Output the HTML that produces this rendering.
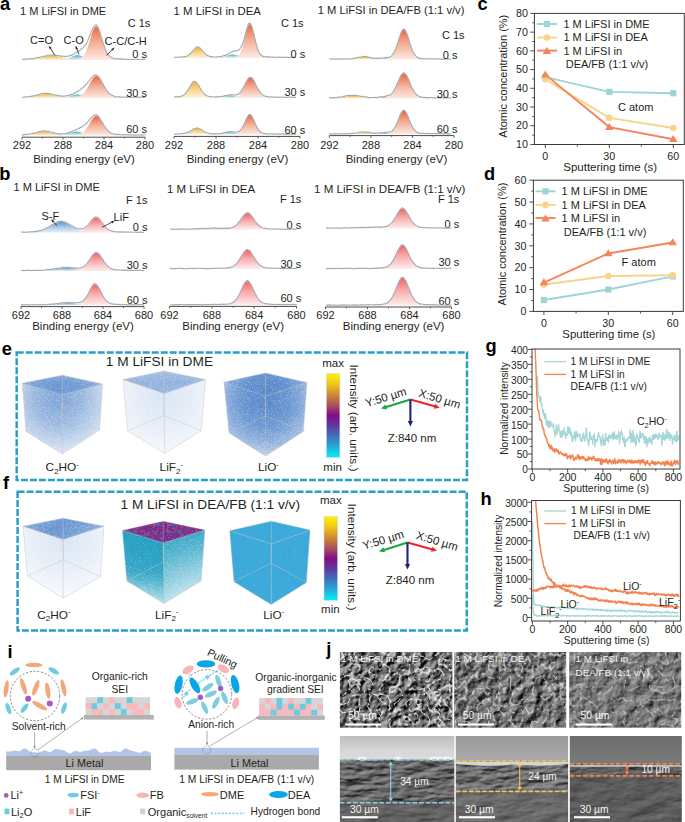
<!DOCTYPE html>
<html><head><meta charset="utf-8"><style>
html,body{margin:0;padding:0;background:#fff;}
svg{display:block;font-family:"Liberation Sans", sans-serif;}
</style></head><body>
<svg width="685" height="822" viewBox="0 0 685 822">
<defs><linearGradient id="gCC" x1="0" y1="0" x2="0" y2="1"><stop offset="0" stop-color="#eb6440"/><stop offset="0.45" stop-color="#f4ab92"/><stop offset="1" stop-color="#fcebe4"/></linearGradient><linearGradient id="gCO2" x1="0" y1="0" x2="0" y2="1"><stop offset="0" stop-color="#f0b22e"/><stop offset="0.45" stop-color="#f8d48a"/><stop offset="1" stop-color="#fdf3dc"/></linearGradient><linearGradient id="gCO" x1="0" y1="0" x2="0" y2="1"><stop offset="0" stop-color="#3cb4be"/><stop offset="0.45" stop-color="#98d6da"/><stop offset="1" stop-color="#e2f4f5"/></linearGradient><linearGradient id="gLiF" x1="0" y1="0" x2="0" y2="1"><stop offset="0" stop-color="#f46262"/><stop offset="0.45" stop-color="#f9abab"/><stop offset="1" stop-color="#fdeeee"/></linearGradient><linearGradient id="gSF" x1="0" y1="0" x2="0" y2="1"><stop offset="0" stop-color="#5596ce"/><stop offset="0.45" stop-color="#a4c6e6"/><stop offset="1" stop-color="#eaf2fa"/></linearGradient><clipPath id="clipg"><rect x="532.0" y="349.0" width="148.0" height="120.0"/></clipPath><clipPath id="cliph"><rect x="531.6" y="500.5" width="148.8" height="120.5"/></clipPath><linearGradient id="cbar" x1="0" y1="0" x2="0" y2="1"><stop offset="0" stop-color="#fff200"/><stop offset="0.12" stop-color="#f0c818"/><stop offset="0.25" stop-color="#d08a32"/><stop offset="0.38" stop-color="#a85060"/><stop offset="0.5" stop-color="#840a84"/><stop offset="0.63" stop-color="#5c3ea2"/><stop offset="0.76" stop-color="#3c78c0"/><stop offset="0.88" stop-color="#22b0d8"/><stop offset="1" stop-color="#00f0f8"/></linearGradient><filter id="sn1" x="-0.02" y="-0.02" width="1.04" height="1.04" color-interpolation-filters="sRGB"><feTurbulence type="fractalNoise" baseFrequency="1.3" numOctaves="2" seed="3" result="t"/><feColorMatrix in="t" type="matrix" values="0 0 0 0 1 0 0 0 0 1 0 0 0 0 1 1.1 0 0 0 0.44999999999999996" result="n"/><feComposite in="SourceGraphic" in2="n" operator="arithmetic" k1="1" k2="0" k3="0" k4="0"/><feComponentTransfer><feFuncA type="table" tableValues="0 0.22 0.46 0.7 0.9 1 1"/></feComponentTransfer></filter><radialGradient id="cg1" cx="0.45" cy="0.3" r="0.7"><stop offset="0" stop-color="#4a80c8" stop-opacity="0.52"/><stop offset="0.45" stop-color="#4a80c8" stop-opacity="0.4"/><stop offset="0.8" stop-color="#4a80c8" stop-opacity="0.24"/><stop offset="1" stop-color="#4a80c8" stop-opacity="0.14"/></radialGradient><linearGradient id="cg2" x1="0" y1="0" x2="0" y2="1"><stop offset="0" stop-color="#4a80c8" stop-opacity="0.16"/><stop offset="0.5" stop-color="#4a80c8" stop-opacity="0.28"/><stop offset="1" stop-color="#4a80c8" stop-opacity="0.22"/></linearGradient><filter id="sn2" x="-0.02" y="-0.02" width="1.04" height="1.04" color-interpolation-filters="sRGB"><feTurbulence type="fractalNoise" baseFrequency="1.3" numOctaves="2" seed="4" result="t"/><feColorMatrix in="t" type="matrix" values="0 0 0 0 1 0 0 0 0 1 0 0 0 0 1 1.1 0 0 0 0.44999999999999996" result="n"/><feComposite in="SourceGraphic" in2="n" operator="arithmetic" k1="1" k2="0" k3="0" k4="0"/><feComponentTransfer><feFuncA type="table" tableValues="0 0.22 0.46 0.7 0.9 1 1"/></feComponentTransfer></filter><radialGradient id="cg3" cx="0.5" cy="0.3" r="0.7"><stop offset="0" stop-color="#4a80c8" stop-opacity="0.16"/><stop offset="0.6" stop-color="#4a80c8" stop-opacity="0.1"/><stop offset="1" stop-color="#4a80c8" stop-opacity="0.04"/></radialGradient><linearGradient id="cg4" x1="0" y1="0" x2="0" y2="1"><stop offset="0" stop-color="#4a80c8" stop-opacity="0.28"/><stop offset="0.5" stop-color="#4a80c8" stop-opacity="0.36"/><stop offset="1" stop-color="#4a80c8" stop-opacity="0.3"/></linearGradient><filter id="sn3" x="-0.02" y="-0.02" width="1.04" height="1.04" color-interpolation-filters="sRGB"><feTurbulence type="fractalNoise" baseFrequency="1.3" numOctaves="2" seed="5" result="t"/><feColorMatrix in="t" type="matrix" values="0 0 0 0 1 0 0 0 0 1 0 0 0 0 1 1.1 0 0 0 0.44999999999999996" result="n"/><feComposite in="SourceGraphic" in2="n" operator="arithmetic" k1="1" k2="0" k3="0" k4="0"/><feComponentTransfer><feFuncA type="table" tableValues="0 0.22 0.46 0.7 0.9 1 1"/></feComponentTransfer></filter><radialGradient id="cg5" cx="0.5" cy="0.33" r="0.68"><stop offset="0" stop-color="#4a80c8" stop-opacity="0.7"/><stop offset="0.45" stop-color="#4a80c8" stop-opacity="0.6"/><stop offset="0.8" stop-color="#4a80c8" stop-opacity="0.4"/><stop offset="1" stop-color="#4a80c8" stop-opacity="0.25"/></radialGradient><linearGradient id="cg6" x1="0" y1="0" x2="0" y2="1"><stop offset="0" stop-color="#4a80c8" stop-opacity="0.08"/><stop offset="1" stop-color="#4a80c8" stop-opacity="0.12"/></linearGradient><filter id="sn4" x="-0.02" y="-0.02" width="1.04" height="1.04" color-interpolation-filters="sRGB"><feTurbulence type="fractalNoise" baseFrequency="1.3" numOctaves="2" seed="6" result="t"/><feColorMatrix in="t" type="matrix" values="0 0 0 0 1 0 0 0 0 1 0 0 0 0 1 1.1 0 0 0 0.44999999999999996" result="n"/><feComposite in="SourceGraphic" in2="n" operator="arithmetic" k1="1" k2="0" k3="0" k4="0"/><feComponentTransfer><feFuncA type="table" tableValues="0 0.22 0.46 0.7 0.9 1 1"/></feComponentTransfer></filter><radialGradient id="cg7" cx="0.5" cy="0.25" r="0.7"><stop offset="0" stop-color="#4a80c8" stop-opacity="0.16"/><stop offset="0.6" stop-color="#4a80c8" stop-opacity="0.1"/><stop offset="1" stop-color="#4a80c8" stop-opacity="0.04"/></radialGradient><linearGradient id="cg8" x1="0" y1="0" x2="1" y2="0.4"><stop offset="0" stop-color="#4a80c8" stop-opacity="0.4"/><stop offset="0.5" stop-color="#4a80c8" stop-opacity="0.55"/><stop offset="1" stop-color="#4a80c8" stop-opacity="0.42"/></linearGradient><filter id="sn5" x="-0.02" y="-0.02" width="1.04" height="1.04" color-interpolation-filters="sRGB"><feTurbulence type="fractalNoise" baseFrequency="1.3" numOctaves="2" seed="7" result="t"/><feColorMatrix in="t" type="matrix" values="0 0 0 0 1 0 0 0 0 1 0 0 0 0 1 1.0 0 0 0 0.5" result="n"/><feComposite in="SourceGraphic" in2="n" operator="arithmetic" k1="1" k2="0" k3="0" k4="0"/><feComponentTransfer><feFuncA type="table" tableValues="0 0.22 0.46 0.7 0.9 1 1"/></feComponentTransfer></filter><linearGradient id="cg9" x1="0" y1="0" x2="0" y2="1"><stop offset="0" stop-color="#762e8c" stop-opacity="0.92"/><stop offset="1" stop-color="#762e8c" stop-opacity="0.92"/></linearGradient><linearGradient id="cg10" x1="0" y1="0" x2="0" y2="1"><stop offset="0" stop-color="#1f9dc0" stop-opacity="0.8"/><stop offset="0.55" stop-color="#1f9dc0" stop-opacity="0.66"/><stop offset="1" stop-color="#1f9dc0" stop-opacity="0.1"/></linearGradient><linearGradient id="cg11" x1="0" y1="0" x2="1" y2="0"><stop offset="0" stop-color="#1f9dc0" stop-opacity="0.0"/><stop offset="0.7" stop-color="#1f9dc0" stop-opacity="0.12"/><stop offset="1" stop-color="#1f9dc0" stop-opacity="0.18"/></linearGradient><linearGradient id="cg12" x1="0" y1="0" x2="0" y2="1"><stop offset="0" stop-color="#1f9dc0" stop-opacity="0.66"/><stop offset="0.5" stop-color="#1f9dc0" stop-opacity="0.36"/><stop offset="1" stop-color="#1f9dc0" stop-opacity="0.04"/></linearGradient><linearGradient id="cg13" x1="0" y1="0" x2="1" y2="0"><stop offset="0" stop-color="#1f9dc0" stop-opacity="0.2"/><stop offset="1" stop-color="#1f9dc0" stop-opacity="0.0"/></linearGradient><filter id="sp6" x="0" y="0" width="1" height="1" color-interpolation-filters="sRGB"><feTurbulence type="fractalNoise" baseFrequency="0.3" numOctaves="2" seed="31" result="t"/><feColorMatrix in="t" type="matrix" values="0 0 0 0 0 0 0 0 0 0 0 0 0 0 0 1 0 0 0 0" result="na"/><feComposite in="SourceAlpha" in2="na" operator="arithmetic" k1="0" k2="5.0" k3="-5.0" k4="0.5" result="m"/><feFlood flood-color="#c04a66"/><feComposite in2="m" operator="in"/></filter><filter id="sp7" x="0" y="0" width="1" height="1" color-interpolation-filters="sRGB"><feTurbulence type="fractalNoise" baseFrequency="0.26" numOctaves="2" seed="32" result="t"/><feColorMatrix in="t" type="matrix" values="0 0 0 0 0 0 0 0 0 0 0 0 0 0 0 1 0 0 0 0" result="na"/><feComposite in="SourceAlpha" in2="na" operator="arithmetic" k1="0" k2="5.0" k3="-5.0" k4="0.5" result="m"/><feFlood flood-color="#5060bc"/><feComposite in2="m" operator="in"/></filter><filter id="sp8" x="0" y="0" width="1" height="1" color-interpolation-filters="sRGB"><feTurbulence type="fractalNoise" baseFrequency="0.7" numOctaves="2" seed="33" result="t"/><feColorMatrix in="t" type="matrix" values="0 0 0 0 0 0 0 0 0 0 0 0 0 0 0 1 0 0 0 0" result="na"/><feComposite in="SourceAlpha" in2="na" operator="arithmetic" k1="0" k2="5.0" k3="-5.0" k4="0.5" result="m"/><feFlood flood-color="#e06848"/><feComposite in2="m" operator="in"/></filter><filter id="sn9" x="-0.02" y="-0.02" width="1.04" height="1.04" color-interpolation-filters="sRGB"><feTurbulence type="fractalNoise" baseFrequency="1.3" numOctaves="2" seed="8" result="t"/><feColorMatrix in="t" type="matrix" values="0 0 0 0 1 0 0 0 0 1 0 0 0 0 1 1.1 0 0 0 0.44999999999999996" result="n"/><feComposite in="SourceGraphic" in2="n" operator="arithmetic" k1="1" k2="0" k3="0" k4="0"/><feComponentTransfer><feFuncA type="table" tableValues="0 0.22 0.46 0.7 0.9 1 1"/></feComponentTransfer></filter><linearGradient id="cg14" x1="0" y1="0" x2="0" y2="1"><stop offset="0" stop-color="#3ba9da" stop-opacity="0.97"/><stop offset="1" stop-color="#3ba9da" stop-opacity="0.97"/></linearGradient><linearGradient id="cg15" x1="0" y1="0" x2="0" y2="1"><stop offset="0" stop-color="#3ba9da" stop-opacity="0.97"/><stop offset="0.7" stop-color="#3ba9da" stop-opacity="0.97"/><stop offset="1" stop-color="#3ba9da" stop-opacity="0.91"/></linearGradient><linearGradient id="cg16" x1="0" y1="0" x2="0" y2="1"><stop offset="0" stop-color="#3ba9da" stop-opacity="0.97"/><stop offset="0.7" stop-color="#3ba9da" stop-opacity="0.97"/><stop offset="1" stop-color="#3ba9da" stop-opacity="0.83"/></linearGradient><filter id="semT1" x="0" y="0" width="1" height="1" color-interpolation-filters="sRGB"><feTurbulence type="fractalNoise" baseFrequency="0.13" numOctaves="4" seed="4" result="n"/><feDiffuseLighting in="n" surfaceScale="2.6" diffuseConstant="1" lighting-color="#fff"><feDistantLight azimuth="225" elevation="40"/></feDiffuseLighting><feColorMatrix type="matrix" values="0.95 0 0 0 -0.22 0.95 0 0 0 -0.22 0.95 0 0 0 -0.22 0 0 0 0 1"/><feComposite in2="SourceGraphic" operator="in"/></filter><filter id="semT2" x="0" y="0" width="1" height="1" color-interpolation-filters="sRGB"><feTurbulence type="fractalNoise" baseFrequency="0.1" numOctaves="4" seed="3" result="n"/><feDiffuseLighting in="n" surfaceScale="2.4" diffuseConstant="1" lighting-color="#fff"><feDistantLight azimuth="225" elevation="45"/></feDiffuseLighting><feColorMatrix type="matrix" values="0.95 0 0 0 -0.25 0.95 0 0 0 -0.25 0.95 0 0 0 -0.25 0 0 0 0 1"/><feComposite in2="SourceGraphic" operator="in"/></filter><filter id="semT3" x="0" y="0" width="1" height="1" color-interpolation-filters="sRGB"><feTurbulence type="fractalNoise" baseFrequency="0.09" numOctaves="4" seed="6" result="n"/><feDiffuseLighting in="n" surfaceScale="2.0" diffuseConstant="1" lighting-color="#fff"><feDistantLight azimuth="225" elevation="50"/></feDiffuseLighting><feColorMatrix type="matrix" values="0.9 0 0 0 -0.23 0.9 0 0 0 -0.23 0.9 0 0 0 -0.23 0 0 0 0 1"/><feComposite in2="SourceGraphic" operator="in"/></filter><filter id="semM1" x="0" y="0" width="1" height="1" color-interpolation-filters="sRGB"><feTurbulence type="fractalNoise" baseFrequency="0.05 0.16" numOctaves="3" seed="14" result="n"/><feDiffuseLighting in="n" surfaceScale="2" diffuseConstant="1" lighting-color="#fff"><feDistantLight azimuth="225" elevation="45"/></feDiffuseLighting><feColorMatrix type="matrix" values="0.8 0 0 0 -0.16 0.8 0 0 0 -0.16 0.8 0 0 0 -0.16 0 0 0 0 1"/><feComposite in2="SourceGraphic" operator="in"/></filter><filter id="semM2" x="0" y="0" width="1" height="1" color-interpolation-filters="sRGB"><feTurbulence type="fractalNoise" baseFrequency="0.05 0.16" numOctaves="3" seed="15" result="n"/><feDiffuseLighting in="n" surfaceScale="2" diffuseConstant="1" lighting-color="#fff"><feDistantLight azimuth="225" elevation="45"/></feDiffuseLighting><feColorMatrix type="matrix" values="0.8 0 0 0 -0.14 0.8 0 0 0 -0.14 0.8 0 0 0 -0.14 0 0 0 0 1"/><feComposite in2="SourceGraphic" operator="in"/></filter><filter id="semM3" x="0" y="0" width="1" height="1" color-interpolation-filters="sRGB"><feTurbulence type="fractalNoise" baseFrequency="0.05 0.16" numOctaves="3" seed="16" result="n"/><feDiffuseLighting in="n" surfaceScale="1.5" diffuseConstant="1" lighting-color="#fff"><feDistantLight azimuth="225" elevation="45"/></feDiffuseLighting><feColorMatrix type="matrix" values="0.7 0 0 0 -0.12 0.7 0 0 0 -0.12 0.7 0 0 0 -0.12 0 0 0 0 1"/><feComposite in2="SourceGraphic" operator="in"/></filter><filter id="semL1" x="0" y="0" width="1" height="1" color-interpolation-filters="sRGB"><feTurbulence type="fractalNoise" baseFrequency="0.04 0.1" numOctaves="3" seed="17" result="n"/><feDiffuseLighting in="n" surfaceScale="1.2" diffuseConstant="1" lighting-color="#fff"><feDistantLight azimuth="225" elevation="50"/></feDiffuseLighting><feColorMatrix type="matrix" values="0.7 0 0 0 -0.15 0.7 0 0 0 -0.15 0.7 0 0 0 -0.15 0 0 0 0 1"/><feComposite in2="SourceGraphic" operator="in"/></filter><filter id="semL2" x="0" y="0" width="1" height="1" color-interpolation-filters="sRGB"><feTurbulence type="fractalNoise" baseFrequency="0.04 0.1" numOctaves="3" seed="18" result="n"/><feDiffuseLighting in="n" surfaceScale="1.2" diffuseConstant="1" lighting-color="#fff"><feDistantLight azimuth="225" elevation="50"/></feDiffuseLighting><feColorMatrix type="matrix" values="0.7 0 0 0 -0.13 0.7 0 0 0 -0.13 0.7 0 0 0 -0.13 0 0 0 0 1"/><feComposite in2="SourceGraphic" operator="in"/></filter><filter id="semL3" x="0" y="0" width="1" height="1" color-interpolation-filters="sRGB"><feTurbulence type="fractalNoise" baseFrequency="0.04 0.1" numOctaves="3" seed="19" result="n"/><feDiffuseLighting in="n" surfaceScale="1.2" diffuseConstant="1" lighting-color="#fff"><feDistantLight azimuth="225" elevation="50"/></feDiffuseLighting><feColorMatrix type="matrix" values="0.65 0 0 0 -0.14 0.65 0 0 0 -0.14 0.65 0 0 0 -0.14 0 0 0 0 1"/><feComposite in2="SourceGraphic" operator="in"/></filter><filter id="semE1" x="0" y="0" width="1" height="1" color-interpolation-filters="sRGB"><feTurbulence type="turbulence" baseFrequency="0.1" numOctaves="2" seed="21"/><feColorMatrix type="matrix" values="0 0 0 0 1 0 0 0 0 1 0 0 0 0 1 -7.0 0 0 0 1.3"/><feComposite in2="SourceGraphic" operator="in"/></filter><filter id="semE2" x="0" y="0" width="1" height="1" color-interpolation-filters="sRGB"><feTurbulence type="turbulence" baseFrequency="0.09" numOctaves="2" seed="22"/><feColorMatrix type="matrix" values="0 0 0 0 1 0 0 0 0 1 0 0 0 0 1 -7.0 0 0 0 1.15"/><feComposite in2="SourceGraphic" operator="in"/></filter><filter id="semE3" x="0" y="0" width="1" height="1" color-interpolation-filters="sRGB"><feTurbulence type="turbulence" baseFrequency="0.08" numOctaves="2" seed="23"/><feColorMatrix type="matrix" values="0 0 0 0 1 0 0 0 0 1 0 0 0 0 1 -7.0 0 0 0 1.05"/><feComposite in2="SourceGraphic" operator="in"/></filter><linearGradient id="skyB1" x1="0" y1="0" x2="0" y2="1"><stop offset="0" stop-color="#bdbdbd"/><stop offset="0.6" stop-color="#d6d6d6"/><stop offset="1" stop-color="#dcdcdc"/></linearGradient><linearGradient id="skyB2" x1="0" y1="0" x2="0" y2="1"><stop offset="0" stop-color="#9a9a9a"/><stop offset="1" stop-color="#ababab"/></linearGradient><linearGradient id="skyB3" x1="0" y1="0" x2="0" y2="1"><stop offset="0" stop-color="#6c6c6c"/><stop offset="1" stop-color="#7a7a7a"/></linearGradient></defs>
<rect width="685" height="822" fill="#fff"/>
<text x="0.00" y="10.00" font-size="18.3" font-weight="bold" fill="#000">a</text>
<text x="20.00" y="14.90" font-size="11" fill="#231f20">1 M LiFSI in DME</text>
<text x="173.50" y="14.60" font-size="11.4" fill="#231f20">1 M LiFSI in DEA</text>
<text x="317.70" y="13.60" font-size="11.2" fill="#231f20">1 M LiFSI in DEA/FB (1:1 v/v)</text>
<text x="150.30" y="27.00" font-size="11" text-anchor="end" fill="#231f20">C 1s</text>
<text x="303.50" y="26.90" font-size="11" text-anchor="end" fill="#231f20">C 1s</text>
<text x="464.50" y="39.30" font-size="11" text-anchor="end" fill="#231f20">C 1s</text>
<path d="M22.00,59.90 L22.00,59.74 L22.66,59.72 L23.33,59.71 L23.99,59.69 L24.65,59.67 L25.32,59.64 L25.98,59.62 L26.64,59.59 L27.31,59.55 L27.97,59.51 L28.63,59.47 L29.30,59.42 L29.96,59.37 L30.62,59.31 L31.29,59.25 L31.95,59.18 L32.61,59.10 L33.28,59.01 L33.94,58.92 L34.60,58.82 L35.27,58.71 L35.93,58.60 L36.59,58.48 L37.26,58.35 L37.92,58.21 L38.58,58.07 L39.25,57.92 L39.91,57.77 L40.57,57.61 L41.24,57.45 L41.90,57.29 L42.56,57.13 L43.23,56.96 L43.89,56.80 L44.55,56.64 L45.22,56.49 L45.88,56.34 L46.54,56.21 L47.21,56.08 L47.87,55.96 L48.53,55.86 L49.20,55.77 L49.86,55.70 L50.52,55.65 L51.19,55.61 L51.85,55.60 L52.51,55.61 L53.18,55.63 L53.84,55.68 L54.50,55.74 L55.17,55.82 L55.83,55.91 L56.49,56.02 L57.16,56.15 L57.82,56.28 L58.48,56.42 L59.15,56.58 L59.81,56.73 L60.47,56.89 L61.14,57.05 L61.80,57.22 L62.46,57.38 L63.13,57.54 L63.79,57.70 L64.45,57.86 L65.12,58.01 L65.78,58.15 L66.44,58.29 L67.11,58.42 L67.77,58.55 L68.43,58.66 L69.10,58.77 L69.76,58.88 L70.42,58.97 L71.09,59.06 L71.75,59.14 L72.41,59.22 L73.08,59.28 L73.74,59.35 L74.40,59.40 L75.07,59.45 L75.73,59.50 L76.40,59.54 L77.06,59.57 L77.72,59.60 L78.39,59.63 L79.05,59.66 L79.71,59.68 L80.38,59.70 L81.04,59.72 L81.70,59.73 L82.37,59.74 L83.03,59.75 L83.69,59.76 L84.36,59.77 L85.02,59.78 L85.68,59.79 L86.35,59.79 L87.01,59.80 L87.67,59.81 L88.34,59.81 L89.00,59.81 L89.66,59.82 L90.33,59.82 L90.99,59.82 L91.65,59.83 L92.32,59.83 L92.98,59.83 L93.64,59.83 L94.31,59.84 L94.97,59.84 L95.63,59.84 L96.30,59.84 L96.96,59.84 L97.62,59.84 L98.29,59.85 L98.95,59.85 L99.61,59.85 L100.28,59.85 L100.94,59.85 L101.60,59.85 L102.27,59.85 L102.93,59.85 L103.59,59.86 L104.26,59.86 L104.92,59.86 L105.58,59.86 L106.25,59.86 L106.91,59.86 L107.57,59.86 L108.24,59.86 L108.90,59.86 L109.56,59.86 L110.23,59.86 L110.89,59.87 L111.55,59.87 L112.22,59.87 L112.88,59.87 L113.54,59.87 L114.21,59.87 L114.87,59.87 L115.53,59.87 L116.20,59.87 L116.86,59.87 L117.52,59.87 L118.19,59.87 L118.85,59.87 L119.51,59.87 L120.18,59.87 L120.84,59.87 L121.50,59.88 L122.17,59.88 L122.83,59.88 L123.49,59.88 L124.16,59.88 L124.82,59.88 L125.48,59.88 L126.15,59.88 L126.81,59.88 L127.47,59.88 L128.14,59.88 L128.80,59.88 L128.80,59.90Z" fill="url(#gCO2)"/>
<path d="M29.50,59.90 L29.50,59.88 L30.16,59.88 L30.82,59.88 L31.49,59.88 L32.15,59.88 L32.81,59.87 L33.47,59.87 L34.13,59.87 L34.80,59.87 L35.46,59.87 L36.12,59.87 L36.78,59.87 L37.44,59.87 L38.11,59.87 L38.77,59.87 L39.43,59.87 L40.09,59.86 L40.76,59.86 L41.42,59.86 L42.08,59.86 L42.74,59.86 L43.40,59.86 L44.07,59.86 L44.73,59.85 L45.39,59.85 L46.05,59.85 L46.71,59.85 L47.38,59.85 L48.04,59.84 L48.70,59.84 L49.36,59.84 L50.02,59.84 L50.69,59.83 L51.35,59.83 L52.01,59.83 L52.67,59.82 L53.33,59.82 L54.00,59.81 L54.66,59.80 L55.32,59.80 L55.98,59.79 L56.64,59.78 L57.31,59.76 L57.97,59.75 L58.63,59.73 L59.29,59.70 L59.96,59.67 L60.62,59.64 L61.28,59.59 L61.94,59.54 L62.60,59.48 L63.27,59.40 L63.93,59.30 L64.59,59.20 L65.25,59.07 L65.91,58.92 L66.58,58.76 L67.24,58.57 L67.90,58.37 L68.56,58.14 L69.22,57.90 L69.89,57.65 L70.55,57.38 L71.21,57.10 L71.87,56.82 L72.53,56.54 L73.20,56.28 L73.86,56.03 L74.52,55.81 L75.18,55.62 L75.84,55.46 L76.51,55.36 L77.17,55.31 L77.83,55.31 L78.49,55.36 L79.16,55.46 L79.82,55.62 L80.48,55.81 L81.14,56.03 L81.80,56.28 L82.47,56.54 L83.13,56.82 L83.79,57.10 L84.45,57.38 L85.11,57.65 L85.78,57.90 L86.44,58.14 L87.10,58.37 L87.76,58.57 L88.42,58.76 L89.09,58.92 L89.75,59.07 L90.41,59.20 L91.07,59.30 L91.73,59.40 L92.40,59.48 L93.06,59.54 L93.72,59.59 L94.38,59.64 L95.04,59.67 L95.71,59.70 L96.37,59.73 L97.03,59.75 L97.69,59.76 L98.36,59.78 L99.02,59.79 L99.68,59.80 L100.34,59.80 L101.00,59.81 L101.67,59.82 L102.33,59.82 L102.99,59.83 L103.65,59.83 L104.31,59.83 L104.98,59.84 L105.64,59.84 L106.30,59.84 L106.96,59.84 L107.62,59.85 L108.29,59.85 L108.95,59.85 L109.61,59.85 L110.27,59.85 L110.93,59.86 L111.60,59.86 L112.26,59.86 L112.92,59.86 L113.58,59.86 L114.24,59.86 L114.91,59.86 L115.57,59.87 L116.23,59.87 L116.89,59.87 L117.56,59.87 L118.22,59.87 L118.88,59.87 L119.54,59.87 L120.20,59.87 L120.87,59.87 L121.53,59.87 L122.19,59.87 L122.85,59.88 L123.51,59.88 L124.18,59.88 L124.84,59.88 L125.50,59.88 L125.50,59.90Z" fill="url(#gCO)"/>
<path d="M51.20,59.90 L51.20,59.78 L51.86,59.78 L52.53,59.77 L53.19,59.77 L53.85,59.77 L54.52,59.76 L55.18,59.76 L55.85,59.75 L56.51,59.75 L57.17,59.74 L57.84,59.74 L58.50,59.73 L59.16,59.72 L59.83,59.72 L60.49,59.71 L61.16,59.71 L61.82,59.70 L62.48,59.69 L63.15,59.68 L63.81,59.67 L64.47,59.66 L65.14,59.65 L65.80,59.64 L66.47,59.63 L67.13,59.62 L67.79,59.61 L68.46,59.59 L69.12,59.58 L69.78,59.56 L70.45,59.55 L71.11,59.53 L71.77,59.51 L72.44,59.48 L73.10,59.45 L73.77,59.42 L74.43,59.38 L75.09,59.33 L75.76,59.28 L76.42,59.20 L77.08,59.11 L77.75,59.00 L78.41,58.85 L79.08,58.67 L79.74,58.44 L80.40,58.15 L81.07,57.78 L81.73,57.33 L82.39,56.77 L83.06,56.10 L83.72,55.29 L84.39,54.34 L85.05,53.22 L85.71,51.94 L86.38,50.48 L87.04,48.85 L87.70,47.05 L88.37,45.11 L89.03,43.05 L89.69,40.90 L90.36,38.70 L91.02,36.51 L91.69,34.37 L92.35,32.37 L93.01,30.55 L93.68,28.99 L94.34,27.75 L95.00,26.90 L95.67,26.46 L96.33,26.46 L97.00,26.90 L97.66,27.75 L98.32,28.99 L98.99,30.55 L99.65,32.37 L100.31,34.37 L100.98,36.51 L101.64,38.70 L102.31,40.90 L102.97,43.05 L103.63,45.11 L104.30,47.05 L104.96,48.85 L105.62,50.48 L106.29,51.94 L106.95,53.22 L107.61,54.34 L108.28,55.29 L108.94,56.10 L109.61,56.77 L110.27,57.33 L110.93,57.78 L111.60,58.15 L112.26,58.44 L112.92,58.67 L113.59,58.85 L114.25,59.00 L114.92,59.11 L115.58,59.20 L116.24,59.28 L116.91,59.33 L117.57,59.38 L118.23,59.42 L118.90,59.45 L119.56,59.48 L120.23,59.51 L120.89,59.53 L121.55,59.55 L122.22,59.56 L122.88,59.58 L123.54,59.59 L124.21,59.61 L124.87,59.62 L125.53,59.63 L126.20,59.64 L126.86,59.65 L127.53,59.66 L128.19,59.67 L128.85,59.68 L129.52,59.69 L130.18,59.70 L130.84,59.71 L131.51,59.71 L132.17,59.72 L132.84,59.72 L133.50,59.73 L134.16,59.74 L134.83,59.74 L135.49,59.75 L136.15,59.75 L136.82,59.76 L137.48,59.76 L138.15,59.77 L138.81,59.77 L139.47,59.77 L140.14,59.78 L140.80,59.78 L140.80,59.90Z" fill="url(#gCC)"/>
<path d="M22.00,59.20 L22.63,59.25 L23.25,59.45 L23.88,59.16 L24.51,59.16 L25.13,59.19 L25.76,58.92 L26.39,59.09 L27.02,59.13 L27.64,59.19 L28.27,58.73 L28.90,58.81 L29.52,58.63 L30.15,59.01 L30.78,58.88 L31.40,58.43 L32.03,58.92 L32.66,58.84 L33.28,58.57 L33.91,58.45 L34.54,58.08 L35.16,57.90 L35.79,58.10 L36.42,57.70 L37.05,57.65 L37.67,57.56 L38.30,57.30 L38.93,57.42 L39.55,57.26 L40.18,57.35 L40.81,57.00 L41.43,56.92 L42.06,56.68 L42.69,56.62 L43.31,56.34 L43.94,56.07 L44.57,56.35 L45.20,56.20 L45.82,55.97 L46.45,55.75 L47.08,55.39 L47.70,55.22 L48.33,55.15 L48.96,54.93 L49.58,55.26 L50.21,54.98 L50.84,55.20 L51.46,54.90 L52.09,55.23 L52.72,55.16 L53.35,54.68 L53.97,54.84 L54.60,55.31 L55.23,55.11 L55.85,55.50 L56.48,55.24 L57.11,55.14 L57.73,55.58 L58.36,55.78 L58.99,55.59 L59.61,55.60 L60.24,55.86 L60.87,56.35 L61.49,56.33 L62.12,56.03 L62.75,56.19 L63.38,56.17 L64.00,56.20 L64.63,56.67 L65.26,56.31 L65.88,56.52 L66.51,56.41 L67.14,56.19 L67.76,56.42 L68.39,55.93 L69.02,56.09 L69.64,55.59 L70.27,55.56 L70.90,55.19 L71.53,54.96 L72.15,55.09 L72.78,54.68 L73.41,54.04 L74.03,54.04 L74.66,53.27 L75.29,53.01 L75.91,52.91 L76.54,52.39 L77.17,51.68 L77.79,51.83 L78.42,50.97 L79.05,50.60 L79.68,50.50 L80.30,49.82 L80.93,49.36 L81.56,48.75 L82.18,48.25 L82.81,47.98 L83.44,47.16 L84.06,46.69 L84.69,45.78 L85.32,44.96 L85.94,44.30 L86.57,42.95 L87.20,41.82 L87.82,40.70 L88.45,38.89 L89.08,37.38 L89.71,36.27 L90.33,34.61 L90.96,32.64 L91.59,31.01 L92.21,29.83 L92.84,28.56 L93.47,26.90 L94.09,26.37 L94.72,25.64 L95.35,25.10 L95.97,24.98 L96.60,25.13 L97.23,25.80 L97.86,27.40 L98.48,28.31 L99.11,30.19 L99.74,31.73 L100.36,34.03 L100.99,35.94 L101.62,37.86 L102.24,39.89 L102.87,42.27 L103.50,43.86 L104.12,45.83 L104.75,47.77 L105.38,49.55 L106.01,50.85 L106.63,51.94 L107.26,53.47 L107.89,54.03 L108.51,54.76 L109.14,55.64 L109.77,56.35 L110.39,56.63 L111.02,57.11 L111.65,57.57 L112.27,57.96 L112.90,57.92 L113.53,58.24 L114.15,58.70 L114.78,58.87 L115.41,58.76 L116.04,58.86 L116.66,58.85 L117.29,58.64 L117.92,58.62 L118.54,58.64 L119.17,59.21 L119.80,59.11 L120.42,59.29 L121.05,58.74 L121.68,59.13 L122.30,59.06 L122.93,59.22 L123.56,58.99 L124.19,59.41 L124.81,58.87 L125.44,59.16 L126.07,59.29 L126.69,59.40 L127.32,59.31 L127.95,59.30 L128.57,59.36 L129.20,59.45 L129.83,59.12 L130.45,59.32 L131.08,59.46 L131.71,59.45 L132.34,59.18 L132.96,59.42 L133.59,59.47 L134.22,59.30 L134.84,59.33 L135.47,59.19 L136.10,59.32 L136.72,59.34 L137.35,59.03 L137.98,59.37 L138.60,59.58 L139.23,59.52 L139.86,59.43 L140.48,59.23 L141.11,59.44 L141.74,59.36 L142.37,59.28 L142.99,59.52 L143.62,59.07 L144.25,59.47 L144.87,59.04 L145.50,59.39" fill="none" stroke="#a4a9ac" stroke-width="1.1" stroke-linejoin="round"/>
<path d="M22.00,97.90 L22.00,97.72 L22.66,97.70 L23.32,97.68 L23.98,97.65 L24.65,97.62 L25.31,97.58 L25.97,97.54 L26.63,97.49 L27.29,97.44 L27.95,97.38 L28.62,97.31 L29.28,97.23 L29.94,97.14 L30.60,97.04 L31.26,96.94 L31.92,96.82 L32.59,96.69 L33.25,96.56 L33.91,96.41 L34.57,96.26 L35.23,96.10 L35.89,95.93 L36.56,95.75 L37.22,95.57 L37.88,95.39 L38.54,95.21 L39.20,95.03 L39.86,94.85 L40.53,94.68 L41.19,94.52 L41.85,94.38 L42.51,94.25 L43.17,94.13 L43.83,94.04 L44.50,93.97 L45.16,93.92 L45.82,93.90 L46.48,93.91 L47.14,93.94 L47.80,94.00 L48.47,94.08 L49.13,94.18 L49.79,94.30 L50.45,94.44 L51.11,94.60 L51.77,94.76 L52.44,94.93 L53.10,95.11 L53.76,95.29 L54.42,95.47 L55.08,95.66 L55.74,95.83 L56.41,96.01 L57.07,96.17 L57.73,96.33 L58.39,96.48 L59.05,96.62 L59.71,96.75 L60.38,96.88 L61.04,96.99 L61.70,97.09 L62.36,97.18 L63.02,97.27 L63.68,97.34 L64.35,97.41 L65.01,97.47 L65.67,97.52 L66.33,97.56 L66.99,97.60 L67.65,97.64 L68.32,97.66 L68.98,97.69 L69.64,97.71 L70.30,97.73 L70.96,97.75 L71.62,97.76 L72.29,97.77 L72.95,97.78 L73.61,97.79 L74.27,97.80 L74.93,97.80 L75.59,97.81 L76.26,97.82 L76.92,97.82 L77.58,97.82 L78.24,97.83 L78.90,97.83 L79.56,97.83 L80.23,97.84 L80.89,97.84 L81.55,97.84 L82.21,97.84 L82.87,97.84 L83.53,97.85 L84.20,97.85 L84.86,97.85 L85.52,97.85 L86.18,97.85 L86.84,97.85 L87.50,97.86 L88.17,97.86 L88.83,97.86 L89.49,97.86 L90.15,97.86 L90.81,97.86 L91.47,97.86 L92.14,97.86 L92.80,97.87 L93.46,97.87 L94.12,97.87 L94.78,97.87 L95.44,97.87 L96.11,97.87 L96.77,97.87 L97.43,97.87 L98.09,97.87 L98.75,97.87 L99.41,97.87 L100.08,97.87 L100.74,97.87 L101.40,97.87 L102.06,97.88 L102.72,97.88 L103.38,97.88 L104.05,97.88 L104.71,97.88 L105.37,97.88 L106.03,97.88 L106.69,97.88 L107.35,97.88 L108.02,97.88 L108.68,97.88 L109.34,97.88 L110.00,97.88 L110.00,97.90Z" fill="url(#gCO2)"/>
<path d="M26.30,97.90 L26.30,97.88 L26.96,97.88 L27.63,97.88 L28.29,97.88 L28.96,97.88 L29.62,97.88 L30.29,97.88 L30.95,97.88 L31.62,97.88 L32.28,97.88 L32.95,97.88 L33.61,97.88 L34.28,97.88 L34.94,97.88 L35.61,97.88 L36.27,97.88 L36.94,97.87 L37.60,97.87 L38.27,97.87 L38.93,97.87 L39.60,97.87 L40.26,97.87 L40.93,97.87 L41.59,97.87 L42.26,97.87 L42.92,97.87 L43.59,97.86 L44.25,97.86 L44.92,97.86 L45.58,97.86 L46.25,97.86 L46.91,97.86 L47.58,97.85 L48.24,97.85 L48.91,97.85 L49.57,97.85 L50.24,97.85 L50.90,97.84 L51.57,97.84 L52.23,97.84 L52.90,97.83 L53.56,97.83 L54.23,97.82 L54.89,97.81 L55.56,97.81 L56.22,97.80 L56.89,97.78 L57.55,97.77 L58.22,97.75 L58.88,97.73 L59.55,97.70 L60.21,97.67 L60.88,97.64 L61.54,97.59 L62.21,97.54 L62.87,97.48 L63.54,97.40 L64.20,97.32 L64.87,97.22 L65.53,97.11 L66.20,96.99 L66.86,96.86 L67.53,96.71 L68.19,96.55 L68.86,96.38 L69.52,96.19 L70.19,96.01 L70.85,95.81 L71.52,95.62 L72.18,95.43 L72.85,95.24 L73.51,95.07 L74.18,94.91 L74.84,94.77 L75.51,94.65 L76.17,94.57 L76.84,94.52 L77.50,94.50 L78.16,94.52 L78.83,94.57 L79.49,94.65 L80.16,94.77 L80.82,94.91 L81.49,95.07 L82.15,95.24 L82.82,95.43 L83.48,95.62 L84.15,95.81 L84.81,96.01 L85.48,96.19 L86.14,96.38 L86.81,96.55 L87.47,96.71 L88.14,96.86 L88.80,96.99 L89.47,97.11 L90.13,97.22 L90.80,97.32 L91.46,97.40 L92.13,97.48 L92.79,97.54 L93.46,97.59 L94.12,97.64 L94.79,97.67 L95.45,97.70 L96.12,97.73 L96.78,97.75 L97.45,97.77 L98.11,97.78 L98.78,97.80 L99.44,97.81 L100.11,97.81 L100.77,97.82 L101.44,97.83 L102.10,97.83 L102.77,97.84 L103.43,97.84 L104.10,97.84 L104.76,97.85 L105.43,97.85 L106.09,97.85 L106.76,97.85 L107.42,97.85 L108.09,97.86 L108.75,97.86 L109.42,97.86 L110.08,97.86 L110.75,97.86 L111.41,97.86 L112.08,97.87 L112.74,97.87 L113.41,97.87 L114.07,97.87 L114.74,97.87 L115.40,97.87 L116.07,97.87 L116.73,97.87 L117.40,97.87 L118.06,97.87 L118.73,97.88 L119.39,97.88 L120.06,97.88 L120.72,97.88 L121.39,97.88 L122.05,97.88 L122.72,97.88 L123.38,97.88 L124.05,97.88 L124.71,97.88 L125.38,97.88 L126.04,97.88 L126.71,97.88 L127.37,97.88 L128.04,97.88 L128.70,97.88 L128.70,97.90Z" fill="url(#gCO)"/>
<path d="M43.30,97.90 L43.30,97.82 L43.96,97.82 L44.63,97.82 L45.29,97.82 L45.95,97.81 L46.62,97.81 L47.28,97.81 L47.95,97.81 L48.61,97.80 L49.27,97.80 L49.94,97.80 L50.60,97.80 L51.26,97.79 L51.93,97.79 L52.59,97.79 L53.25,97.78 L53.92,97.78 L54.58,97.78 L55.25,97.77 L55.91,97.77 L56.57,97.76 L57.24,97.76 L57.90,97.75 L58.56,97.75 L59.23,97.74 L59.89,97.74 L60.55,97.73 L61.22,97.73 L61.88,97.72 L62.55,97.71 L63.21,97.71 L63.87,97.70 L64.54,97.69 L65.20,97.68 L65.86,97.67 L66.53,97.66 L67.19,97.65 L67.85,97.64 L68.52,97.62 L69.18,97.61 L69.85,97.59 L70.51,97.57 L71.17,97.54 L71.84,97.51 L72.50,97.48 L73.16,97.44 L73.83,97.39 L74.49,97.32 L75.15,97.25 L75.82,97.15 L76.48,97.04 L77.15,96.90 L77.81,96.73 L78.47,96.53 L79.14,96.29 L79.80,95.99 L80.46,95.65 L81.13,95.25 L81.79,94.78 L82.45,94.24 L83.12,93.63 L83.78,92.94 L84.45,92.16 L85.11,91.31 L85.77,90.37 L86.44,89.36 L87.10,88.29 L87.76,87.15 L88.43,85.97 L89.09,84.77 L89.75,83.55 L90.42,82.34 L91.08,81.17 L91.75,80.07 L92.41,79.05 L93.07,78.14 L93.74,77.37 L94.40,76.77 L95.06,76.35 L95.73,76.13 L96.39,76.12 L97.05,76.31 L97.72,76.71 L98.38,77.29 L99.05,78.04 L99.71,78.93 L100.37,79.94 L101.04,81.03 L101.70,82.20 L102.36,83.40 L103.03,84.62 L103.69,85.82 L104.35,87.01 L105.02,88.15 L105.68,89.23 L106.35,90.25 L107.01,91.20 L107.67,92.06 L108.34,92.84 L109.00,93.55 L109.66,94.17 L110.33,94.72 L110.99,95.19 L111.65,95.61 L112.32,95.96 L112.98,96.25 L113.65,96.50 L114.31,96.71 L114.97,96.88 L115.64,97.03 L116.30,97.14 L116.96,97.24 L117.63,97.32 L118.29,97.38 L118.95,97.43 L119.62,97.48 L120.28,97.51 L120.95,97.54 L121.61,97.57 L122.27,97.59 L122.94,97.61 L123.60,97.62 L124.26,97.64 L124.93,97.65 L125.59,97.66 L126.25,97.67 L126.92,97.68 L127.58,97.69 L128.25,97.70 L128.91,97.71 L129.57,97.71 L130.24,97.72 L130.90,97.73 L131.56,97.73 L132.23,97.74 L132.89,97.74 L133.55,97.75 L134.22,97.75 L134.88,97.76 L135.55,97.76 L136.21,97.77 L136.87,97.77 L137.54,97.78 L138.20,97.78 L138.86,97.78 L139.53,97.79 L140.19,97.79 L140.85,97.79 L141.52,97.80 L142.18,97.80 L142.85,97.80 L143.51,97.80 L144.17,97.81 L144.84,97.81 L145.50,97.81 L145.50,97.90Z" fill="url(#gCC)"/>
<path d="M22.00,97.20 L22.63,97.29 L23.25,97.28 L23.88,96.94 L24.51,96.83 L25.13,97.01 L25.76,96.91 L26.39,97.19 L27.02,97.06 L27.64,96.95 L28.27,96.86 L28.90,96.86 L29.52,96.47 L30.15,96.56 L30.78,96.29 L31.40,96.64 L32.03,96.01 L32.66,96.35 L33.28,95.77 L33.91,96.00 L34.54,95.64 L35.16,95.52 L35.79,95.63 L36.42,94.96 L37.05,94.82 L37.67,95.16 L38.30,94.74 L38.93,94.31 L39.55,94.68 L40.18,94.49 L40.81,93.83 L41.43,93.87 L42.06,93.56 L42.69,93.54 L43.31,93.62 L43.94,93.26 L44.57,93.51 L45.20,93.08 L45.82,93.13 L46.45,93.52 L47.08,93.29 L47.70,93.35 L48.33,93.52 L48.96,93.54 L49.58,93.59 L50.21,93.50 L50.84,94.05 L51.46,94.34 L52.09,94.50 L52.72,94.47 L53.35,94.45 L53.97,94.62 L54.60,94.98 L55.23,95.13 L55.85,94.95 L56.48,95.17 L57.11,95.39 L57.73,95.61 L58.36,95.91 L58.99,95.83 L59.61,95.64 L60.24,96.20 L60.87,96.03 L61.49,96.14 L62.12,96.00 L62.75,96.14 L63.38,96.11 L64.00,96.33 L64.63,95.89 L65.26,96.10 L65.88,95.80 L66.51,96.02 L67.14,95.51 L67.76,95.52 L68.39,95.41 L69.02,95.42 L69.64,94.88 L70.27,94.92 L70.90,94.54 L71.53,94.35 L72.15,94.21 L72.78,94.23 L73.41,93.66 L74.03,93.65 L74.66,92.87 L75.29,93.00 L75.91,92.33 L76.54,91.87 L77.17,91.85 L77.79,91.58 L78.42,90.65 L79.05,90.41 L79.68,90.29 L80.30,89.60 L80.93,89.08 L81.56,88.46 L82.18,87.97 L82.81,87.78 L83.44,87.44 L84.06,86.85 L84.69,85.93 L85.32,84.99 L85.94,84.49 L86.57,84.05 L87.20,83.34 L87.82,82.45 L88.45,81.42 L89.08,80.80 L89.71,79.96 L90.33,79.25 L90.96,78.25 L91.59,77.91 L92.21,77.19 L92.84,76.13 L93.47,75.68 L94.09,75.61 L94.72,74.96 L95.35,75.22 L95.97,74.98 L96.60,75.26 L97.23,75.61 L97.86,75.81 L98.48,76.50 L99.11,77.26 L99.74,78.41 L100.36,79.41 L100.99,80.13 L101.62,81.70 L102.24,82.56 L102.87,83.62 L103.50,84.89 L104.12,86.35 L104.75,87.20 L105.38,88.29 L106.01,89.47 L106.63,90.42 L107.26,91.17 L107.89,91.76 L108.51,92.58 L109.14,93.42 L109.77,93.93 L110.39,94.31 L111.02,94.62 L111.65,95.02 L112.27,95.57 L112.90,95.76 L113.53,95.67 L114.15,96.29 L114.78,96.58 L115.41,96.66 L116.04,96.84 L116.66,96.95 L117.29,96.81 L117.92,97.03 L118.54,96.84 L119.17,96.72 L119.80,96.91 L120.42,96.92 L121.05,97.32 L121.68,97.20 L122.30,97.13 L122.93,97.19 L123.56,96.91 L124.19,97.17 L124.81,97.29 L125.44,97.11 L126.07,97.03 L126.69,97.14 L127.32,97.10 L127.95,97.33 L128.57,97.01 L129.20,96.99 L129.83,97.13 L130.45,97.36 L131.08,97.41 L131.71,97.35 L132.34,97.52 L132.96,97.19 L133.59,96.99 L134.22,97.27 L134.84,97.25 L135.47,97.10 L136.10,97.39 L136.72,97.20 L137.35,97.15 L137.98,97.20 L138.60,97.58 L139.23,97.02 L139.86,97.23 L140.48,97.19 L141.11,97.15 L141.74,97.29 L142.37,97.16 L142.99,97.58 L143.62,97.34 L144.25,97.46 L144.87,97.14 L145.50,97.32" fill="none" stroke="#a4a9ac" stroke-width="1.1" stroke-linejoin="round"/>
<path d="M22.00,135.50 L22.00,135.30 L22.66,135.27 L23.32,135.24 L23.99,135.21 L24.65,135.16 L25.31,135.12 L25.97,135.06 L26.64,135.00 L27.30,134.93 L27.96,134.85 L28.62,134.76 L29.29,134.66 L29.95,134.55 L30.61,134.42 L31.27,134.29 L31.94,134.15 L32.60,133.99 L33.26,133.83 L33.92,133.66 L34.59,133.48 L35.25,133.29 L35.91,133.10 L36.57,132.91 L37.24,132.72 L37.90,132.53 L38.56,132.35 L39.22,132.18 L39.88,132.02 L40.55,131.87 L41.21,131.75 L41.87,131.65 L42.53,131.57 L43.20,131.52 L43.86,131.50 L44.52,131.51 L45.18,131.55 L45.85,131.61 L46.51,131.70 L47.17,131.82 L47.83,131.95 L48.50,132.11 L49.16,132.27 L49.82,132.45 L50.48,132.64 L51.15,132.83 L51.81,133.02 L52.47,133.21 L53.13,133.40 L53.80,133.58 L54.46,133.76 L55.12,133.92 L55.78,134.08 L56.44,134.23 L57.11,134.37 L57.77,134.50 L58.43,134.61 L59.09,134.72 L59.76,134.81 L60.42,134.90 L61.08,134.97 L61.74,135.04 L62.41,135.09 L63.07,135.14 L63.73,135.19 L64.39,135.23 L65.06,135.26 L65.72,135.29 L66.38,135.31 L67.04,135.33 L67.71,135.35 L68.37,135.36 L69.03,135.37 L69.69,135.38 L70.36,135.39 L71.02,135.40 L71.68,135.41 L72.34,135.41 L73.00,135.42 L73.67,135.42 L74.33,135.43 L74.99,135.43 L75.65,135.43 L76.32,135.44 L76.98,135.44 L77.64,135.44 L78.30,135.44 L78.97,135.44 L79.63,135.45 L80.29,135.45 L80.95,135.45 L81.62,135.45 L82.28,135.45 L82.94,135.46 L83.60,135.46 L84.27,135.46 L84.93,135.46 L85.59,135.46 L86.25,135.46 L86.92,135.46 L87.58,135.46 L88.24,135.46 L88.90,135.47 L89.56,135.47 L90.23,135.47 L90.89,135.47 L91.55,135.47 L92.21,135.47 L92.88,135.47 L93.54,135.47 L94.20,135.47 L94.86,135.47 L95.53,135.47 L96.19,135.47 L96.85,135.47 L97.51,135.48 L98.18,135.48 L98.84,135.48 L99.50,135.48 L100.16,135.48 L100.83,135.48 L101.49,135.48 L102.15,135.48 L102.81,135.48 L103.48,135.48 L104.14,135.48 L104.80,135.48 L104.80,135.50Z" fill="url(#gCO2)"/>
<path d="M25.30,135.50 L25.30,135.48 L25.96,135.48 L26.63,135.48 L27.29,135.48 L27.96,135.48 L28.62,135.48 L29.29,135.48 L29.95,135.48 L30.62,135.48 L31.28,135.48 L31.95,135.48 L32.61,135.47 L33.28,135.47 L33.94,135.47 L34.61,135.47 L35.27,135.47 L35.94,135.47 L36.60,135.47 L37.27,135.47 L37.93,135.47 L38.60,135.47 L39.26,135.47 L39.93,135.46 L40.59,135.46 L41.26,135.46 L41.92,135.46 L42.59,135.46 L43.25,135.46 L43.92,135.46 L44.58,135.45 L45.25,135.45 L45.91,135.45 L46.58,135.45 L47.24,135.45 L47.91,135.44 L48.57,135.44 L49.24,135.44 L49.90,135.43 L50.57,135.43 L51.23,135.43 L51.90,135.42 L52.56,135.42 L53.23,135.41 L53.89,135.40 L54.56,135.39 L55.22,135.38 L55.89,135.37 L56.55,135.35 L57.22,135.33 L57.88,135.31 L58.55,135.28 L59.21,135.24 L59.88,135.20 L60.54,135.15 L61.21,135.08 L61.87,135.01 L62.54,134.93 L63.20,134.83 L63.87,134.72 L64.53,134.60 L65.20,134.46 L65.86,134.30 L66.53,134.13 L67.19,133.95 L67.86,133.75 L68.52,133.54 L69.19,133.33 L69.85,133.11 L70.52,132.88 L71.18,132.66 L71.85,132.45 L72.51,132.25 L73.18,132.07 L73.84,131.91 L74.51,131.78 L75.17,131.68 L75.84,131.62 L76.50,131.60 L77.16,131.62 L77.83,131.68 L78.49,131.78 L79.16,131.91 L79.82,132.07 L80.49,132.25 L81.15,132.45 L81.82,132.66 L82.48,132.88 L83.15,133.11 L83.81,133.33 L84.48,133.54 L85.14,133.75 L85.81,133.95 L86.47,134.13 L87.14,134.30 L87.80,134.46 L88.47,134.60 L89.13,134.72 L89.80,134.83 L90.46,134.93 L91.13,135.01 L91.79,135.08 L92.46,135.15 L93.12,135.20 L93.79,135.24 L94.45,135.28 L95.12,135.31 L95.78,135.33 L96.45,135.35 L97.11,135.37 L97.78,135.38 L98.44,135.39 L99.11,135.40 L99.77,135.41 L100.44,135.42 L101.10,135.42 L101.77,135.43 L102.43,135.43 L103.10,135.43 L103.76,135.44 L104.43,135.44 L105.09,135.44 L105.76,135.45 L106.42,135.45 L107.09,135.45 L107.75,135.45 L108.42,135.45 L109.08,135.46 L109.75,135.46 L110.41,135.46 L111.08,135.46 L111.74,135.46 L112.41,135.46 L113.07,135.46 L113.74,135.47 L114.40,135.47 L115.07,135.47 L115.73,135.47 L116.40,135.47 L117.06,135.47 L117.73,135.47 L118.39,135.47 L119.06,135.47 L119.72,135.47 L120.39,135.47 L121.05,135.48 L121.72,135.48 L122.38,135.48 L123.05,135.48 L123.71,135.48 L124.38,135.48 L125.04,135.48 L125.71,135.48 L126.37,135.48 L127.04,135.48 L127.70,135.48 L127.70,135.50Z" fill="url(#gCO)"/>
<path d="M46.50,135.50 L46.50,135.43 L47.16,135.43 L47.83,135.43 L48.49,135.42 L49.16,135.42 L49.82,135.42 L50.49,135.42 L51.15,135.42 L51.82,135.41 L52.48,135.41 L53.14,135.41 L53.81,135.40 L54.47,135.40 L55.14,135.40 L55.80,135.40 L56.47,135.39 L57.13,135.39 L57.80,135.38 L58.46,135.38 L59.12,135.38 L59.79,135.37 L60.45,135.37 L61.12,135.36 L61.78,135.36 L62.45,135.35 L63.11,135.35 L63.78,135.34 L64.44,135.33 L65.10,135.33 L65.77,135.32 L66.43,135.31 L67.10,135.30 L67.76,135.29 L68.43,135.28 L69.09,135.27 L69.76,135.26 L70.42,135.25 L71.08,135.23 L71.75,135.21 L72.41,135.19 L73.08,135.16 L73.74,135.13 L74.41,135.09 L75.07,135.05 L75.73,134.99 L76.40,134.92 L77.06,134.83 L77.73,134.72 L78.39,134.58 L79.06,134.41 L79.72,134.21 L80.39,133.96 L81.05,133.66 L81.71,133.31 L82.38,132.89 L83.04,132.40 L83.71,131.84 L84.37,131.20 L85.04,130.47 L85.70,129.67 L86.37,128.78 L87.03,127.81 L87.69,126.78 L88.36,125.68 L89.02,124.55 L89.69,123.39 L90.35,122.22 L91.02,121.08 L91.68,119.98 L92.35,118.96 L93.01,118.04 L93.67,117.26 L94.34,116.63 L95.00,116.19 L95.67,115.94 L96.33,115.91 L97.00,116.09 L97.66,116.48 L98.33,117.05 L98.99,117.79 L99.65,118.67 L100.32,119.67 L100.98,120.74 L101.65,121.88 L102.31,123.04 L102.98,124.20 L103.64,125.35 L104.31,126.45 L104.97,127.51 L105.63,128.49 L106.30,129.41 L106.96,130.24 L107.63,130.99 L108.29,131.66 L108.96,132.24 L109.62,132.75 L110.29,133.19 L110.95,133.56 L111.61,133.88 L112.28,134.14 L112.94,134.36 L113.61,134.53 L114.27,134.68 L114.94,134.80 L115.60,134.89 L116.27,134.97 L116.93,135.03 L117.59,135.08 L118.26,135.12 L118.92,135.16 L119.59,135.18 L120.25,135.21 L120.92,135.23 L121.58,135.24 L122.24,135.26 L122.91,135.27 L123.57,135.28 L124.24,135.29 L124.90,135.30 L125.57,135.31 L126.23,135.32 L126.90,135.32 L127.56,135.33 L128.22,135.34 L128.89,135.34 L129.55,135.35 L130.22,135.36 L130.88,135.36 L131.55,135.37 L132.21,135.37 L132.88,135.37 L133.54,135.38 L134.20,135.38 L134.87,135.39 L135.53,135.39 L136.20,135.39 L136.86,135.40 L137.53,135.40 L138.19,135.40 L138.86,135.41 L139.52,135.41 L140.18,135.41 L140.85,135.41 L141.51,135.42 L142.18,135.42 L142.84,135.42 L143.51,135.42 L144.17,135.43 L144.84,135.43 L145.50,135.43 L145.50,135.50Z" fill="url(#gCC)"/>
<path d="M22.00,134.65 L22.63,134.88 L23.25,134.85 L23.88,134.92 L24.51,134.48 L25.13,134.47 L25.76,134.36 L26.39,134.35 L27.02,134.59 L27.64,134.16 L28.27,134.32 L28.90,134.04 L29.52,133.98 L30.15,133.96 L30.78,134.08 L31.40,133.81 L32.03,133.32 L32.66,133.33 L33.28,133.09 L33.91,133.36 L34.54,133.15 L35.16,132.97 L35.79,132.80 L36.42,132.57 L37.05,132.51 L37.67,132.24 L38.30,131.74 L38.93,131.92 L39.55,131.55 L40.18,131.56 L40.81,131.32 L41.43,131.12 L42.06,130.99 L42.69,130.96 L43.31,130.85 L43.94,130.71 L44.57,131.14 L45.20,131.16 L45.82,131.33 L46.45,131.24 L47.08,131.26 L47.70,131.49 L48.33,131.26 L48.96,131.74 L49.58,131.76 L50.21,131.77 L50.84,131.95 L51.46,132.32 L52.09,132.33 L52.72,132.63 L53.35,132.88 L53.97,132.92 L54.60,132.91 L55.23,133.27 L55.85,133.25 L56.48,133.37 L57.11,133.46 L57.73,133.66 L58.36,133.56 L58.99,133.97 L59.61,134.20 L60.24,133.90 L60.87,134.11 L61.49,134.24 L62.12,133.68 L62.75,133.71 L63.38,134.05 L64.00,133.99 L64.63,133.78 L65.26,133.38 L65.88,133.40 L66.51,133.52 L67.14,133.36 L67.76,133.13 L68.39,132.57 L69.02,132.74 L69.64,132.22 L70.27,132.19 L70.90,131.59 L71.53,131.83 L72.15,131.35 L72.78,131.15 L73.41,130.58 L74.03,130.55 L74.66,130.26 L75.29,130.00 L75.91,129.59 L76.54,129.55 L77.17,129.06 L77.79,128.76 L78.42,128.42 L79.05,128.46 L79.68,127.83 L80.30,127.59 L80.93,127.18 L81.56,127.19 L82.18,126.77 L82.81,126.37 L83.44,125.65 L84.06,125.44 L84.69,124.89 L85.32,124.22 L85.94,123.60 L86.57,123.60 L87.20,122.43 L87.82,121.86 L88.45,121.13 L89.08,120.58 L89.71,119.51 L90.33,118.98 L90.96,118.16 L91.59,117.71 L92.21,116.52 L92.84,116.10 L93.47,115.65 L94.09,115.51 L94.72,114.94 L95.35,114.76 L95.97,114.89 L96.60,114.84 L97.23,115.02 L97.86,115.81 L98.48,116.70 L99.11,117.38 L99.74,117.98 L100.36,119.22 L100.99,120.36 L101.62,121.10 L102.24,122.40 L102.87,123.37 L103.50,124.40 L104.12,125.49 L104.75,126.46 L105.38,127.50 L106.01,128.21 L106.63,129.25 L107.26,129.82 L107.89,130.90 L108.51,131.41 L109.14,131.58 L109.77,132.51 L110.39,132.56 L111.02,133.08 L111.65,133.42 L112.27,133.53 L112.90,133.72 L113.53,133.98 L114.15,133.94 L114.78,134.49 L115.41,134.14 L116.04,134.64 L116.66,134.35 L117.29,134.45 L117.92,134.54 L118.54,134.37 L119.17,134.45 L119.80,134.62 L120.42,134.69 L121.05,134.97 L121.68,135.05 L122.30,134.50 L122.93,134.81 L123.56,134.57 L124.19,134.99 L124.81,134.71 L125.44,135.06 L126.07,134.86 L126.69,134.62 L127.32,134.55 L127.95,134.71 L128.57,135.08 L129.20,134.66 L129.83,134.86 L130.45,134.80 L131.08,134.79 L131.71,135.07 L132.34,134.72 L132.96,135.03 L133.59,135.01 L134.22,135.17 L134.84,134.93 L135.47,135.17 L136.10,134.89 L136.72,134.97 L137.35,135.00 L137.98,135.14 L138.60,135.17 L139.23,134.71 L139.86,134.72 L140.48,134.96 L141.11,135.13 L141.74,134.97 L142.37,134.83 L142.99,135.23 L143.62,134.83 L144.25,134.71 L144.87,134.69 L145.50,134.68" fill="none" stroke="#a4a9ac" stroke-width="1.1" stroke-linejoin="round"/>
<path d="M174.20,57.90 L174.20,57.77 L174.87,57.77 L175.53,57.76 L176.20,57.75 L176.86,57.74 L177.53,57.73 L178.19,57.71 L178.86,57.70 L179.52,57.68 L180.19,57.66 L180.86,57.63 L181.52,57.59 L182.19,57.55 L182.85,57.49 L183.52,57.41 L184.18,57.31 L184.85,57.18 L185.52,57.02 L186.18,56.81 L186.85,56.55 L187.51,56.24 L188.18,55.86 L188.84,55.41 L189.51,54.89 L190.17,54.30 L190.84,53.64 L191.51,52.92 L192.17,52.16 L192.84,51.37 L193.50,50.58 L194.17,49.81 L194.83,49.10 L195.50,48.49 L196.16,48.00 L196.83,47.66 L197.50,47.51 L198.16,47.55 L198.83,47.77 L199.49,48.17 L200.16,48.71 L200.82,49.37 L201.49,50.10 L202.15,50.88 L202.82,51.67 L203.49,52.46 L204.15,53.20 L204.82,53.90 L205.48,54.53 L206.15,55.10 L206.81,55.59 L207.48,56.01 L208.15,56.37 L208.81,56.66 L209.48,56.90 L210.14,57.09 L210.81,57.24 L211.47,57.35 L212.14,57.44 L212.80,57.51 L213.47,57.57 L214.14,57.61 L214.80,57.64 L215.47,57.67 L216.13,57.69 L216.80,57.71 L217.46,57.72 L218.13,57.73 L218.79,57.74 L219.46,57.75 L220.13,57.76 L220.79,57.77 L221.46,57.78 L222.12,57.78 L222.79,57.79 L223.45,57.79 L224.12,57.80 L224.78,57.80 L225.45,57.81 L226.12,57.81 L226.78,57.82 L227.45,57.82 L228.11,57.82 L228.78,57.83 L229.44,57.83 L230.11,57.83 L230.78,57.83 L231.44,57.84 L232.11,57.84 L232.77,57.84 L233.44,57.84 L234.10,57.84 L234.77,57.85 L235.43,57.85 L236.10,57.85 L236.10,57.90Z" fill="url(#gCO2)"/>
<path d="M187.60,57.90 L187.60,57.88 L188.26,57.88 L188.93,57.88 L189.59,57.88 L190.25,57.88 L190.92,57.88 L191.58,57.88 L192.25,57.88 L192.91,57.88 L193.57,57.88 L194.24,57.88 L194.90,57.88 L195.56,57.88 L196.23,57.88 L196.89,57.87 L197.56,57.87 L198.22,57.87 L198.88,57.87 L199.55,57.87 L200.21,57.87 L200.87,57.87 L201.54,57.87 L202.20,57.87 L202.87,57.86 L203.53,57.86 L204.19,57.86 L204.86,57.86 L205.52,57.86 L206.18,57.85 L206.85,57.85 L207.51,57.85 L208.17,57.85 L208.84,57.84 L209.50,57.84 L210.17,57.84 L210.83,57.83 L211.49,57.83 L212.16,57.82 L212.82,57.81 L213.48,57.80 L214.15,57.79 L214.81,57.77 L215.48,57.75 L216.14,57.73 L216.80,57.70 L217.47,57.66 L218.13,57.62 L218.79,57.56 L219.46,57.49 L220.12,57.41 L220.79,57.32 L221.45,57.20 L222.11,57.08 L222.78,56.93 L223.44,56.77 L224.10,56.59 L224.77,56.40 L225.43,56.19 L226.09,55.97 L226.76,55.75 L227.42,55.53 L228.09,55.32 L228.75,55.11 L229.41,54.93 L230.08,54.77 L230.74,54.64 L231.40,54.55 L232.07,54.51 L232.73,54.51 L233.40,54.55 L234.06,54.64 L234.72,54.77 L235.39,54.93 L236.05,55.11 L236.71,55.32 L237.38,55.53 L238.04,55.75 L238.71,55.97 L239.37,56.19 L240.03,56.40 L240.70,56.59 L241.36,56.77 L242.02,56.93 L242.69,57.08 L243.35,57.20 L244.01,57.32 L244.68,57.41 L245.34,57.49 L246.01,57.56 L246.67,57.62 L247.33,57.66 L248.00,57.70 L248.66,57.73 L249.32,57.75 L249.99,57.77 L250.65,57.79 L251.32,57.80 L251.98,57.81 L252.64,57.82 L253.31,57.83 L253.97,57.83 L254.63,57.84 L255.30,57.84 L255.96,57.84 L256.63,57.85 L257.29,57.85 L257.95,57.85 L258.62,57.85 L259.28,57.86 L259.94,57.86 L260.61,57.86 L261.27,57.86 L261.93,57.86 L262.60,57.87 L263.26,57.87 L263.93,57.87 L264.59,57.87 L265.25,57.87 L265.92,57.87 L266.58,57.87 L267.24,57.87 L267.91,57.87 L268.57,57.88 L269.24,57.88 L269.90,57.88 L270.56,57.88 L271.23,57.88 L271.89,57.88 L272.55,57.88 L273.22,57.88 L273.88,57.88 L274.55,57.88 L275.21,57.88 L275.87,57.88 L276.54,57.88 L277.20,57.88 L277.20,57.90Z" fill="url(#gCO)"/>
<path d="M214.60,57.90 L214.60,57.80 L215.26,57.80 L215.93,57.80 L216.59,57.79 L217.26,57.79 L217.92,57.78 L218.58,57.78 L219.25,57.77 L219.91,57.77 L220.58,57.76 L221.24,57.75 L221.91,57.75 L222.57,57.74 L223.23,57.73 L223.90,57.73 L224.56,57.72 L225.23,57.71 L225.89,57.70 L226.55,57.68 L227.22,57.67 L227.88,57.66 L228.55,57.64 L229.21,57.63 L229.88,57.61 L230.54,57.59 L231.20,57.56 L231.87,57.53 L232.53,57.49 L233.20,57.45 L233.86,57.38 L234.52,57.29 L235.19,57.17 L235.85,57.01 L236.52,56.78 L237.18,56.48 L237.85,56.07 L238.51,55.52 L239.17,54.81 L239.84,53.89 L240.50,52.75 L241.17,51.34 L241.83,49.65 L242.49,47.68 L243.16,45.42 L243.82,42.92 L244.49,40.23 L245.15,37.41 L245.82,34.57 L246.48,31.82 L247.14,29.31 L247.81,27.16 L248.47,25.50 L249.14,24.46 L249.80,24.10 L250.46,24.46 L251.13,25.50 L251.79,27.16 L252.46,29.31 L253.12,31.82 L253.78,34.57 L254.45,37.41 L255.11,40.23 L255.78,42.92 L256.44,45.42 L257.11,47.68 L257.77,49.65 L258.43,51.34 L259.10,52.75 L259.76,53.89 L260.43,54.81 L261.09,55.52 L261.75,56.07 L262.42,56.48 L263.08,56.78 L263.75,57.01 L264.41,57.17 L265.08,57.29 L265.74,57.38 L266.40,57.45 L267.07,57.49 L267.73,57.53 L268.40,57.56 L269.06,57.59 L269.72,57.61 L270.39,57.63 L271.05,57.64 L271.72,57.66 L272.38,57.67 L273.05,57.68 L273.71,57.70 L274.37,57.71 L275.04,57.72 L275.70,57.73 L276.37,57.73 L277.03,57.74 L277.69,57.75 L278.36,57.75 L279.02,57.76 L279.69,57.77 L280.35,57.77 L281.02,57.78 L281.68,57.78 L282.34,57.79 L283.01,57.79 L283.67,57.80 L284.34,57.80 L285.00,57.80 L285.00,57.90Z" fill="url(#gCC)"/>
<path d="M174.20,57.09 L174.83,57.40 L175.46,57.36 L176.08,57.25 L176.71,57.09 L177.34,57.42 L177.97,57.42 L178.59,57.23 L179.22,57.21 L179.85,57.03 L180.48,56.86 L181.11,57.05 L181.73,57.14 L182.36,56.79 L182.99,57.16 L183.62,56.75 L184.25,56.65 L184.87,56.41 L185.50,56.83 L186.13,56.48 L186.76,56.32 L187.38,55.87 L188.01,55.18 L188.64,54.95 L189.27,54.58 L189.90,53.82 L190.52,53.73 L191.15,52.72 L191.78,51.90 L192.41,51.56 L193.04,50.40 L193.66,50.14 L194.29,49.14 L194.92,48.54 L195.55,47.84 L196.17,47.47 L196.80,46.97 L197.43,46.72 L198.06,47.22 L198.69,47.03 L199.31,47.69 L199.94,47.82 L200.57,48.86 L201.20,49.48 L201.82,50.11 L202.45,50.85 L203.08,51.49 L203.71,52.30 L204.34,52.63 L204.96,53.48 L205.59,54.27 L206.22,54.42 L206.85,55.30 L207.48,55.67 L208.10,55.72 L208.73,55.97 L209.36,56.25 L209.99,56.39 L210.61,56.90 L211.24,56.64 L211.87,56.51 L212.50,56.62 L213.13,57.04 L213.75,57.24 L214.38,56.96 L215.01,56.96 L215.64,57.00 L216.26,57.10 L216.89,56.77 L217.52,56.97 L218.15,56.90 L218.78,56.89 L219.40,56.55 L220.03,56.47 L220.66,56.47 L221.29,56.70 L221.92,56.22 L222.54,56.21 L223.17,55.85 L223.80,55.53 L224.43,55.27 L225.05,55.47 L225.68,55.17 L226.31,54.63 L226.94,54.50 L227.57,54.16 L228.19,53.96 L228.82,53.65 L229.45,52.98 L230.08,52.99 L230.71,52.66 L231.33,52.14 L231.96,52.05 L232.59,51.58 L233.22,51.31 L233.84,51.07 L234.47,51.31 L235.10,50.77 L235.73,50.61 L236.36,50.95 L236.98,50.79 L237.61,50.44 L238.24,50.39 L238.87,49.56 L239.49,49.18 L240.12,48.52 L240.75,47.72 L241.38,46.46 L242.01,45.04 L242.63,43.58 L243.26,42.05 L243.89,40.01 L244.52,37.59 L245.15,35.03 L245.77,32.46 L246.40,30.50 L247.03,28.03 L247.66,26.22 L248.28,24.27 L248.91,23.35 L249.54,23.27 L250.17,23.40 L250.80,24.23 L251.42,25.41 L252.05,27.14 L252.68,29.46 L253.31,32.12 L253.94,34.46 L254.56,37.31 L255.19,39.83 L255.82,42.68 L256.45,44.60 L257.07,47.15 L257.70,49.20 L258.33,50.28 L258.96,52.01 L259.59,53.18 L260.21,54.23 L260.84,54.81 L261.47,55.20 L262.10,55.73 L262.72,56.40 L263.35,56.63 L263.98,56.35 L264.61,56.47 L265.24,56.58 L265.86,56.61 L266.49,56.93 L267.12,56.79 L267.75,57.26 L268.38,57.17 L269.00,56.87 L269.63,57.14 L270.26,57.03 L270.89,57.15 L271.51,57.00 L272.14,56.98 L272.77,57.01 L273.40,57.14 L274.03,57.35 L274.65,57.26 L275.28,56.97 L275.91,57.37 L276.54,57.48 L277.16,57.43 L277.79,57.45 L278.42,56.98 L279.05,57.26 L279.68,57.03 L280.30,57.46 L280.93,57.11 L281.56,57.43 L282.19,57.16 L282.82,57.44 L283.44,57.21 L284.07,57.05 L284.70,57.26 L285.33,57.22 L285.95,57.58 L286.58,57.22 L287.21,57.35 L287.84,57.38 L288.47,57.62 L289.09,57.11 L289.72,57.42 L290.35,57.36 L290.98,57.50 L291.61,57.64 L292.23,57.25 L292.86,57.49 L293.49,57.39 L294.12,57.41 L294.74,57.11 L295.37,57.56 L296.00,57.66" fill="none" stroke="#a4a9ac" stroke-width="1.1" stroke-linejoin="round"/>
<path d="M174.20,97.80 L174.20,97.52 L174.86,97.50 L175.53,97.47 L176.19,97.44 L176.85,97.40 L177.52,97.35 L178.18,97.29 L178.85,97.21 L179.51,97.11 L180.17,96.98 L180.84,96.81 L181.50,96.60 L182.16,96.33 L182.83,96.00 L183.49,95.60 L184.16,95.11 L184.82,94.53 L185.48,93.85 L186.15,93.07 L186.81,92.18 L187.47,91.21 L188.14,90.15 L188.80,89.03 L189.47,87.87 L190.13,86.70 L190.79,85.57 L191.46,84.50 L192.12,83.56 L192.78,82.78 L193.45,82.20 L194.11,81.87 L194.78,81.81 L195.44,82.02 L196.10,82.48 L196.77,83.17 L197.43,84.04 L198.09,85.06 L198.76,86.16 L199.42,87.32 L200.09,88.49 L200.75,89.63 L201.41,90.72 L202.08,91.74 L202.74,92.66 L203.40,93.49 L204.07,94.22 L204.73,94.85 L205.40,95.38 L206.06,95.82 L206.72,96.18 L207.39,96.48 L208.05,96.72 L208.71,96.90 L209.38,97.05 L210.04,97.16 L210.71,97.25 L211.37,97.32 L212.03,97.38 L212.70,97.42 L213.36,97.46 L214.02,97.48 L214.69,97.51 L215.35,97.53 L216.02,97.55 L216.68,97.56 L217.34,97.57 L218.01,97.59 L218.67,97.60 L219.33,97.61 L220.00,97.62 L220.66,97.63 L221.33,97.63 L221.99,97.64 L222.65,97.65 L223.32,97.66 L223.98,97.66 L224.64,97.67 L225.31,97.67 L225.97,97.68 L226.64,97.68 L227.30,97.69 L227.96,97.69 L228.63,97.70 L229.29,97.70 L229.95,97.70 L230.62,97.71 L231.28,97.71 L231.95,97.71 L232.61,97.72 L233.27,97.72 L233.94,97.72 L234.60,97.72 L234.60,97.80Z" fill="url(#gCO2)"/>
<path d="M192.00,97.80 L192.00,97.79 L192.66,97.79 L193.32,97.79 L193.99,97.79 L194.65,97.79 L195.31,97.79 L195.97,97.79 L196.63,97.79 L197.30,97.79 L197.96,97.79 L198.62,97.78 L199.28,97.78 L199.94,97.78 L200.61,97.78 L201.27,97.78 L201.93,97.78 L202.59,97.78 L203.26,97.78 L203.92,97.78 L204.58,97.78 L205.24,97.78 L205.90,97.78 L206.57,97.77 L207.23,97.77 L207.89,97.77 L208.55,97.77 L209.21,97.77 L209.88,97.76 L210.54,97.76 L211.20,97.76 L211.86,97.76 L212.52,97.75 L213.19,97.75 L213.85,97.74 L214.51,97.73 L215.17,97.72 L215.83,97.71 L216.50,97.69 L217.16,97.66 L217.82,97.63 L218.48,97.60 L219.14,97.55 L219.81,97.49 L220.47,97.42 L221.13,97.33 L221.79,97.23 L222.46,97.12 L223.12,96.99 L223.78,96.84 L224.44,96.69 L225.10,96.53 L225.77,96.36 L226.43,96.20 L227.09,96.04 L227.75,95.89 L228.41,95.77 L229.08,95.68 L229.74,95.62 L230.40,95.60 L231.06,95.62 L231.72,95.68 L232.39,95.77 L233.05,95.89 L233.71,96.04 L234.37,96.20 L235.03,96.36 L235.70,96.53 L236.36,96.69 L237.02,96.84 L237.68,96.99 L238.34,97.12 L239.01,97.23 L239.67,97.33 L240.33,97.42 L240.99,97.49 L241.66,97.55 L242.32,97.60 L242.98,97.63 L243.64,97.66 L244.30,97.69 L244.97,97.71 L245.63,97.72 L246.29,97.73 L246.95,97.74 L247.61,97.75 L248.28,97.75 L248.94,97.76 L249.60,97.76 L250.26,97.76 L250.92,97.76 L251.59,97.77 L252.25,97.77 L252.91,97.77 L253.57,97.77 L254.23,97.77 L254.90,97.78 L255.56,97.78 L256.22,97.78 L256.88,97.78 L257.54,97.78 L258.21,97.78 L258.87,97.78 L259.53,97.78 L260.19,97.78 L260.86,97.78 L261.52,97.78 L262.18,97.78 L262.84,97.79 L263.50,97.79 L264.17,97.79 L264.83,97.79 L265.49,97.79 L266.15,97.79 L266.81,97.79 L267.48,97.79 L268.14,97.79 L268.80,97.79 L268.80,97.80Z" fill="url(#gCO)"/>
<path d="M207.20,97.80 L207.20,97.73 L207.86,97.73 L208.53,97.72 L209.19,97.72 L209.86,97.72 L210.52,97.72 L211.19,97.71 L211.85,97.71 L212.52,97.71 L213.18,97.70 L213.85,97.70 L214.51,97.70 L215.18,97.69 L215.84,97.69 L216.50,97.69 L217.17,97.68 L217.83,97.68 L218.50,97.67 L219.16,97.67 L219.83,97.66 L220.49,97.65 L221.16,97.65 L221.82,97.64 L222.49,97.63 L223.15,97.63 L223.82,97.62 L224.48,97.61 L225.14,97.60 L225.81,97.59 L226.47,97.58 L227.14,97.56 L227.80,97.55 L228.47,97.53 L229.13,97.51 L229.80,97.48 L230.46,97.45 L231.13,97.41 L231.79,97.36 L232.46,97.30 L233.12,97.22 L233.78,97.12 L234.45,96.99 L235.11,96.82 L235.78,96.62 L236.44,96.35 L237.11,96.03 L237.77,95.63 L238.44,95.15 L239.10,94.57 L239.77,93.90 L240.43,93.11 L241.10,92.21 L241.76,91.20 L242.42,90.09 L243.09,88.88 L243.75,87.59 L244.42,86.26 L245.08,84.89 L245.75,83.54 L246.41,82.23 L247.08,81.01 L247.74,79.94 L248.41,79.04 L249.07,78.36 L249.74,77.94 L250.40,77.80 L251.06,77.94 L251.73,78.36 L252.39,79.04 L253.06,79.94 L253.72,81.01 L254.39,82.23 L255.05,83.54 L255.72,84.89 L256.38,86.26 L257.05,87.59 L257.71,88.88 L258.38,90.09 L259.04,91.20 L259.70,92.21 L260.37,93.11 L261.03,93.90 L261.70,94.57 L262.36,95.15 L263.03,95.63 L263.69,96.03 L264.36,96.35 L265.02,96.62 L265.69,96.82 L266.35,96.99 L267.02,97.12 L267.68,97.22 L268.34,97.30 L269.01,97.36 L269.67,97.41 L270.34,97.45 L271.00,97.48 L271.67,97.51 L272.33,97.53 L273.00,97.55 L273.66,97.56 L274.33,97.58 L274.99,97.59 L275.66,97.60 L276.32,97.61 L276.98,97.62 L277.65,97.63 L278.31,97.63 L278.98,97.64 L279.64,97.65 L280.31,97.65 L280.97,97.66 L281.64,97.67 L282.30,97.67 L282.97,97.68 L283.63,97.68 L284.30,97.69 L284.96,97.69 L285.62,97.69 L286.29,97.70 L286.95,97.70 L287.62,97.70 L288.28,97.71 L288.95,97.71 L289.61,97.71 L290.28,97.72 L290.94,97.72 L291.61,97.72 L292.27,97.72 L292.94,97.73 L293.60,97.73 L293.60,97.80Z" fill="url(#gCC)"/>
<path d="M174.20,97.31 L174.83,96.80 L175.46,96.71 L176.08,97.26 L176.71,96.74 L177.34,96.66 L177.97,96.92 L178.59,96.67 L179.22,96.90 L179.85,96.40 L180.48,96.70 L181.11,96.14 L181.73,96.09 L182.36,96.01 L182.99,95.53 L183.62,95.28 L184.25,94.67 L184.87,93.72 L185.50,93.57 L186.13,92.65 L186.76,91.66 L187.38,90.67 L188.01,90.07 L188.64,88.86 L189.27,87.99 L189.90,86.78 L190.52,85.80 L191.15,84.52 L191.78,83.65 L192.41,82.76 L193.04,81.89 L193.66,81.84 L194.29,81.21 L194.92,81.49 L195.55,81.84 L196.17,82.12 L196.80,82.48 L197.43,83.72 L198.06,84.58 L198.69,85.33 L199.31,86.34 L199.94,87.74 L200.57,88.52 L201.20,90.10 L201.82,90.84 L202.45,91.76 L203.08,92.52 L203.71,93.40 L204.34,94.20 L204.96,94.39 L205.59,94.90 L206.22,95.42 L206.85,95.58 L207.48,96.02 L208.10,96.20 L208.73,96.31 L209.36,96.59 L209.99,96.60 L210.61,96.42 L211.24,97.03 L211.87,96.70 L212.50,96.78 L213.13,96.79 L213.75,97.12 L214.38,97.15 L215.01,96.89 L215.64,96.83 L216.26,96.64 L216.89,97.11 L217.52,96.66 L218.15,96.86 L218.78,96.70 L219.40,96.65 L220.03,96.61 L220.66,96.44 L221.29,96.26 L221.92,96.47 L222.54,96.51 L223.17,96.30 L223.80,95.89 L224.43,96.03 L225.05,95.49 L225.68,95.54 L226.31,95.63 L226.94,95.53 L227.57,95.10 L228.19,95.20 L228.82,94.88 L229.45,94.80 L230.08,94.78 L230.71,94.99 L231.33,94.84 L231.96,94.70 L232.59,94.90 L233.22,94.89 L233.84,94.76 L234.47,95.05 L235.10,95.07 L235.73,94.91 L236.36,95.03 L236.98,94.32 L237.61,94.39 L238.24,94.17 L238.87,93.59 L239.49,92.99 L240.12,92.69 L240.75,91.81 L241.38,90.88 L242.01,89.80 L242.63,89.31 L243.26,87.81 L243.89,86.47 L244.52,85.28 L245.15,84.03 L245.77,83.13 L246.40,81.50 L247.03,80.41 L247.66,79.28 L248.28,78.63 L248.91,77.79 L249.54,77.41 L250.17,77.43 L250.80,77.58 L251.42,77.82 L252.05,77.86 L252.68,78.81 L253.31,80.02 L253.94,80.60 L254.56,81.88 L255.19,83.30 L255.82,84.52 L256.45,86.03 L257.07,87.28 L257.70,88.34 L258.33,89.36 L258.96,90.41 L259.59,91.40 L260.21,92.15 L260.84,93.28 L261.47,93.65 L262.10,94.67 L262.72,95.02 L263.35,95.08 L263.98,95.69 L264.61,96.03 L265.24,95.93 L265.86,96.38 L266.49,96.25 L267.12,96.81 L267.75,96.45 L268.38,96.90 L269.00,97.17 L269.63,97.14 L270.26,96.81 L270.89,97.02 L271.51,96.81 L272.14,96.95 L272.77,97.28 L273.40,97.27 L274.03,96.80 L274.65,97.03 L275.28,97.20 L275.91,96.93 L276.54,97.32 L277.16,97.38 L277.79,97.18 L278.42,97.08 L279.05,97.38 L279.68,97.18 L280.30,96.99 L280.93,97.05 L281.56,96.99 L282.19,97.40 L282.82,97.21 L283.44,97.33 L284.07,97.40 L284.70,97.50 L285.33,97.04 L285.95,97.17 L286.58,97.45 L287.21,97.39 L287.84,97.17 L288.47,97.33 L289.09,97.06 L289.72,97.04 L290.35,96.98 L290.98,97.18 L291.61,97.10 L292.23,97.27 L292.86,97.54 L293.49,97.05 L294.12,97.30 L294.74,97.48 L295.37,97.33 L296.00,97.29" fill="none" stroke="#a4a9ac" stroke-width="1.1" stroke-linejoin="round"/>
<path d="M174.20,134.60 L174.20,134.51 L174.86,134.50 L175.52,134.49 L176.18,134.49 L176.84,134.48 L177.50,134.47 L178.16,134.45 L178.83,134.43 L179.49,134.41 L180.15,134.39 L180.81,134.35 L181.47,134.31 L182.13,134.25 L182.79,134.18 L183.45,134.10 L184.11,133.99 L184.77,133.86 L185.43,133.70 L186.09,133.51 L186.76,133.29 L187.42,133.04 L188.08,132.75 L188.74,132.42 L189.40,132.07 L190.06,131.68 L190.72,131.28 L191.38,130.86 L192.04,130.44 L192.70,130.04 L193.36,129.65 L194.02,129.31 L194.69,129.01 L195.35,128.79 L196.01,128.65 L196.67,128.60 L197.33,128.64 L197.99,128.77 L198.65,128.99 L199.31,129.27 L199.97,129.62 L200.63,130.00 L201.29,130.40 L201.95,130.82 L202.62,131.24 L203.28,131.65 L203.94,132.03 L204.60,132.39 L205.26,132.72 L205.92,133.01 L206.58,133.27 L207.24,133.49 L207.90,133.69 L208.56,133.85 L209.22,133.98 L209.88,134.09 L210.55,134.18 L211.21,134.25 L211.87,134.30 L212.53,134.35 L213.19,134.38 L213.85,134.41 L214.51,134.43 L215.17,134.45 L215.83,134.46 L216.49,134.48 L217.15,134.48 L217.81,134.49 L218.48,134.50 L219.14,134.51 L219.80,134.51 L220.46,134.52 L221.12,134.52 L221.78,134.52 L222.44,134.53 L223.10,134.53 L223.76,134.53 L224.42,134.54 L225.08,134.54 L225.74,134.54 L226.41,134.55 L227.07,134.55 L227.73,134.55 L228.39,134.55 L229.05,134.55 L229.71,134.56 L230.37,134.56 L231.03,134.56 L231.69,134.56 L232.35,134.56 L233.01,134.56 L233.67,134.56 L234.34,134.57 L235.00,134.57 L235.66,134.57 L236.32,134.57 L236.98,134.57 L237.64,134.57 L238.30,134.57 L238.30,134.60Z" fill="url(#gCO2)"/>
<path d="M188.80,134.60 L188.80,134.59 L189.47,134.59 L190.13,134.59 L190.80,134.59 L191.46,134.59 L192.13,134.59 L192.79,134.59 L193.46,134.59 L194.12,134.59 L194.79,134.59 L195.46,134.59 L196.12,134.58 L196.79,134.58 L197.45,134.58 L198.12,134.58 L198.78,134.58 L199.45,134.58 L200.12,134.58 L200.78,134.58 L201.45,134.58 L202.11,134.58 L202.78,134.58 L203.44,134.58 L204.11,134.57 L204.77,134.57 L205.44,134.57 L206.11,134.57 L206.77,134.57 L207.44,134.57 L208.10,134.57 L208.77,134.56 L209.43,134.56 L210.10,134.56 L210.76,134.55 L211.43,134.55 L212.10,134.54 L212.76,134.54 L213.43,134.53 L214.09,134.52 L214.76,134.50 L215.42,134.49 L216.09,134.46 L216.76,134.44 L217.42,134.40 L218.09,134.36 L218.75,134.31 L219.42,134.24 L220.08,134.17 L220.75,134.08 L221.41,133.98 L222.08,133.87 L222.75,133.74 L223.41,133.61 L224.08,133.46 L224.74,133.31 L225.41,133.15 L226.07,133.00 L226.74,132.85 L227.40,132.72 L228.07,132.60 L228.74,132.51 L229.40,132.44 L230.07,132.40 L230.73,132.40 L231.40,132.44 L232.06,132.51 L232.73,132.60 L233.40,132.72 L234.06,132.85 L234.73,133.00 L235.39,133.15 L236.06,133.31 L236.72,133.46 L237.39,133.61 L238.05,133.74 L238.72,133.87 L239.39,133.98 L240.05,134.08 L240.72,134.17 L241.38,134.24 L242.05,134.31 L242.71,134.36 L243.38,134.40 L244.04,134.44 L244.71,134.46 L245.38,134.49 L246.04,134.50 L246.71,134.52 L247.37,134.53 L248.04,134.54 L248.70,134.54 L249.37,134.55 L250.04,134.55 L250.70,134.56 L251.37,134.56 L252.03,134.56 L252.70,134.57 L253.36,134.57 L254.03,134.57 L254.69,134.57 L255.36,134.57 L256.03,134.57 L256.69,134.57 L257.36,134.58 L258.02,134.58 L258.69,134.58 L259.35,134.58 L260.02,134.58 L260.68,134.58 L261.35,134.58 L262.02,134.58 L262.68,134.58 L263.35,134.58 L264.01,134.58 L264.68,134.58 L265.34,134.59 L266.01,134.59 L266.68,134.59 L267.34,134.59 L268.01,134.59 L268.67,134.59 L269.34,134.59 L270.00,134.59 L270.67,134.59 L271.33,134.59 L272.00,134.59 L272.00,134.60Z" fill="url(#gCO)"/>
<path d="M213.00,134.60 L213.00,134.53 L213.66,134.53 L214.33,134.52 L214.99,134.52 L215.65,134.52 L216.32,134.52 L216.98,134.51 L217.64,134.51 L218.30,134.51 L218.97,134.50 L219.63,134.50 L220.29,134.49 L220.96,134.49 L221.62,134.48 L222.28,134.48 L222.95,134.47 L223.61,134.46 L224.27,134.46 L224.94,134.45 L225.60,134.44 L226.26,134.43 L226.92,134.42 L227.59,134.41 L228.25,134.40 L228.91,134.39 L229.58,134.38 L230.24,134.36 L230.90,134.34 L231.57,134.32 L232.23,134.29 L232.89,134.25 L233.55,134.21 L234.22,134.15 L234.88,134.06 L235.54,133.95 L236.21,133.81 L236.87,133.61 L237.53,133.36 L238.20,133.03 L238.86,132.61 L239.52,132.08 L240.19,131.43 L240.85,130.64 L241.51,129.70 L242.17,128.61 L242.84,127.38 L243.50,126.01 L244.16,124.54 L244.83,123.00 L245.49,121.43 L246.15,119.90 L246.82,118.46 L247.48,117.19 L248.14,116.16 L248.81,115.43 L249.47,115.05 L250.13,115.05 L250.79,115.43 L251.46,116.16 L252.12,117.19 L252.78,118.46 L253.45,119.90 L254.11,121.43 L254.77,123.00 L255.44,124.54 L256.10,126.01 L256.76,127.38 L257.43,128.61 L258.09,129.70 L258.75,130.64 L259.41,131.43 L260.08,132.08 L260.74,132.61 L261.40,133.03 L262.07,133.36 L262.73,133.61 L263.39,133.81 L264.06,133.95 L264.72,134.06 L265.38,134.15 L266.05,134.21 L266.71,134.25 L267.37,134.29 L268.03,134.32 L268.70,134.34 L269.36,134.36 L270.02,134.38 L270.69,134.39 L271.35,134.40 L272.01,134.41 L272.68,134.42 L273.34,134.43 L274.00,134.44 L274.66,134.45 L275.33,134.46 L275.99,134.46 L276.65,134.47 L277.32,134.48 L277.98,134.48 L278.64,134.49 L279.31,134.49 L279.97,134.50 L280.63,134.50 L281.30,134.51 L281.96,134.51 L282.62,134.51 L283.28,134.52 L283.95,134.52 L284.61,134.52 L285.27,134.52 L285.94,134.53 L286.60,134.53 L286.60,134.60Z" fill="url(#gCC)"/>
<path d="M174.20,134.29 L174.83,134.30 L175.46,134.26 L176.08,133.76 L176.71,134.06 L177.34,133.95 L177.97,134.00 L178.59,133.74 L179.22,133.76 L179.85,133.89 L180.48,133.73 L181.11,133.83 L181.73,133.52 L182.36,133.50 L182.99,133.81 L183.62,133.55 L184.25,133.49 L184.87,133.50 L185.50,133.12 L186.13,132.75 L186.76,132.98 L187.38,132.62 L188.01,132.39 L188.64,132.06 L189.27,131.94 L189.90,131.21 L190.52,131.07 L191.15,130.44 L191.78,130.16 L192.41,129.82 L193.04,129.23 L193.66,128.75 L194.29,128.67 L194.92,128.56 L195.55,128.30 L196.17,128.10 L196.80,128.19 L197.43,127.96 L198.06,128.10 L198.69,128.39 L199.31,128.96 L199.94,128.91 L200.57,129.22 L201.20,129.59 L201.82,129.95 L202.45,130.49 L203.08,131.05 L203.71,131.57 L204.34,131.63 L204.96,131.97 L205.59,132.22 L206.22,132.49 L206.85,133.00 L207.48,133.06 L208.10,133.05 L208.73,133.10 L209.36,133.63 L209.99,133.67 L210.61,133.82 L211.24,133.53 L211.87,133.76 L212.50,134.02 L213.13,133.85 L213.75,134.07 L214.38,133.62 L215.01,134.10 L215.64,133.54 L216.26,133.74 L216.89,133.49 L217.52,133.93 L218.15,133.82 L218.78,133.94 L219.40,133.78 L220.03,133.80 L220.66,133.47 L221.29,133.65 L221.92,133.40 L222.54,133.04 L223.17,133.29 L223.80,132.80 L224.43,132.54 L225.05,132.32 L225.68,132.40 L226.31,132.09 L226.94,132.39 L227.57,132.27 L228.19,131.72 L228.82,131.55 L229.45,131.74 L230.08,131.48 L230.71,131.69 L231.33,131.86 L231.96,131.56 L232.59,131.71 L233.22,132.07 L233.84,131.87 L234.47,131.88 L235.10,132.27 L235.73,132.26 L236.36,132.30 L236.98,132.13 L237.61,131.85 L238.24,131.82 L238.87,131.62 L239.49,131.11 L240.12,130.35 L240.75,129.74 L241.38,129.01 L242.01,128.29 L242.63,127.08 L243.26,125.87 L243.89,124.71 L244.52,122.87 L245.15,121.73 L245.77,120.09 L246.40,118.82 L247.03,117.69 L247.66,116.20 L248.28,115.72 L248.91,114.57 L249.54,114.55 L250.17,114.57 L250.80,114.76 L251.42,115.64 L252.05,116.55 L252.68,117.72 L253.31,119.22 L253.94,120.23 L254.56,121.93 L255.19,123.65 L255.82,124.69 L256.45,126.47 L257.07,127.31 L257.70,128.70 L258.33,129.38 L258.96,130.38 L259.59,131.08 L260.21,131.46 L260.84,132.32 L261.47,132.57 L262.10,133.01 L262.72,133.16 L263.35,133.35 L263.98,133.48 L264.61,133.45 L265.24,133.89 L265.86,133.47 L266.49,133.99 L267.12,134.02 L267.75,133.83 L268.38,134.02 L269.00,133.98 L269.63,133.96 L270.26,133.79 L270.89,133.82 L271.51,133.85 L272.14,133.83 L272.77,134.23 L273.40,133.87 L274.03,133.91 L274.65,133.93 L275.28,134.18 L275.91,133.98 L276.54,134.04 L277.16,133.86 L277.79,133.88 L278.42,133.77 L279.05,133.86 L279.68,133.89 L280.30,134.25 L280.93,134.04 L281.56,133.81 L282.19,134.02 L282.82,133.82 L283.44,134.09 L284.07,134.02 L284.70,134.27 L285.33,133.92 L285.95,134.28 L286.58,133.92 L287.21,134.36 L287.84,134.15 L288.47,133.80 L289.09,134.26 L289.72,133.94 L290.35,134.00 L290.98,133.87 L291.61,134.29 L292.23,133.84 L292.86,134.23 L293.49,134.03 L294.12,134.20 L294.74,133.97 L295.37,133.84 L296.00,134.34" fill="none" stroke="#a4a9ac" stroke-width="1.1" stroke-linejoin="round"/>
<path d="M329.20,59.60 L329.20,59.58 L329.86,59.58 L330.52,59.58 L331.19,59.58 L331.85,59.58 L332.51,59.58 L333.18,59.57 L333.84,59.57 L334.50,59.57 L335.16,59.57 L335.82,59.57 L336.49,59.57 L337.15,59.57 L337.81,59.56 L338.47,59.56 L339.14,59.56 L339.80,59.56 L340.46,59.56 L341.12,59.55 L341.79,59.55 L342.45,59.55 L343.11,59.54 L343.77,59.54 L344.44,59.53 L345.10,59.52 L345.76,59.51 L346.43,59.50 L347.09,59.49 L347.75,59.47 L348.41,59.44 L349.07,59.41 L349.74,59.38 L350.40,59.33 L351.06,59.28 L351.72,59.22 L352.39,59.14 L353.05,59.05 L353.71,58.95 L354.38,58.84 L355.04,58.72 L355.70,58.58 L356.36,58.43 L357.02,58.27 L357.69,58.10 L358.35,57.94 L359.01,57.77 L359.68,57.60 L360.34,57.45 L361.00,57.31 L361.66,57.19 L362.32,57.10 L362.99,57.03 L363.65,57.00 L364.31,57.01 L364.97,57.05 L365.64,57.12 L366.30,57.22 L366.96,57.34 L367.62,57.49 L368.29,57.64 L368.95,57.81 L369.61,57.98 L370.27,58.15 L370.94,58.31 L371.60,58.47 L372.26,58.61 L372.93,58.75 L373.59,58.87 L374.25,58.98 L374.91,59.08 L375.57,59.16 L376.24,59.23 L376.90,59.29 L377.56,59.34 L378.22,59.39 L378.89,59.42 L379.55,59.45 L380.21,59.47 L380.88,59.49 L381.54,59.50 L382.20,59.52 L382.86,59.52 L383.52,59.53 L384.19,59.54 L384.85,59.54 L385.51,59.55 L386.18,59.55 L386.84,59.55 L387.50,59.56 L388.16,59.56 L388.82,59.56 L389.49,59.56 L390.15,59.57 L390.81,59.57 L391.47,59.57 L392.14,59.57 L392.80,59.57 L393.46,59.57 L394.12,59.57 L394.79,59.57 L395.45,59.58 L396.11,59.58 L396.77,59.58 L397.44,59.58 L398.10,59.58 L398.76,59.58 L399.42,59.58 L400.09,59.58 L400.75,59.58 L401.41,59.58 L402.07,59.58 L402.74,59.58 L403.40,59.58 L404.06,59.58 L404.73,59.59 L405.39,59.59 L406.05,59.59 L406.71,59.59 L407.38,59.59 L408.04,59.59 L408.70,59.59 L408.70,59.60Z" fill="url(#gCO2)"/>
<path d="M347.00,59.60 L347.00,59.60 L347.66,59.60 L348.32,59.59 L348.99,59.59 L349.65,59.59 L350.31,59.59 L350.97,59.59 L351.63,59.59 L352.30,59.59 L352.96,59.59 L353.62,59.59 L354.28,59.59 L354.94,59.59 L355.61,59.59 L356.27,59.59 L356.93,59.59 L357.59,59.59 L358.26,59.59 L358.92,59.59 L359.58,59.59 L360.24,59.59 L360.90,59.59 L361.57,59.59 L362.23,59.59 L362.89,59.59 L363.55,59.59 L364.21,59.59 L364.88,59.58 L365.54,59.58 L366.20,59.58 L366.86,59.58 L367.52,59.58 L368.19,59.58 L368.85,59.57 L369.51,59.57 L370.17,59.56 L370.83,59.56 L371.50,59.55 L372.16,59.54 L372.82,59.52 L373.48,59.51 L374.14,59.49 L374.81,59.46 L375.47,59.43 L376.13,59.39 L376.79,59.34 L377.46,59.29 L378.12,59.23 L378.78,59.17 L379.44,59.10 L380.10,59.02 L380.77,58.95 L381.43,58.87 L382.09,58.80 L382.75,58.73 L383.41,58.68 L384.08,58.64 L384.74,58.61 L385.40,58.60 L386.06,58.61 L386.72,58.64 L387.39,58.68 L388.05,58.73 L388.71,58.80 L389.37,58.87 L390.03,58.95 L390.70,59.02 L391.36,59.10 L392.02,59.17 L392.68,59.23 L393.34,59.29 L394.01,59.34 L394.67,59.39 L395.33,59.43 L395.99,59.46 L396.66,59.49 L397.32,59.51 L397.98,59.52 L398.64,59.54 L399.30,59.55 L399.97,59.56 L400.63,59.56 L401.29,59.57 L401.95,59.57 L402.61,59.58 L403.28,59.58 L403.94,59.58 L404.60,59.58 L405.26,59.58 L405.92,59.58 L406.59,59.59 L407.25,59.59 L407.91,59.59 L408.57,59.59 L409.23,59.59 L409.90,59.59 L410.56,59.59 L411.22,59.59 L411.88,59.59 L412.54,59.59 L413.21,59.59 L413.87,59.59 L414.53,59.59 L415.19,59.59 L415.86,59.59 L416.52,59.59 L417.18,59.59 L417.84,59.59 L418.50,59.59 L419.17,59.59 L419.83,59.59 L420.49,59.59 L421.15,59.59 L421.81,59.59 L422.48,59.59 L423.14,59.60 L423.80,59.60 L423.80,59.60Z" fill="url(#gCO)"/>
<path d="M362.84,59.60 L362.84,59.51 L363.51,59.51 L364.17,59.51 L364.84,59.51 L365.50,59.50 L366.17,59.50 L366.84,59.50 L367.50,59.49 L368.17,59.49 L368.83,59.48 L369.50,59.48 L370.17,59.47 L370.83,59.47 L371.50,59.46 L372.16,59.46 L372.83,59.45 L373.50,59.45 L374.16,59.44 L374.83,59.43 L375.49,59.42 L376.16,59.42 L376.83,59.41 L377.49,59.40 L378.16,59.39 L378.82,59.38 L379.49,59.37 L380.16,59.35 L380.82,59.34 L381.49,59.32 L382.15,59.30 L382.82,59.28 L383.49,59.25 L384.15,59.22 L384.82,59.17 L385.48,59.12 L386.15,59.05 L386.82,58.95 L387.48,58.83 L388.15,58.67 L388.81,58.45 L389.48,58.18 L390.15,57.83 L390.81,57.38 L391.48,56.81 L392.14,56.12 L392.81,55.27 L393.48,54.25 L394.14,53.05 L394.81,51.67 L395.47,50.09 L396.14,48.34 L396.81,46.42 L397.47,44.37 L398.14,42.23 L398.80,40.06 L399.47,37.90 L400.14,35.85 L400.80,33.97 L401.47,32.34 L402.13,31.04 L402.80,30.13 L403.47,29.66 L404.13,29.66 L404.80,30.13 L405.47,31.04 L406.13,32.34 L406.80,33.97 L407.46,35.85 L408.13,37.90 L408.80,40.06 L409.46,42.23 L410.13,44.37 L410.79,46.42 L411.46,48.34 L412.13,50.09 L412.79,51.67 L413.46,53.05 L414.12,54.25 L414.79,55.27 L415.46,56.12 L416.12,56.81 L416.79,57.38 L417.45,57.83 L418.12,58.18 L418.79,58.45 L419.45,58.67 L420.12,58.83 L420.78,58.95 L421.45,59.05 L422.12,59.12 L422.78,59.17 L423.45,59.22 L424.11,59.25 L424.78,59.28 L425.45,59.30 L426.11,59.32 L426.78,59.34 L427.44,59.35 L428.11,59.37 L428.78,59.38 L429.44,59.39 L430.11,59.40 L430.77,59.41 L431.44,59.42 L432.11,59.42 L432.77,59.43 L433.44,59.44 L434.10,59.45 L434.77,59.45 L435.44,59.46 L436.10,59.46 L436.77,59.47 L437.43,59.47 L438.10,59.48 L438.77,59.48 L439.43,59.49 L440.10,59.49 L440.76,59.50 L441.43,59.50 L442.10,59.50 L442.76,59.51 L443.43,59.51 L444.09,59.51 L444.76,59.51 L444.76,59.60Z" fill="url(#gCC)"/>
<path d="M329.20,58.81 L329.83,58.87 L330.46,59.03 L331.08,59.21 L331.71,58.88 L332.34,58.86 L332.97,58.93 L333.59,59.25 L334.22,58.88 L334.85,59.23 L335.48,59.18 L336.11,58.87 L336.73,59.10 L337.36,59.05 L337.99,59.03 L338.62,59.37 L339.25,58.83 L339.87,58.78 L340.50,59.33 L341.13,59.00 L341.76,58.88 L342.38,58.95 L343.01,58.97 L343.64,59.32 L344.27,58.86 L344.90,58.86 L345.52,59.07 L346.15,59.04 L346.78,59.27 L347.41,59.18 L348.04,58.87 L348.66,58.75 L349.29,59.10 L349.92,59.15 L350.55,58.53 L351.17,58.90 L351.80,58.92 L352.43,58.71 L353.06,58.37 L353.69,58.62 L354.31,58.47 L354.94,58.03 L355.57,58.17 L356.20,57.78 L356.82,57.52 L357.45,57.54 L358.08,57.38 L358.71,57.25 L359.34,57.24 L359.96,57.20 L360.59,57.13 L361.22,57.01 L361.85,56.91 L362.48,56.71 L363.10,56.36 L363.73,56.25 L364.36,56.53 L364.99,56.51 L365.61,56.65 L366.24,56.39 L366.87,56.56 L367.50,57.13 L368.13,57.08 L368.75,57.28 L369.38,57.07 L370.01,57.41 L370.64,57.86 L371.26,57.85 L371.89,58.18 L372.52,57.82 L373.15,58.08 L373.78,58.38 L374.40,58.23 L375.03,58.49 L375.66,58.40 L376.29,58.15 L376.92,58.14 L377.54,58.66 L378.17,58.12 L378.80,58.12 L379.43,58.16 L380.05,58.33 L380.68,58.34 L381.31,58.04 L381.94,57.98 L382.57,58.08 L383.19,57.70 L383.82,57.69 L384.45,57.78 L385.08,57.73 L385.71,57.32 L386.33,57.31 L386.96,57.27 L387.59,57.54 L388.22,57.42 L388.84,57.45 L389.47,57.14 L390.10,56.57 L390.73,56.54 L391.36,56.23 L391.98,55.29 L392.61,54.39 L393.24,53.76 L393.87,52.70 L394.49,51.45 L395.12,50.02 L395.75,48.54 L396.38,47.29 L397.01,44.97 L397.63,43.37 L398.26,41.12 L398.89,39.07 L399.52,37.43 L400.15,35.20 L400.77,33.36 L401.40,31.97 L402.03,30.84 L402.66,29.81 L403.28,29.47 L403.91,29.06 L404.54,29.42 L405.17,30.23 L405.80,31.14 L406.42,32.67 L407.05,34.17 L407.68,35.81 L408.31,37.77 L408.94,40.21 L409.56,42.24 L410.19,44.36 L410.82,46.14 L411.45,47.88 L412.07,49.29 L412.70,51.21 L413.33,52.11 L413.96,53.46 L414.59,54.29 L415.21,55.29 L415.84,55.95 L416.47,56.61 L417.10,57.26 L417.72,57.54 L418.35,57.66 L418.98,58.22 L419.61,58.39 L420.24,58.59 L420.86,58.22 L421.49,58.66 L422.12,58.89 L422.75,58.56 L423.38,58.57 L424.00,58.97 L424.63,58.73 L425.26,58.77 L425.89,59.04 L426.51,58.80 L427.14,58.70 L427.77,58.73 L428.40,58.82 L429.03,59.04 L429.65,58.85 L430.28,59.10 L430.91,58.69 L431.54,58.81 L432.16,59.04 L432.79,58.96 L433.42,58.98 L434.05,59.25 L434.68,58.86 L435.30,58.81 L435.93,58.73 L436.56,59.00 L437.19,58.89 L437.82,59.00 L438.44,58.73 L439.07,58.73 L439.70,58.96 L440.33,59.19 L440.95,58.92 L441.58,59.29 L442.21,59.09 L442.84,58.99 L443.47,59.22 L444.09,58.90 L444.72,59.12 L445.35,59.27 L445.98,59.09 L446.61,58.96 L447.23,58.83 L447.86,59.11 L448.49,58.88 L449.12,59.00 L449.74,59.10 L450.37,59.34 L451.00,59.18" fill="none" stroke="#a4a9ac" stroke-width="1.1" stroke-linejoin="round"/>
<path d="M329.20,98.40 L329.20,98.30 L329.86,98.29 L330.53,98.27 L331.19,98.26 L331.86,98.24 L332.52,98.21 L333.18,98.19 L333.85,98.16 L334.51,98.12 L335.17,98.09 L335.84,98.04 L336.50,97.99 L337.17,97.93 L337.83,97.87 L338.49,97.80 L339.16,97.72 L339.82,97.63 L340.48,97.54 L341.15,97.44 L341.81,97.34 L342.48,97.23 L343.14,97.11 L343.80,96.99 L344.47,96.87 L345.13,96.74 L345.79,96.62 L346.46,96.49 L347.12,96.38 L347.79,96.26 L348.45,96.16 L349.11,96.06 L349.78,95.98 L350.44,95.91 L351.10,95.85 L351.77,95.82 L352.43,95.80 L353.10,95.80 L353.76,95.82 L354.42,95.86 L355.09,95.92 L355.75,95.99 L356.41,96.08 L357.08,96.18 L357.74,96.28 L358.41,96.40 L359.07,96.52 L359.73,96.64 L360.40,96.77 L361.06,96.89 L361.73,97.01 L362.39,97.13 L363.05,97.25 L363.72,97.36 L364.38,97.46 L365.04,97.56 L365.71,97.65 L366.37,97.74 L367.04,97.81 L367.70,97.88 L368.36,97.94 L369.03,98.00 L369.69,98.05 L370.35,98.09 L371.02,98.13 L371.68,98.17 L372.35,98.19 L373.01,98.22 L373.67,98.24 L374.34,98.26 L375.00,98.27 L375.66,98.29 L376.33,98.30 L376.99,98.31 L377.66,98.32 L378.32,98.32 L378.98,98.33 L379.65,98.33 L380.31,98.34 L380.97,98.34 L381.64,98.35 L382.30,98.35 L382.97,98.35 L383.63,98.35 L384.29,98.36 L384.96,98.36 L385.62,98.36 L386.29,98.36 L386.95,98.36 L387.61,98.36 L388.28,98.37 L388.94,98.37 L389.60,98.37 L390.27,98.37 L390.93,98.37 L391.60,98.37 L392.26,98.37 L392.92,98.37 L393.59,98.37 L394.25,98.37 L394.91,98.37 L395.58,98.38 L396.24,98.38 L396.91,98.38 L397.57,98.38 L398.23,98.38 L398.90,98.38 L399.56,98.38 L400.22,98.38 L400.89,98.38 L401.55,98.38 L402.22,98.38 L402.88,98.38 L403.54,98.38 L404.21,98.38 L404.87,98.38 L405.53,98.38 L406.20,98.38 L406.86,98.38 L407.53,98.38 L408.19,98.39 L408.85,98.39 L409.52,98.39 L410.18,98.39 L410.84,98.39 L411.51,98.39 L412.17,98.39 L412.84,98.39 L413.50,98.39 L413.50,98.40Z" fill="url(#gCO2)"/>
<path d="M346.60,98.40 L346.60,98.40 L347.26,98.40 L347.92,98.39 L348.59,98.39 L349.25,98.39 L349.91,98.39 L350.57,98.39 L351.23,98.39 L351.90,98.39 L352.56,98.39 L353.22,98.39 L353.88,98.39 L354.54,98.39 L355.21,98.39 L355.87,98.39 L356.53,98.39 L357.19,98.39 L357.86,98.39 L358.52,98.39 L359.18,98.39 L359.84,98.39 L360.50,98.39 L361.17,98.39 L361.83,98.39 L362.49,98.39 L363.15,98.39 L363.81,98.39 L364.48,98.38 L365.14,98.38 L365.80,98.38 L366.46,98.38 L367.12,98.38 L367.79,98.38 L368.45,98.37 L369.11,98.37 L369.77,98.36 L370.43,98.36 L371.10,98.35 L371.76,98.34 L372.42,98.32 L373.08,98.31 L373.74,98.29 L374.41,98.26 L375.07,98.23 L375.73,98.19 L376.39,98.14 L377.06,98.09 L377.72,98.03 L378.38,97.97 L379.04,97.90 L379.70,97.82 L380.37,97.75 L381.03,97.67 L381.69,97.60 L382.35,97.53 L383.01,97.48 L383.68,97.44 L384.34,97.41 L385.00,97.40 L385.66,97.41 L386.32,97.44 L386.99,97.48 L387.65,97.53 L388.31,97.60 L388.97,97.67 L389.63,97.75 L390.30,97.82 L390.96,97.90 L391.62,97.97 L392.28,98.03 L392.94,98.09 L393.61,98.14 L394.27,98.19 L394.93,98.23 L395.59,98.26 L396.26,98.29 L396.92,98.31 L397.58,98.32 L398.24,98.34 L398.90,98.35 L399.57,98.36 L400.23,98.36 L400.89,98.37 L401.55,98.37 L402.21,98.38 L402.88,98.38 L403.54,98.38 L404.20,98.38 L404.86,98.38 L405.52,98.38 L406.19,98.39 L406.85,98.39 L407.51,98.39 L408.17,98.39 L408.83,98.39 L409.50,98.39 L410.16,98.39 L410.82,98.39 L411.48,98.39 L412.14,98.39 L412.81,98.39 L413.47,98.39 L414.13,98.39 L414.79,98.39 L415.46,98.39 L416.12,98.39 L416.78,98.39 L417.44,98.39 L418.10,98.39 L418.77,98.39 L419.43,98.39 L420.09,98.39 L420.75,98.39 L421.41,98.39 L422.08,98.39 L422.74,98.40 L423.40,98.40 L423.40,98.40Z" fill="url(#gCO)"/>
<path d="M357.40,98.40 L357.40,98.33 L358.06,98.33 L358.73,98.32 L359.39,98.32 L360.05,98.32 L360.71,98.32 L361.38,98.31 L362.04,98.31 L362.70,98.31 L363.37,98.31 L364.03,98.30 L364.69,98.30 L365.35,98.30 L366.02,98.29 L366.68,98.29 L367.34,98.29 L368.01,98.28 L368.67,98.28 L369.33,98.27 L369.99,98.27 L370.66,98.26 L371.32,98.26 L371.98,98.25 L372.65,98.25 L373.31,98.24 L373.97,98.23 L374.63,98.23 L375.30,98.22 L375.96,98.21 L376.62,98.20 L377.29,98.19 L377.95,98.18 L378.61,98.17 L379.27,98.15 L379.94,98.13 L380.60,98.11 L381.26,98.09 L381.93,98.06 L382.59,98.03 L383.25,97.98 L383.91,97.93 L384.58,97.86 L385.24,97.77 L385.90,97.65 L386.57,97.51 L387.23,97.33 L387.89,97.10 L388.55,96.82 L389.22,96.47 L389.88,96.05 L390.54,95.54 L391.21,94.94 L391.87,94.22 L392.53,93.40 L393.19,92.45 L393.86,91.38 L394.52,90.20 L395.18,88.89 L395.85,87.49 L396.51,86.00 L397.17,84.44 L397.83,82.85 L398.50,81.26 L399.16,79.71 L399.82,78.24 L400.49,76.89 L401.15,75.70 L401.81,74.73 L402.47,74.00 L403.14,73.55 L403.80,73.40 L404.46,73.55 L405.13,74.00 L405.79,74.73 L406.45,75.70 L407.11,76.89 L407.78,78.24 L408.44,79.71 L409.10,81.26 L409.77,82.85 L410.43,84.44 L411.09,86.00 L411.75,87.49 L412.42,88.89 L413.08,90.20 L413.74,91.38 L414.41,92.45 L415.07,93.40 L415.73,94.22 L416.39,94.94 L417.06,95.54 L417.72,96.05 L418.38,96.47 L419.05,96.82 L419.71,97.10 L420.37,97.33 L421.03,97.51 L421.70,97.65 L422.36,97.77 L423.02,97.86 L423.69,97.93 L424.35,97.98 L425.01,98.03 L425.67,98.06 L426.34,98.09 L427.00,98.11 L427.66,98.13 L428.33,98.15 L428.99,98.17 L429.65,98.18 L430.31,98.19 L430.98,98.20 L431.64,98.21 L432.30,98.22 L432.97,98.23 L433.63,98.23 L434.29,98.24 L434.95,98.25 L435.62,98.25 L436.28,98.26 L436.94,98.26 L437.61,98.27 L438.27,98.27 L438.93,98.28 L439.59,98.28 L440.26,98.29 L440.92,98.29 L441.58,98.29 L442.25,98.30 L442.91,98.30 L443.57,98.30 L444.23,98.31 L444.90,98.31 L445.56,98.31 L446.22,98.31 L446.89,98.32 L447.55,98.32 L448.21,98.32 L448.87,98.32 L449.54,98.33 L450.20,98.33 L450.20,98.40Z" fill="url(#gCC)"/>
<path d="M329.20,97.56 L329.83,97.63 L330.46,97.67 L331.08,98.02 L331.71,97.76 L332.34,97.87 L332.97,97.47 L333.59,97.69 L334.22,97.86 L334.85,97.63 L335.48,97.85 L336.11,97.76 L336.73,97.41 L337.36,97.13 L337.99,97.52 L338.62,97.07 L339.25,96.92 L339.87,97.27 L340.50,97.25 L341.13,97.16 L341.76,97.13 L342.38,96.57 L343.01,96.39 L343.64,96.30 L344.27,96.69 L344.90,96.05 L345.52,95.96 L346.15,95.76 L346.78,95.66 L347.41,95.55 L348.04,95.63 L348.66,95.42 L349.29,95.42 L349.92,95.71 L350.55,95.19 L351.17,95.53 L351.80,95.45 L352.43,95.33 L353.06,95.33 L353.69,95.46 L354.31,95.39 L354.94,95.22 L355.57,95.34 L356.20,95.37 L356.82,95.55 L357.45,96.00 L358.08,95.76 L358.71,95.66 L359.34,96.02 L359.96,96.33 L360.59,96.23 L361.22,96.50 L361.85,96.24 L362.48,96.33 L363.10,96.80 L363.73,96.53 L364.36,96.78 L364.99,96.92 L365.61,96.88 L366.24,96.86 L366.87,96.92 L367.50,97.54 L368.13,97.44 L368.75,97.65 L369.38,97.41 L370.01,97.72 L370.64,97.70 L371.26,97.57 L371.89,97.53 L372.52,97.53 L373.15,97.36 L373.78,97.44 L374.40,97.63 L375.03,97.29 L375.66,97.65 L376.29,97.41 L376.92,97.42 L377.54,97.49 L378.17,97.32 L378.80,96.94 L379.43,96.93 L380.05,96.70 L380.68,96.63 L381.31,97.09 L381.94,96.79 L382.57,96.93 L383.19,96.72 L383.82,96.36 L384.45,96.67 L385.08,96.55 L385.71,96.19 L386.33,95.86 L386.96,95.89 L387.59,95.65 L388.22,95.60 L388.84,95.20 L389.47,95.29 L390.10,95.10 L390.73,94.20 L391.36,94.01 L391.98,93.26 L392.61,92.46 L393.24,91.87 L393.87,90.58 L394.49,89.76 L395.12,88.10 L395.75,87.37 L396.38,85.52 L397.01,83.97 L397.63,83.02 L398.26,81.42 L398.89,79.92 L399.52,78.55 L400.15,76.98 L400.77,75.62 L401.40,74.70 L402.03,74.24 L402.66,73.65 L403.28,72.84 L403.91,72.88 L404.54,73.08 L405.17,73.80 L405.80,73.96 L406.42,75.37 L407.05,76.14 L407.68,77.58 L408.31,78.71 L408.94,80.14 L409.56,82.12 L410.19,83.40 L410.82,85.17 L411.45,86.55 L412.07,87.86 L412.70,88.74 L413.33,90.24 L413.96,91.57 L414.59,92.25 L415.21,92.86 L415.84,93.69 L416.47,94.83 L417.10,95.39 L417.72,95.44 L418.35,95.88 L418.98,96.45 L419.61,96.60 L420.24,96.63 L420.86,97.29 L421.49,97.22 L422.12,97.18 L422.75,97.07 L423.38,97.44 L424.00,97.64 L424.63,97.35 L425.26,97.33 L425.89,97.74 L426.51,97.89 L427.14,97.58 L427.77,97.66 L428.40,97.77 L429.03,97.72 L429.65,97.49 L430.28,97.59 L430.91,97.56 L431.54,97.56 L432.16,97.51 L432.79,97.70 L433.42,97.60 L434.05,97.99 L434.68,97.68 L435.30,98.07 L435.93,97.98 L436.56,97.66 L437.19,97.60 L437.82,97.85 L438.44,97.80 L439.07,97.84 L439.70,97.60 L440.33,97.85 L440.95,97.99 L441.58,97.80 L442.21,97.69 L442.84,98.10 L443.47,97.72 L444.09,98.15 L444.72,97.96 L445.35,97.56 L445.98,97.83 L446.61,97.65 L447.23,98.03 L447.86,97.82 L448.49,97.62 L449.12,98.14 L449.74,98.05 L450.37,97.94 L451.00,97.91" fill="none" stroke="#a4a9ac" stroke-width="1.1" stroke-linejoin="round"/>
<path d="M329.20,134.30 L329.20,134.29 L329.86,134.29 L330.53,134.29 L331.19,134.29 L331.85,134.28 L332.52,134.28 L333.18,134.28 L333.84,134.28 L334.51,134.28 L335.17,134.28 L335.83,134.28 L336.50,134.28 L337.16,134.28 L337.82,134.28 L338.49,134.28 L339.15,134.27 L339.81,134.27 L340.48,134.27 L341.14,134.27 L341.80,134.27 L342.47,134.27 L343.13,134.26 L343.79,134.26 L344.46,134.26 L345.12,134.25 L345.78,134.24 L346.45,134.24 L347.11,134.23 L347.77,134.21 L348.44,134.20 L349.10,134.18 L349.76,134.16 L350.43,134.13 L351.09,134.09 L351.75,134.05 L352.42,134.01 L353.08,133.95 L353.74,133.88 L354.41,133.81 L355.07,133.73 L355.73,133.64 L356.40,133.54 L357.06,133.44 L357.72,133.33 L358.39,133.22 L359.05,133.11 L359.71,133.00 L360.38,132.90 L361.04,132.81 L361.70,132.73 L362.37,132.67 L363.03,132.62 L363.69,132.60 L364.36,132.60 L365.02,132.63 L365.68,132.67 L366.35,132.74 L367.01,132.82 L367.67,132.91 L368.34,133.01 L369.00,133.12 L369.66,133.23 L370.33,133.34 L370.99,133.45 L371.65,133.55 L372.32,133.65 L372.98,133.74 L373.64,133.82 L374.31,133.89 L374.97,133.95 L375.63,134.01 L376.30,134.06 L376.96,134.10 L377.62,134.13 L378.29,134.16 L378.95,134.18 L379.61,134.20 L380.28,134.21 L380.94,134.23 L381.60,134.24 L382.27,134.24 L382.93,134.25 L383.59,134.26 L384.26,134.26 L384.92,134.26 L385.58,134.27 L386.25,134.27 L386.91,134.27 L387.57,134.27 L388.24,134.27 L388.90,134.27 L389.56,134.28 L390.23,134.28 L390.89,134.28 L391.55,134.28 L392.22,134.28 L392.88,134.28 L393.54,134.28 L394.21,134.28 L394.87,134.28 L395.53,134.28 L396.20,134.28 L396.86,134.29 L397.52,134.29 L398.19,134.29 L398.85,134.29 L399.51,134.29 L400.18,134.29 L400.84,134.29 L401.50,134.29 L402.17,134.29 L402.83,134.29 L403.49,134.29 L404.16,134.29 L404.82,134.29 L405.48,134.29 L406.15,134.29 L406.81,134.29 L407.47,134.29 L408.14,134.29 L408.80,134.29 L408.80,134.30Z" fill="url(#gCO2)"/>
<path d="M346.60,134.30 L346.60,134.30 L347.26,134.30 L347.92,134.29 L348.59,134.29 L349.25,134.29 L349.91,134.29 L350.57,134.29 L351.23,134.29 L351.90,134.29 L352.56,134.29 L353.22,134.29 L353.88,134.29 L354.54,134.29 L355.21,134.29 L355.87,134.29 L356.53,134.29 L357.19,134.29 L357.86,134.29 L358.52,134.29 L359.18,134.29 L359.84,134.29 L360.50,134.29 L361.17,134.29 L361.83,134.29 L362.49,134.29 L363.15,134.29 L363.81,134.29 L364.48,134.28 L365.14,134.28 L365.80,134.28 L366.46,134.28 L367.12,134.28 L367.79,134.28 L368.45,134.27 L369.11,134.27 L369.77,134.26 L370.43,134.26 L371.10,134.25 L371.76,134.24 L372.42,134.22 L373.08,134.21 L373.74,134.19 L374.41,134.16 L375.07,134.13 L375.73,134.09 L376.39,134.04 L377.06,133.99 L377.72,133.93 L378.38,133.87 L379.04,133.80 L379.70,133.72 L380.37,133.65 L381.03,133.57 L381.69,133.50 L382.35,133.43 L383.01,133.38 L383.68,133.34 L384.34,133.31 L385.00,133.30 L385.66,133.31 L386.32,133.34 L386.99,133.38 L387.65,133.43 L388.31,133.50 L388.97,133.57 L389.63,133.65 L390.30,133.72 L390.96,133.80 L391.62,133.87 L392.28,133.93 L392.94,133.99 L393.61,134.04 L394.27,134.09 L394.93,134.13 L395.59,134.16 L396.26,134.19 L396.92,134.21 L397.58,134.22 L398.24,134.24 L398.90,134.25 L399.57,134.26 L400.23,134.26 L400.89,134.27 L401.55,134.27 L402.21,134.28 L402.88,134.28 L403.54,134.28 L404.20,134.28 L404.86,134.28 L405.52,134.28 L406.19,134.29 L406.85,134.29 L407.51,134.29 L408.17,134.29 L408.83,134.29 L409.50,134.29 L410.16,134.29 L410.82,134.29 L411.48,134.29 L412.14,134.29 L412.81,134.29 L413.47,134.29 L414.13,134.29 L414.79,134.29 L415.46,134.29 L416.12,134.29 L416.78,134.29 L417.44,134.29 L418.10,134.29 L418.77,134.29 L419.43,134.29 L420.09,134.29 L420.75,134.29 L421.41,134.29 L422.08,134.29 L422.74,134.30 L423.40,134.30 L423.40,134.30Z" fill="url(#gCO)"/>
<path d="M362.84,134.30 L362.84,134.23 L363.51,134.23 L364.17,134.23 L364.84,134.23 L365.50,134.22 L366.17,134.22 L366.84,134.22 L367.50,134.21 L368.17,134.21 L368.83,134.21 L369.50,134.21 L370.17,134.20 L370.83,134.20 L371.50,134.19 L372.16,134.19 L372.83,134.18 L373.50,134.18 L374.16,134.17 L374.83,134.17 L375.49,134.16 L376.16,134.16 L376.83,134.15 L377.49,134.14 L378.16,134.13 L378.82,134.13 L379.49,134.12 L380.16,134.11 L380.82,134.09 L381.49,134.08 L382.15,134.07 L382.82,134.05 L383.49,134.03 L384.15,134.00 L384.82,133.97 L385.48,133.92 L386.15,133.87 L386.82,133.79 L387.48,133.70 L388.15,133.57 L388.81,133.40 L389.48,133.19 L390.15,132.91 L390.81,132.56 L391.48,132.12 L392.14,131.57 L392.81,130.91 L393.48,130.11 L394.14,129.17 L394.81,128.09 L395.47,126.85 L396.14,125.48 L396.81,123.98 L397.47,122.37 L398.14,120.69 L398.80,118.99 L399.47,117.31 L400.14,115.70 L400.80,114.22 L401.47,112.95 L402.13,111.93 L402.80,111.21 L403.47,110.85 L404.13,110.85 L404.80,111.21 L405.47,111.93 L406.13,112.95 L406.80,114.22 L407.46,115.70 L408.13,117.31 L408.80,118.99 L409.46,120.69 L410.13,122.37 L410.79,123.98 L411.46,125.48 L412.13,126.85 L412.79,128.09 L413.46,129.17 L414.12,130.11 L414.79,130.91 L415.46,131.57 L416.12,132.12 L416.79,132.56 L417.45,132.91 L418.12,133.19 L418.79,133.40 L419.45,133.57 L420.12,133.70 L420.78,133.79 L421.45,133.87 L422.12,133.92 L422.78,133.97 L423.45,134.00 L424.11,134.03 L424.78,134.05 L425.45,134.07 L426.11,134.08 L426.78,134.09 L427.44,134.11 L428.11,134.12 L428.78,134.13 L429.44,134.13 L430.11,134.14 L430.77,134.15 L431.44,134.16 L432.11,134.16 L432.77,134.17 L433.44,134.17 L434.10,134.18 L434.77,134.18 L435.44,134.19 L436.10,134.19 L436.77,134.20 L437.43,134.20 L438.10,134.21 L438.77,134.21 L439.43,134.21 L440.10,134.21 L440.76,134.22 L441.43,134.22 L442.10,134.22 L442.76,134.23 L443.43,134.23 L444.09,134.23 L444.76,134.23 L444.76,134.30Z" fill="url(#gCC)"/>
<path d="M329.20,133.86 L329.83,133.89 L330.46,134.00 L331.08,133.68 L331.71,133.90 L332.34,134.04 L332.97,134.05 L333.59,133.62 L334.22,133.90 L334.85,133.87 L335.48,133.81 L336.11,134.08 L336.73,133.82 L337.36,133.77 L337.99,134.06 L338.62,133.88 L339.25,133.67 L339.87,133.68 L340.50,133.79 L341.13,133.52 L341.76,133.85 L342.38,133.92 L343.01,133.73 L343.64,133.98 L344.27,134.03 L344.90,133.80 L345.52,133.87 L346.15,133.52 L346.78,133.48 L347.41,134.02 L348.04,133.59 L348.66,133.53 L349.29,133.92 L349.92,133.81 L350.55,133.40 L351.17,133.49 L351.80,133.40 L352.43,133.37 L353.06,133.15 L353.69,133.40 L354.31,133.20 L354.94,133.18 L355.57,132.97 L356.20,132.83 L356.82,132.69 L357.45,133.09 L358.08,132.91 L358.71,132.69 L359.34,132.32 L359.96,132.23 L360.59,132.12 L361.22,132.15 L361.85,131.92 L362.48,132.00 L363.10,131.91 L363.73,131.88 L364.36,132.16 L364.99,132.06 L365.61,132.11 L366.24,132.09 L366.87,132.27 L367.50,132.50 L368.13,132.30 L368.75,132.25 L369.38,132.59 L370.01,132.63 L370.64,132.96 L371.26,132.65 L371.89,133.19 L372.52,132.74 L373.15,133.12 L373.78,133.11 L374.40,133.07 L375.03,133.44 L375.66,133.34 L376.29,133.01 L376.92,133.19 L377.54,133.23 L378.17,132.85 L378.80,132.83 L379.43,133.08 L380.05,133.09 L380.68,132.86 L381.31,132.76 L381.94,132.74 L382.57,132.52 L383.19,132.83 L383.82,132.83 L384.45,132.49 L385.08,132.18 L385.71,132.37 L386.33,132.58 L386.96,132.27 L387.59,132.09 L388.22,132.08 L388.84,132.30 L389.47,132.12 L390.10,131.73 L390.73,131.68 L391.36,131.43 L391.98,131.13 L392.61,130.51 L393.24,129.62 L393.87,129.06 L394.49,128.21 L395.12,127.11 L395.75,125.85 L396.38,124.43 L397.01,122.96 L397.63,121.64 L398.26,119.93 L398.89,118.39 L399.52,116.52 L400.15,114.93 L400.77,113.65 L401.40,112.63 L402.03,111.63 L402.66,110.68 L403.28,110.24 L403.91,110.60 L404.54,110.29 L405.17,111.35 L405.80,112.09 L406.42,113.05 L407.05,114.59 L407.68,115.84 L408.31,116.98 L408.94,119.14 L409.56,120.43 L410.19,122.31 L410.82,123.76 L411.45,124.77 L412.07,126.01 L412.70,127.18 L413.33,128.68 L413.96,129.60 L414.59,130.05 L415.21,130.65 L415.84,131.36 L416.47,132.08 L417.10,132.41 L417.72,132.79 L418.35,133.09 L418.98,133.15 L419.61,133.34 L420.24,132.96 L420.86,133.05 L421.49,133.63 L422.12,133.53 L422.75,133.40 L423.38,133.31 L424.00,133.46 L424.63,133.49 L425.26,133.60 L425.89,133.59 L426.51,133.45 L427.14,133.39 L427.77,133.48 L428.40,133.44 L429.03,133.43 L429.65,133.63 L430.28,133.47 L430.91,133.87 L431.54,133.73 L432.16,133.68 L432.79,133.80 L433.42,133.56 L434.05,133.44 L434.68,133.47 L435.30,133.63 L435.93,133.65 L436.56,133.59 L437.19,133.63 L437.82,133.95 L438.44,133.46 L439.07,133.72 L439.70,133.69 L440.33,133.63 L440.95,133.90 L441.58,133.60 L442.21,133.49 L442.84,133.57 L443.47,134.06 L444.09,133.68 L444.72,133.55 L445.35,134.06 L445.98,133.87 L446.61,134.06 L447.23,133.68 L447.86,133.97 L448.49,133.51 L449.12,133.63 L449.74,133.97 L450.37,133.80 L451.00,133.97" fill="none" stroke="#a4a9ac" stroke-width="1.1" stroke-linejoin="round"/>
<text x="147.00" y="57.70" font-size="11" text-anchor="end" fill="#231f20">0 s</text>
<text x="147.00" y="96.50" font-size="11" text-anchor="end" fill="#231f20">30 s</text>
<text x="147.00" y="133.20" font-size="11" text-anchor="end" fill="#231f20">60 s</text>
<text x="305.30" y="58.00" font-size="11" text-anchor="end" fill="#231f20">0 s</text>
<text x="305.30" y="95.80" font-size="11" text-anchor="end" fill="#231f20">30 s</text>
<text x="305.30" y="134.30" font-size="11" text-anchor="end" fill="#231f20">60 s</text>
<text x="457.50" y="59.00" font-size="11" text-anchor="end" fill="#231f20">0 s</text>
<text x="457.50" y="97.70" font-size="11" text-anchor="end" fill="#231f20">30 s</text>
<text x="457.50" y="132.50" font-size="11" text-anchor="end" fill="#231f20">60 s</text>
<text x="30.10" y="43.90" font-size="11" fill="#231f20">C=O</text>
<text x="63.60" y="43.90" font-size="11" fill="#231f20">C-O</text>
<text x="104.60" y="45.20" font-size="11" fill="#231f20">C-C/C-H</text>
<line x1="54.90" y1="55.50" x2="49.20" y2="46.20" stroke="#231f20" stroke-width="0.8"/>
<path d="M49.20,46.20 L51.80,48.06 L49.68,49.36Z" fill="#231f20"/>
<line x1="79.00" y1="54.40" x2="75.80" y2="46.20" stroke="#231f20" stroke-width="0.8"/>
<path d="M75.80,46.20 L78.03,48.49 L75.71,49.40Z" fill="#231f20"/>
<line x1="106.30" y1="55.50" x2="114.20" y2="47.80" stroke="#231f20" stroke-width="0.8"/>
<path d="M114.20,47.80 L112.96,50.75 L111.22,48.96Z" fill="#231f20"/>
<line x1="22.00" y1="137.20" x2="145.00" y2="137.20" stroke="#4a4a4a" stroke-width="1"/>
<line x1="22.00" y1="137.20" x2="22.00" y2="139.40" stroke="#4a4a4a" stroke-width="0.9"/>
<text x="22.00" y="149.30" font-size="11" text-anchor="middle" fill="#231f20">292</text>
<line x1="42.50" y1="137.20" x2="42.50" y2="138.60" stroke="#4a4a4a" stroke-width="0.8"/>
<line x1="63.00" y1="137.20" x2="63.00" y2="139.40" stroke="#4a4a4a" stroke-width="0.9"/>
<text x="63.00" y="149.30" font-size="11" text-anchor="middle" fill="#231f20">288</text>
<line x1="83.50" y1="137.20" x2="83.50" y2="138.60" stroke="#4a4a4a" stroke-width="0.8"/>
<line x1="104.00" y1="137.20" x2="104.00" y2="139.40" stroke="#4a4a4a" stroke-width="0.9"/>
<text x="104.00" y="149.30" font-size="11" text-anchor="middle" fill="#231f20">284</text>
<line x1="124.50" y1="137.20" x2="124.50" y2="138.60" stroke="#4a4a4a" stroke-width="0.8"/>
<line x1="145.00" y1="137.20" x2="145.00" y2="139.40" stroke="#4a4a4a" stroke-width="0.9"/>
<text x="145.00" y="149.30" font-size="11" text-anchor="middle" fill="#231f20">280</text>
<text x="84.00" y="163.00" font-size="11.5" text-anchor="middle" fill="#231f20">Binding energy (eV)</text>
<line x1="174.00" y1="136.40" x2="300.00" y2="136.40" stroke="#4a4a4a" stroke-width="1"/>
<line x1="174.00" y1="136.40" x2="174.00" y2="138.60" stroke="#4a4a4a" stroke-width="0.9"/>
<text x="174.00" y="149.00" font-size="11" text-anchor="middle" fill="#231f20">292</text>
<line x1="195.00" y1="136.40" x2="195.00" y2="137.80" stroke="#4a4a4a" stroke-width="0.8"/>
<line x1="216.00" y1="136.40" x2="216.00" y2="138.60" stroke="#4a4a4a" stroke-width="0.9"/>
<text x="216.00" y="149.00" font-size="11" text-anchor="middle" fill="#231f20">288</text>
<line x1="237.00" y1="136.40" x2="237.00" y2="137.80" stroke="#4a4a4a" stroke-width="0.8"/>
<line x1="258.00" y1="136.40" x2="258.00" y2="138.60" stroke="#4a4a4a" stroke-width="0.9"/>
<text x="258.00" y="149.00" font-size="11" text-anchor="middle" fill="#231f20">284</text>
<line x1="279.00" y1="136.40" x2="279.00" y2="137.80" stroke="#4a4a4a" stroke-width="0.8"/>
<line x1="300.00" y1="136.40" x2="300.00" y2="138.60" stroke="#4a4a4a" stroke-width="0.9"/>
<text x="300.00" y="149.00" font-size="11" text-anchor="middle" fill="#231f20">280</text>
<text x="237.50" y="162.60" font-size="11.5" text-anchor="middle" fill="#231f20">Binding energy (eV)</text>
<line x1="329.40" y1="135.60" x2="454.00" y2="135.60" stroke="#4a4a4a" stroke-width="1"/>
<line x1="329.40" y1="135.60" x2="329.40" y2="137.80" stroke="#4a4a4a" stroke-width="0.9"/>
<text x="329.40" y="148.50" font-size="11" text-anchor="middle" fill="#231f20">292</text>
<line x1="350.17" y1="135.60" x2="350.17" y2="137.00" stroke="#4a4a4a" stroke-width="0.8"/>
<line x1="370.93" y1="135.60" x2="370.93" y2="137.80" stroke="#4a4a4a" stroke-width="0.9"/>
<text x="370.93" y="148.50" font-size="11" text-anchor="middle" fill="#231f20">288</text>
<line x1="391.70" y1="135.60" x2="391.70" y2="137.00" stroke="#4a4a4a" stroke-width="0.8"/>
<line x1="412.47" y1="135.60" x2="412.47" y2="137.80" stroke="#4a4a4a" stroke-width="0.9"/>
<text x="412.47" y="148.50" font-size="11" text-anchor="middle" fill="#231f20">284</text>
<line x1="433.23" y1="135.60" x2="433.23" y2="137.00" stroke="#4a4a4a" stroke-width="0.8"/>
<line x1="454.00" y1="135.60" x2="454.00" y2="137.80" stroke="#4a4a4a" stroke-width="0.9"/>
<text x="454.00" y="148.50" font-size="11" text-anchor="middle" fill="#231f20">280</text>
<text x="396.50" y="162.50" font-size="11.5" text-anchor="middle" fill="#231f20">Binding energy (eV)</text>
<text x="-0.70" y="179.60" font-size="18.3" font-weight="bold" fill="#000">b</text>
<text x="13.60" y="191.40" font-size="11" fill="#231f20">1 M LiFSI in DME</text>
<text x="167.00" y="193.00" font-size="11.5" fill="#231f20">1 M LiFSI in DEA</text>
<text x="314.00" y="192.60" font-size="11.55" fill="#231f20">1 M LiFSI in DEA/FB (1:1 v/v)</text>
<text x="147.50" y="204.00" font-size="11" text-anchor="end" fill="#231f20">F 1s</text>
<text x="301.30" y="202.60" font-size="11" text-anchor="end" fill="#231f20">F 1s</text>
<text x="459.30" y="202.70" font-size="11" text-anchor="end" fill="#231f20">F 1s</text>
<text x="147.50" y="231.00" font-size="11" text-anchor="end" fill="#231f20">0 s</text>
<text x="147.50" y="269.00" font-size="11" text-anchor="end" fill="#231f20">30 s</text>
<text x="147.50" y="304.00" font-size="11" text-anchor="end" fill="#231f20">60 s</text>
<text x="301.30" y="228.60" font-size="11" text-anchor="end" fill="#231f20">0 s</text>
<text x="301.30" y="267.60" font-size="11" text-anchor="end" fill="#231f20">30 s</text>
<text x="301.30" y="302.30" font-size="11" text-anchor="end" fill="#231f20">60 s</text>
<text x="459.30" y="227.50" font-size="11" text-anchor="end" fill="#231f20">0 s</text>
<text x="459.30" y="266.20" font-size="11" text-anchor="end" fill="#231f20">30 s</text>
<text x="459.30" y="305.00" font-size="11" text-anchor="end" fill="#231f20">60 s</text>
<path d="M21.00,232.80 L21.00,232.61 L21.66,232.61 L22.33,232.60 L22.99,232.59 L23.65,232.58 L24.32,232.57 L24.98,232.56 L25.65,232.55 L26.31,232.54 L26.97,232.52 L27.64,232.51 L28.30,232.49 L28.96,232.47 L29.63,232.44 L30.29,232.41 L30.95,232.38 L31.62,232.35 L32.28,232.31 L32.95,232.26 L33.61,232.21 L34.27,232.15 L34.94,232.08 L35.60,232.00 L36.26,231.92 L36.93,231.82 L37.59,231.71 L38.25,231.59 L38.92,231.46 L39.58,231.31 L40.25,231.14 L40.91,230.96 L41.57,230.76 L42.24,230.55 L42.90,230.31 L43.56,230.06 L44.23,229.78 L44.89,229.49 L45.55,229.18 L46.22,228.85 L46.88,228.51 L47.55,228.14 L48.21,227.77 L48.87,227.38 L49.54,226.97 L50.20,226.57 L50.86,226.15 L51.53,225.73 L52.19,225.31 L52.85,224.90 L53.52,224.49 L54.18,224.10 L54.85,223.72 L55.51,223.37 L56.17,223.04 L56.84,222.74 L57.50,222.48 L58.16,222.25 L58.83,222.07 L59.49,221.93 L60.15,221.84 L60.82,221.80 L61.48,221.81 L62.15,221.88 L62.81,221.99 L63.47,222.14 L64.14,222.35 L64.80,222.59 L65.46,222.87 L66.13,223.19 L66.79,223.53 L67.45,223.89 L68.12,224.28 L68.78,224.68 L69.45,225.09 L70.11,225.50 L70.77,225.92 L71.44,226.34 L72.10,226.75 L72.76,227.16 L73.43,227.55 L74.09,227.94 L74.75,228.31 L75.42,228.66 L76.08,229.00 L76.75,229.32 L77.41,229.63 L78.07,229.91 L78.74,230.17 L79.40,230.42 L80.06,230.65 L80.73,230.85 L81.39,231.04 L82.05,231.22 L82.72,231.38 L83.38,231.52 L84.05,231.65 L84.71,231.76 L85.37,231.87 L86.04,231.96 L86.70,232.04 L87.36,232.11 L88.03,232.18 L88.69,232.23 L89.35,232.28 L90.02,232.33 L90.68,232.36 L91.35,232.40 L92.01,232.43 L92.67,232.45 L93.34,232.48 L94.00,232.50 L94.66,232.51 L95.33,232.53 L95.99,232.54 L96.65,232.56 L97.32,232.57 L97.98,232.58 L98.65,232.59 L99.31,232.60 L99.97,232.60 L100.64,232.61 L101.30,232.62 L101.96,232.62 L102.63,232.63 L103.29,232.63 L103.95,232.64 L104.62,232.64 L105.28,232.65 L105.95,232.65 L106.61,232.66 L107.27,232.66 L107.94,232.66 L108.60,232.67 L109.26,232.67 L109.93,232.68 L110.59,232.68 L111.25,232.68 L111.92,232.68 L112.58,232.69 L113.25,232.69 L113.91,232.69 L114.57,232.69 L115.24,232.70 L115.90,232.70 L116.56,232.70 L117.23,232.70 L117.89,232.71 L118.55,232.71 L119.22,232.71 L119.88,232.71 L120.55,232.71 L121.21,232.72 L121.87,232.72 L122.54,232.72 L123.20,232.72 L123.86,232.72 L124.53,232.72 L125.19,232.73 L125.85,232.73 L126.52,232.73 L127.18,232.73 L127.85,232.73 L128.51,232.73 L129.17,232.73 L129.84,232.74 L130.50,232.74 L131.16,232.74 L131.83,232.74 L132.49,232.74 L133.15,232.74 L133.82,232.74 L134.48,232.74 L135.15,232.74 L135.81,232.74 L136.47,232.75 L137.14,232.75 L137.80,232.75 L137.80,232.80Z" fill="url(#gSF)"/>
<path d="M48.10,232.80 L48.10,232.73 L48.77,232.73 L49.43,232.72 L50.10,232.72 L50.76,232.72 L51.43,232.72 L52.10,232.71 L52.76,232.71 L53.43,232.71 L54.09,232.71 L54.76,232.70 L55.43,232.70 L56.09,232.70 L56.76,232.69 L57.42,232.69 L58.09,232.69 L58.76,232.68 L59.42,232.68 L60.09,232.67 L60.75,232.67 L61.42,232.66 L62.09,232.66 L62.75,232.65 L63.42,232.65 L64.08,232.64 L64.75,232.64 L65.42,232.63 L66.08,232.62 L66.75,232.61 L67.41,232.61 L68.08,232.60 L68.75,232.59 L69.41,232.58 L70.08,232.56 L70.74,232.55 L71.41,232.54 L72.07,232.52 L72.74,232.50 L73.41,232.48 L74.07,232.45 L74.74,232.42 L75.40,232.39 L76.07,232.34 L76.74,232.28 L77.40,232.21 L78.07,232.13 L78.73,232.03 L79.40,231.90 L80.07,231.74 L80.73,231.55 L81.40,231.32 L82.06,231.05 L82.73,230.73 L83.40,230.35 L84.06,229.91 L84.73,229.41 L85.39,228.84 L86.06,228.20 L86.73,227.50 L87.39,226.73 L88.06,225.90 L88.72,225.03 L89.39,224.13 L90.06,223.20 L90.72,222.28 L91.39,221.37 L92.05,220.51 L92.72,219.71 L93.39,219.01 L94.05,218.42 L94.72,217.98 L95.38,217.70 L96.05,217.60 L96.72,217.68 L97.38,217.93 L98.05,218.35 L98.71,218.91 L99.38,219.60 L100.05,220.38 L100.71,221.24 L101.38,222.14 L102.04,223.06 L102.71,223.99 L103.38,224.90 L104.04,225.78 L104.71,226.61 L105.37,227.38 L106.04,228.10 L106.71,228.75 L107.37,229.33 L108.04,229.84 L108.70,230.29 L109.37,230.68 L110.04,231.01 L110.70,231.29 L111.37,231.52 L112.03,231.72 L112.70,231.88 L113.37,232.01 L114.03,232.12 L114.70,232.20 L115.36,232.27 L116.03,232.33 L116.70,232.38 L117.36,232.42 L118.03,232.45 L118.69,232.48 L119.36,232.50 L120.03,232.52 L120.69,232.53 L121.36,232.55 L122.02,232.56 L122.69,232.57 L123.35,232.58 L124.02,232.59 L124.69,232.60 L125.35,232.61 L126.02,232.62 L126.68,232.63 L127.35,232.63 L128.02,232.64 L128.68,232.65 L129.35,232.65 L130.01,232.66 L130.68,232.66 L131.35,232.67 L132.01,232.67 L132.68,232.68 L133.34,232.68 L134.01,232.69 L134.68,232.69 L135.34,232.69 L136.01,232.70 L136.67,232.70 L137.34,232.70 L138.01,232.71 L138.67,232.71 L139.34,232.71 L140.00,232.71 L140.67,232.72 L141.34,232.72 L142.00,232.72 L142.67,232.72 L143.33,232.73 L144.00,232.73 L144.00,232.80Z" fill="url(#gLiF)"/>
<path d="M21.00,232.06 L21.63,231.97 L22.26,231.92 L22.88,232.36 L23.51,232.15 L24.14,232.21 L24.77,232.12 L25.39,232.00 L26.02,232.20 L26.65,232.09 L27.28,232.20 L27.90,232.11 L28.53,232.20 L29.16,231.94 L29.79,231.74 L30.41,231.71 L31.04,232.02 L31.67,231.65 L32.30,231.91 L32.92,231.84 L33.55,231.46 L34.18,231.83 L34.81,231.32 L35.43,231.75 L36.06,231.65 L36.69,231.19 L37.32,231.40 L37.94,231.29 L38.57,230.80 L39.20,231.00 L39.83,230.52 L40.45,230.83 L41.08,230.52 L41.71,230.50 L42.34,229.73 L42.96,229.67 L43.59,229.61 L44.22,229.34 L44.85,228.81 L45.47,228.94 L46.10,228.60 L46.73,227.95 L47.36,227.52 L47.98,227.47 L48.61,226.95 L49.24,226.73 L49.87,226.24 L50.49,225.79 L51.12,225.17 L51.75,224.84 L52.38,224.63 L53.01,224.40 L53.63,223.84 L54.26,223.66 L54.89,223.18 L55.52,223.04 L56.14,222.59 L56.77,222.11 L57.40,221.74 L58.03,221.47 L58.65,221.27 L59.28,221.61 L59.91,221.52 L60.54,221.38 L61.16,220.98 L61.79,221.34 L62.42,221.10 L63.05,221.67 L63.67,221.69 L64.30,221.94 L64.93,222.09 L65.56,222.24 L66.18,222.79 L66.81,223.18 L67.44,223.08 L68.07,223.56 L68.69,224.10 L69.32,224.44 L69.95,224.66 L70.58,225.07 L71.20,225.76 L71.83,225.73 L72.46,226.06 L73.09,226.70 L73.71,226.81 L74.34,227.51 L74.97,227.48 L75.60,228.13 L76.22,228.08 L76.85,228.63 L77.48,228.76 L78.11,228.94 L78.73,228.78 L79.36,228.86 L79.99,228.85 L80.62,228.97 L81.24,229.24 L81.87,228.80 L82.50,228.77 L83.13,228.77 L83.76,228.26 L84.38,228.03 L85.01,227.57 L85.64,227.37 L86.27,226.50 L86.89,226.42 L87.52,225.51 L88.15,224.86 L88.78,223.99 L89.40,223.15 L90.03,222.60 L90.66,221.72 L91.29,220.85 L91.91,219.58 L92.54,219.17 L93.17,218.71 L93.80,217.96 L94.42,217.42 L95.05,217.19 L95.68,216.73 L96.31,217.05 L96.93,217.22 L97.56,217.09 L98.19,217.79 L98.82,218.41 L99.44,218.93 L100.07,219.88 L100.70,220.84 L101.33,221.68 L101.95,222.20 L102.58,222.98 L103.21,224.27 L103.84,224.97 L104.46,225.90 L105.09,226.68 L105.72,227.03 L106.35,227.86 L106.97,228.28 L107.60,229.10 L108.23,229.51 L108.86,229.65 L109.48,230.16 L110.11,230.52 L110.74,230.57 L111.37,230.76 L111.99,231.12 L112.62,231.04 L113.25,231.42 L113.88,231.80 L114.51,231.82 L115.13,231.43 L115.76,231.95 L116.39,231.94 L117.02,231.98 L117.64,231.60 L118.27,232.07 L118.90,231.76 L119.53,232.15 L120.15,231.88 L120.78,231.92 L121.41,231.82 L122.04,232.25 L122.66,231.88 L123.29,232.28 L123.92,232.07 L124.55,231.87 L125.17,232.18 L125.80,232.11 L126.43,231.82 L127.06,232.31 L127.68,231.98 L128.31,231.84 L128.94,232.29 L129.57,232.28 L130.19,232.08 L130.82,231.96 L131.45,232.17 L132.08,232.21 L132.70,232.28 L133.33,232.17 L133.96,232.22 L134.59,232.31 L135.21,232.00 L135.84,232.00 L136.47,232.18 L137.10,232.35 L137.72,232.38 L138.35,232.42 L138.98,232.17 L139.61,232.34 L140.23,231.98 L140.86,232.15 L141.49,231.96 L142.12,232.43 L142.74,232.53 L143.37,232.33 L144.00,232.38" fill="none" stroke="#a4a9ac" stroke-width="1.1" stroke-linejoin="round"/>
<path d="M21.00,271.00 L21.00,270.96 L21.67,270.96 L22.33,270.96 L23.00,270.96 L23.66,270.95 L24.33,270.95 L24.99,270.95 L25.66,270.95 L26.32,270.95 L26.99,270.95 L27.66,270.94 L28.32,270.94 L28.99,270.94 L29.65,270.94 L30.32,270.93 L30.98,270.93 L31.65,270.93 L32.31,270.92 L32.98,270.92 L33.65,270.91 L34.31,270.91 L34.98,270.90 L35.64,270.89 L36.31,270.88 L36.97,270.87 L37.64,270.86 L38.30,270.85 L38.97,270.83 L39.64,270.81 L40.30,270.79 L40.97,270.77 L41.63,270.75 L42.30,270.72 L42.96,270.69 L43.63,270.65 L44.30,270.61 L44.96,270.57 L45.63,270.52 L46.29,270.47 L46.96,270.41 L47.62,270.35 L48.29,270.28 L48.95,270.21 L49.62,270.13 L50.29,270.05 L50.95,269.96 L51.62,269.87 L52.28,269.77 L52.95,269.67 L53.61,269.56 L54.28,269.45 L54.94,269.34 L55.61,269.23 L56.28,269.12 L56.94,269.00 L57.61,268.89 L58.27,268.78 L58.94,268.67 L59.60,268.56 L60.27,268.46 L60.93,268.37 L61.60,268.28 L62.27,268.21 L62.93,268.14 L63.60,268.09 L64.26,268.05 L64.93,268.02 L65.59,268.00 L66.26,268.00 L66.92,268.01 L67.59,268.04 L68.26,268.08 L68.92,268.13 L69.59,268.19 L70.25,268.27 L70.92,268.35 L71.58,268.44 L72.25,268.54 L72.91,268.64 L73.58,268.75 L74.25,268.86 L74.91,268.98 L75.58,269.09 L76.24,269.20 L76.91,269.32 L77.57,269.43 L78.24,269.54 L78.90,269.65 L79.57,269.75 L80.24,269.85 L80.90,269.94 L81.57,270.03 L82.23,270.11 L82.90,270.19 L83.56,270.27 L84.23,270.33 L84.90,270.40 L85.56,270.46 L86.23,270.51 L86.89,270.56 L87.56,270.60 L88.22,270.64 L88.89,270.68 L89.55,270.71 L90.22,270.74 L90.89,270.77 L91.55,270.79 L92.22,270.81 L92.88,270.83 L93.55,270.84 L94.21,270.86 L94.88,270.87 L95.54,270.88 L96.21,270.89 L96.88,270.90 L97.54,270.90 L98.21,270.91 L98.87,270.92 L99.54,270.92 L100.20,270.93 L100.87,270.93 L101.53,270.93 L102.20,270.94 L102.87,270.94 L103.53,270.94 L104.20,270.94 L104.86,270.95 L105.53,270.95 L106.19,270.95 L106.86,270.95 L107.52,270.95 L108.19,270.95 L108.86,270.96 L109.52,270.96 L110.19,270.96 L110.85,270.96 L111.52,270.96 L112.18,270.96 L112.85,270.96 L113.51,270.96 L114.18,270.96 L114.85,270.97 L115.51,270.97 L116.18,270.97 L116.84,270.97 L117.51,270.97 L118.17,270.97 L118.84,270.97 L119.50,270.97 L120.17,270.97 L120.84,270.97 L121.50,270.97 L122.17,270.97 L122.83,270.97 L123.50,270.97 L124.16,270.98 L124.83,270.98 L125.50,270.98 L126.16,270.98 L126.83,270.98 L127.49,270.98 L128.16,270.98 L128.82,270.98 L129.49,270.98 L130.15,270.98 L130.82,270.98 L131.49,270.98 L132.15,270.98 L132.82,270.98 L133.48,270.98 L134.15,270.98 L134.81,270.98 L135.48,270.98 L136.14,270.98 L136.81,270.98 L137.48,270.98 L138.14,270.98 L138.81,270.98 L139.47,270.98 L140.14,270.98 L140.80,270.98 L141.47,270.99 L142.13,270.99 L142.80,270.99 L142.80,271.00Z" fill="url(#gSF)"/>
<path d="M46.70,271.00 L46.70,270.91 L47.37,270.91 L48.03,270.91 L48.70,270.91 L49.37,270.90 L50.03,270.90 L50.70,270.90 L51.37,270.90 L52.03,270.89 L52.70,270.89 L53.36,270.89 L54.03,270.88 L54.70,270.88 L55.36,270.88 L56.03,270.87 L56.70,270.87 L57.36,270.86 L58.03,270.86 L58.70,270.85 L59.36,270.85 L60.03,270.84 L60.70,270.84 L61.36,270.83 L62.03,270.82 L62.69,270.82 L63.36,270.81 L64.03,270.80 L64.69,270.80 L65.36,270.79 L66.03,270.78 L66.69,270.77 L67.36,270.76 L68.03,270.75 L68.69,270.73 L69.36,270.72 L70.03,270.71 L70.69,270.69 L71.36,270.67 L72.02,270.65 L72.69,270.63 L73.36,270.60 L74.02,270.56 L74.69,270.52 L75.36,270.48 L76.02,270.42 L76.69,270.34 L77.36,270.25 L78.02,270.15 L78.69,270.01 L79.36,269.85 L80.02,269.66 L80.69,269.42 L81.35,269.14 L82.02,268.81 L82.69,268.42 L83.35,267.97 L84.02,267.45 L84.69,266.85 L85.35,266.19 L86.02,265.44 L86.69,264.63 L87.35,263.74 L88.02,262.79 L88.69,261.79 L89.35,260.75 L90.02,259.69 L90.68,258.63 L91.35,257.59 L92.02,256.59 L92.68,255.66 L93.35,254.83 L94.02,254.13 L94.68,253.58 L95.35,253.20 L96.02,253.02 L96.68,253.03 L97.35,253.25 L98.02,253.65 L98.68,254.22 L99.35,254.95 L100.02,255.79 L100.68,256.73 L101.35,257.74 L102.01,258.79 L102.68,259.85 L103.35,260.91 L104.01,261.94 L104.68,262.94 L105.35,263.88 L106.01,264.75 L106.68,265.56 L107.35,266.29 L108.01,266.95 L108.68,267.53 L109.35,268.04 L110.01,268.48 L110.68,268.86 L111.34,269.19 L112.01,269.46 L112.68,269.69 L113.34,269.88 L114.01,270.04 L114.68,270.16 L115.34,270.27 L116.01,270.36 L116.68,270.43 L117.34,270.48 L118.01,270.53 L118.68,270.57 L119.34,270.60 L120.01,270.63 L120.67,270.65 L121.34,270.67 L122.01,270.69 L122.67,270.71 L123.34,270.72 L124.01,270.74 L124.67,270.75 L125.34,270.76 L126.01,270.77 L126.67,270.78 L127.34,270.79 L128.01,270.80 L128.67,270.80 L129.34,270.81 L130.00,270.82 L130.67,270.83 L131.34,270.83 L132.00,270.84 L132.67,270.84 L133.34,270.85 L134.00,270.85 L134.67,270.86 L135.34,270.86 L136.00,270.87 L136.67,270.87 L137.34,270.88 L138.00,270.88 L138.67,270.88 L139.33,270.89 L140.00,270.89 L140.67,270.89 L141.33,270.90 L142.00,270.90 L142.67,270.90 L143.33,270.90 L144.00,270.91 L144.00,271.00Z" fill="url(#gLiF)"/>
<path d="M21.00,270.56 L21.63,270.19 L22.26,270.33 L22.88,270.30 L23.51,270.61 L24.14,270.57 L24.77,270.70 L25.39,270.21 L26.02,270.41 L26.65,270.17 L27.28,270.28 L27.90,270.45 L28.53,270.16 L29.16,270.26 L29.79,270.53 L30.41,270.46 L31.04,270.26 L31.67,270.48 L32.30,270.61 L32.92,270.12 L33.55,270.59 L34.18,270.52 L34.81,270.30 L35.43,270.18 L36.06,270.65 L36.69,270.27 L37.32,270.11 L37.94,270.10 L38.57,270.53 L39.20,270.37 L39.83,270.47 L40.45,270.41 L41.08,270.27 L41.71,270.50 L42.34,270.12 L42.96,270.19 L43.59,270.32 L44.22,270.16 L44.85,270.26 L45.47,270.05 L46.10,270.07 L46.73,269.62 L47.36,269.67 L47.98,269.65 L48.61,269.45 L49.24,269.47 L49.87,269.31 L50.49,269.34 L51.12,269.47 L51.75,269.21 L52.38,269.12 L53.01,268.92 L53.63,268.85 L54.26,269.15 L54.89,268.87 L55.52,268.74 L56.14,268.36 L56.77,268.58 L57.40,268.13 L58.03,268.15 L58.65,268.41 L59.28,268.09 L59.91,267.94 L60.54,267.92 L61.16,267.93 L61.79,267.80 L62.42,267.40 L63.05,267.22 L63.67,267.33 L64.30,267.26 L64.93,267.19 L65.56,267.60 L66.18,267.55 L66.81,267.22 L67.44,267.43 L68.07,267.30 L68.69,267.64 L69.32,267.41 L69.95,267.35 L70.58,267.40 L71.20,267.65 L71.83,267.54 L72.46,267.81 L73.09,268.07 L73.71,267.84 L74.34,267.81 L74.97,268.34 L75.60,268.10 L76.22,267.90 L76.85,267.91 L77.48,267.97 L78.11,268.28 L78.73,268.35 L79.36,268.07 L79.99,267.77 L80.62,267.83 L81.24,268.03 L81.87,267.53 L82.50,267.52 L83.13,267.11 L83.76,266.21 L84.38,266.17 L85.01,265.61 L85.64,264.91 L86.27,264.07 L86.89,263.55 L87.52,262.42 L88.15,261.75 L88.78,260.85 L89.40,260.20 L90.03,259.18 L90.66,257.84 L91.29,257.02 L91.91,255.90 L92.54,255.47 L93.17,254.65 L93.80,253.62 L94.42,253.27 L95.05,252.83 L95.68,252.31 L96.31,252.60 L96.93,252.56 L97.56,252.98 L98.19,253.26 L98.82,253.52 L99.44,254.43 L100.07,255.06 L100.70,256.50 L101.33,257.42 L101.95,258.38 L102.58,259.07 L103.21,259.92 L103.84,261.39 L104.46,262.38 L105.09,262.77 L105.72,263.86 L106.35,264.41 L106.97,265.55 L107.60,266.21 L108.23,266.43 L108.86,267.16 L109.48,267.68 L110.11,267.91 L110.74,268.63 L111.37,268.66 L111.99,268.79 L112.62,269.21 L113.25,269.51 L113.88,269.34 L114.51,269.54 L115.13,270.05 L115.76,269.93 L116.39,269.88 L117.02,269.99 L117.64,269.80 L118.27,269.90 L118.90,270.00 L119.53,270.19 L120.15,270.00 L120.78,270.01 L121.41,269.94 L122.04,270.30 L122.66,270.07 L123.29,270.49 L123.92,270.48 L124.55,270.01 L125.17,270.13 L125.80,270.40 L126.43,270.13 L127.06,270.09 L127.68,270.58 L128.31,270.37 L128.94,270.32 L129.57,270.51 L130.19,270.54 L130.82,270.17 L131.45,270.12 L132.08,270.33 L132.70,270.33 L133.33,270.36 L133.96,270.52 L134.59,270.49 L135.21,270.69 L135.84,270.16 L136.47,270.35 L137.10,270.31 L137.72,270.63 L138.35,270.26 L138.98,270.23 L139.61,270.39 L140.23,270.38 L140.86,270.30 L141.49,270.28 L142.12,270.69 L142.74,270.40 L143.37,270.66 L144.00,270.47" fill="none" stroke="#a4a9ac" stroke-width="1.1" stroke-linejoin="round"/>
<path d="M21.00,305.30 L21.00,305.28 L21.66,305.27 L22.33,305.27 L22.99,305.27 L23.66,305.27 L24.32,305.27 L24.99,305.27 L25.65,305.27 L26.32,305.27 L26.98,305.27 L27.65,305.27 L28.31,305.27 L28.98,305.26 L29.64,305.26 L30.31,305.26 L30.97,305.26 L31.64,305.26 L32.30,305.26 L32.97,305.25 L33.63,305.25 L34.30,305.25 L34.96,305.25 L35.63,305.24 L36.29,305.24 L36.96,305.23 L37.62,305.23 L38.29,305.22 L38.95,305.21 L39.62,305.21 L40.28,305.20 L40.95,305.19 L41.61,305.18 L42.28,305.16 L42.94,305.15 L43.61,305.13 L44.27,305.11 L44.94,305.09 L45.60,305.07 L46.26,305.04 L46.93,305.01 L47.59,304.98 L48.26,304.95 L48.92,304.91 L49.59,304.87 L50.25,304.82 L50.92,304.77 L51.58,304.72 L52.25,304.67 L52.91,304.61 L53.58,304.55 L54.24,304.48 L54.91,304.42 L55.57,304.35 L56.24,304.27 L56.90,304.20 L57.57,304.12 L58.23,304.05 L58.90,303.97 L59.56,303.90 L60.23,303.82 L60.89,303.75 L61.56,303.68 L62.22,303.61 L62.89,303.55 L63.55,303.49 L64.22,303.44 L64.88,303.40 L65.55,303.36 L66.21,303.33 L66.88,303.31 L67.54,303.30 L68.21,303.30 L68.87,303.31 L69.54,303.32 L70.20,303.35 L70.86,303.38 L71.53,303.42 L72.19,303.47 L72.86,303.53 L73.52,303.59 L74.19,303.65 L74.85,303.72 L75.52,303.79 L76.18,303.87 L76.85,303.94 L77.51,304.02 L78.18,304.10 L78.84,304.17 L79.51,304.25 L80.17,304.32 L80.84,304.39 L81.50,304.46 L82.17,304.52 L82.83,304.59 L83.50,304.65 L84.16,304.70 L84.83,304.76 L85.49,304.81 L86.16,304.85 L86.82,304.89 L87.49,304.93 L88.15,304.97 L88.82,305.00 L89.48,305.03 L90.15,305.06 L90.81,305.08 L91.48,305.10 L92.14,305.12 L92.81,305.14 L93.47,305.16 L94.14,305.17 L94.80,305.18 L95.46,305.19 L96.13,305.20 L96.79,305.21 L97.46,305.22 L98.12,305.22 L98.79,305.23 L99.45,305.24 L100.12,305.24 L100.78,305.24 L101.45,305.25 L102.11,305.25 L102.78,305.25 L103.44,305.26 L104.11,305.26 L104.77,305.26 L105.44,305.26 L106.10,305.26 L106.77,305.26 L107.43,305.27 L108.10,305.27 L108.76,305.27 L109.43,305.27 L110.09,305.27 L110.76,305.27 L111.42,305.27 L112.09,305.27 L112.75,305.27 L113.42,305.27 L114.08,305.27 L114.75,305.28 L115.41,305.28 L116.08,305.28 L116.74,305.28 L117.41,305.28 L118.07,305.28 L118.74,305.28 L119.40,305.28 L120.06,305.28 L120.73,305.28 L121.39,305.28 L122.06,305.28 L122.72,305.28 L123.39,305.28 L124.05,305.28 L124.72,305.28 L125.38,305.28 L126.05,305.28 L126.71,305.28 L127.38,305.28 L128.04,305.28 L128.71,305.28 L129.37,305.29 L130.04,305.29 L130.70,305.29 L131.37,305.29 L132.03,305.29 L132.70,305.29 L133.36,305.29 L134.03,305.29 L134.69,305.29 L135.36,305.29 L136.02,305.29 L136.69,305.29 L137.35,305.29 L138.02,305.29 L138.68,305.29 L139.35,305.29 L140.01,305.29 L140.68,305.29 L141.34,305.29 L142.01,305.29 L142.67,305.29 L143.34,305.29 L144.00,305.29 L144.00,305.30Z" fill="url(#gSF)"/>
<path d="M50.30,305.30 L50.30,305.20 L50.96,305.20 L51.63,305.19 L52.29,305.19 L52.95,305.19 L53.62,305.18 L54.28,305.18 L54.95,305.18 L55.61,305.17 L56.27,305.17 L56.94,305.16 L57.60,305.16 L58.26,305.15 L58.93,305.15 L59.59,305.14 L60.26,305.14 L60.92,305.13 L61.58,305.12 L62.25,305.12 L62.91,305.11 L63.57,305.10 L64.24,305.09 L64.90,305.09 L65.57,305.08 L66.23,305.07 L66.89,305.06 L67.56,305.04 L68.22,305.03 L68.88,305.02 L69.55,305.01 L70.21,304.99 L70.87,304.97 L71.54,304.95 L72.20,304.93 L72.87,304.91 L73.53,304.88 L74.19,304.84 L74.86,304.80 L75.52,304.75 L76.18,304.69 L76.85,304.61 L77.51,304.51 L78.18,304.39 L78.84,304.24 L79.50,304.06 L80.17,303.83 L80.83,303.54 L81.49,303.20 L82.16,302.78 L82.82,302.28 L83.49,301.69 L84.15,301.00 L84.81,300.21 L85.48,299.31 L86.14,298.31 L86.80,297.21 L87.47,296.01 L88.13,294.74 L88.79,293.41 L89.46,292.04 L90.12,290.68 L90.79,289.34 L91.45,288.08 L92.11,286.94 L92.78,285.95 L93.44,285.17 L94.10,284.62 L94.77,284.34 L95.43,284.34 L96.10,284.62 L96.76,285.17 L97.42,285.95 L98.09,286.94 L98.75,288.08 L99.41,289.34 L100.08,290.68 L100.74,292.04 L101.41,293.41 L102.07,294.74 L102.73,296.01 L103.40,297.21 L104.06,298.31 L104.72,299.31 L105.39,300.21 L106.05,301.00 L106.71,301.69 L107.38,302.28 L108.04,302.78 L108.71,303.20 L109.37,303.54 L110.03,303.83 L110.70,304.06 L111.36,304.24 L112.02,304.39 L112.69,304.51 L113.35,304.61 L114.02,304.69 L114.68,304.75 L115.34,304.80 L116.01,304.84 L116.67,304.88 L117.33,304.91 L118.00,304.93 L118.66,304.95 L119.33,304.97 L119.99,304.99 L120.65,305.01 L121.32,305.02 L121.98,305.03 L122.64,305.04 L123.31,305.06 L123.97,305.07 L124.63,305.08 L125.30,305.09 L125.96,305.09 L126.63,305.10 L127.29,305.11 L127.95,305.12 L128.62,305.12 L129.28,305.13 L129.94,305.14 L130.61,305.14 L131.27,305.15 L131.94,305.15 L132.60,305.16 L133.26,305.16 L133.93,305.17 L134.59,305.17 L135.25,305.18 L135.92,305.18 L136.58,305.18 L137.25,305.19 L137.91,305.19 L138.57,305.19 L139.24,305.20 L139.90,305.20 L139.90,305.30Z" fill="url(#gLiF)"/>
<path d="M21.00,304.51 L21.63,304.90 L22.26,304.57 L22.88,304.76 L23.51,304.89 L24.14,304.96 L24.77,304.75 L25.39,304.78 L26.02,304.49 L26.65,304.73 L27.28,304.70 L27.90,304.98 L28.53,304.80 L29.16,304.92 L29.79,304.73 L30.41,304.57 L31.04,304.97 L31.67,304.95 L32.30,304.68 L32.92,304.51 L33.55,304.76 L34.18,304.74 L34.81,304.90 L35.43,304.79 L36.06,304.73 L36.69,304.77 L37.32,304.65 L37.94,304.44 L38.57,304.44 L39.20,304.96 L39.83,304.89 L40.45,304.55 L41.08,304.90 L41.71,304.67 L42.34,304.40 L42.96,304.84 L43.59,304.66 L44.22,304.85 L44.85,304.67 L45.47,304.30 L46.10,304.59 L46.73,304.66 L47.36,304.69 L47.98,304.32 L48.61,304.40 L49.24,304.46 L49.87,304.10 L50.49,304.46 L51.12,304.37 L51.75,303.88 L52.38,304.15 L53.01,303.96 L53.63,303.79 L54.26,303.97 L54.89,304.13 L55.52,303.81 L56.14,303.47 L56.77,303.63 L57.40,303.72 L58.03,303.75 L58.65,303.53 L59.28,303.05 L59.91,303.53 L60.54,303.23 L61.16,302.85 L61.79,302.80 L62.42,302.71 L63.05,302.99 L63.67,302.63 L64.30,302.96 L64.93,302.50 L65.56,302.71 L66.18,302.62 L66.81,302.34 L67.44,302.30 L68.07,302.83 L68.69,302.86 L69.32,302.35 L69.95,302.73 L70.58,302.89 L71.20,302.86 L71.83,302.87 L72.46,302.57 L73.09,302.83 L73.71,302.72 L74.34,303.01 L74.97,302.90 L75.60,303.00 L76.22,303.02 L76.85,302.74 L77.48,302.91 L78.11,302.50 L78.73,302.50 L79.36,302.84 L79.99,302.38 L80.62,302.37 L81.24,302.06 L81.87,301.57 L82.50,301.39 L83.13,301.13 L83.76,300.24 L84.38,299.61 L85.01,298.79 L85.64,297.95 L86.27,297.42 L86.89,296.32 L87.52,295.38 L88.15,294.03 L88.78,292.97 L89.40,291.27 L90.03,289.98 L90.66,288.75 L91.29,287.67 L91.91,286.93 L92.54,285.50 L93.17,284.84 L93.80,283.99 L94.42,283.59 L95.05,283.77 L95.68,283.92 L96.31,284.23 L96.93,285.06 L97.56,285.83 L98.19,286.85 L98.82,287.73 L99.44,288.75 L100.07,289.93 L100.70,291.61 L101.33,292.54 L101.95,293.72 L102.58,295.35 L103.21,296.16 L103.84,297.53 L104.46,298.26 L105.09,299.29 L105.72,299.84 L106.35,300.76 L106.97,301.34 L107.60,301.83 L108.23,302.20 L108.86,302.84 L109.48,303.23 L110.11,303.20 L110.74,303.32 L111.37,303.63 L111.99,304.03 L112.62,303.89 L113.25,304.21 L113.88,303.94 L114.51,304.38 L115.13,304.10 L115.76,304.19 L116.39,304.53 L117.02,304.40 L117.64,304.53 L118.27,304.34 L118.90,304.59 L119.53,304.39 L120.15,304.51 L120.78,304.50 L121.41,304.80 L122.04,304.72 L122.66,304.61 L123.29,304.80 L123.92,304.66 L124.55,304.74 L125.17,304.63 L125.80,304.67 L126.43,304.46 L127.06,304.90 L127.68,304.73 L128.31,304.85 L128.94,304.73 L129.57,304.38 L130.19,304.44 L130.82,304.91 L131.45,304.81 L132.08,304.93 L132.70,304.93 L133.33,304.54 L133.96,305.00 L134.59,304.78 L135.21,304.85 L135.84,304.73 L136.47,304.57 L137.10,304.72 L137.72,304.71 L138.35,304.61 L138.98,304.64 L139.61,304.70 L140.23,304.60 L140.86,304.53 L141.49,304.93 L142.12,304.66 L142.74,304.67 L143.37,304.92 L144.00,304.87" fill="none" stroke="#a4a9ac" stroke-width="1.1" stroke-linejoin="round"/>
<path d="M170.10,229.70 L170.10,229.68 L170.76,229.68 L171.43,229.68 L172.09,229.68 L172.75,229.67 L173.42,229.67 L174.08,229.67 L174.74,229.67 L175.41,229.67 L176.07,229.67 L176.73,229.66 L177.40,229.66 L178.06,229.66 L178.72,229.65 L179.39,229.65 L180.05,229.65 L180.71,229.64 L181.38,229.64 L182.04,229.63 L182.70,229.62 L183.37,229.62 L184.03,229.61 L184.69,229.60 L185.36,229.59 L186.02,229.58 L186.68,229.57 L187.35,229.56 L188.01,229.54 L188.67,229.53 L189.34,229.51 L190.00,229.50 L190.66,229.48 L191.33,229.46 L191.99,229.44 L192.65,229.42 L193.32,229.40 L193.98,229.37 L194.64,229.35 L195.31,229.32 L195.97,229.29 L196.63,229.26 L197.30,229.23 L197.96,229.20 L198.62,229.17 L199.29,229.14 L199.95,229.11 L200.61,229.07 L201.28,229.04 L201.94,229.01 L202.60,228.98 L203.27,228.95 L203.93,228.91 L204.59,228.88 L205.26,228.86 L205.92,228.83 L206.58,228.80 L207.25,228.78 L207.91,228.76 L208.57,228.74 L209.24,228.73 L209.90,228.72 L210.56,228.71 L211.23,228.70 L211.89,228.70 L212.55,228.70 L213.22,228.71 L213.88,228.71 L214.54,228.72 L215.21,228.74 L215.87,228.76 L216.53,228.78 L217.20,228.80 L217.86,228.82 L218.52,228.85 L219.19,228.88 L219.85,228.90 L220.51,228.93 L221.18,228.97 L221.84,229.00 L222.50,229.03 L223.17,229.06 L223.83,229.10 L224.49,229.13 L225.16,229.16 L225.82,229.19 L226.48,229.22 L227.15,229.25 L227.81,229.28 L228.47,229.31 L229.14,229.34 L229.80,229.36 L230.46,229.39 L231.13,229.41 L231.79,229.43 L232.45,229.45 L233.12,229.47 L233.78,229.49 L234.45,229.51 L235.11,229.53 L235.77,229.54 L236.44,229.55 L237.10,229.57 L237.76,229.58 L238.43,229.59 L239.09,229.60 L239.75,229.61 L240.42,229.61 L241.08,229.62 L241.74,229.63 L242.41,229.63 L243.07,229.64 L243.73,229.64 L244.40,229.65 L245.06,229.65 L245.72,229.66 L246.39,229.66 L247.05,229.66 L247.71,229.66 L248.38,229.67 L249.04,229.67 L249.70,229.67 L250.37,229.67 L251.03,229.67 L251.69,229.67 L252.36,229.68 L253.02,229.68 L253.68,229.68 L254.35,229.68 L255.01,229.68 L255.67,229.68 L256.34,229.68 L257.00,229.68 L257.66,229.68 L258.33,229.68 L258.99,229.68 L259.65,229.68 L260.32,229.68 L260.98,229.68 L261.64,229.69 L262.31,229.69 L262.97,229.69 L263.63,229.69 L264.30,229.69 L264.96,229.69 L265.62,229.69 L266.29,229.69 L266.95,229.69 L267.61,229.69 L268.28,229.69 L268.94,229.69 L269.60,229.69 L270.27,229.69 L270.93,229.69 L271.59,229.69 L272.26,229.69 L272.92,229.69 L273.58,229.69 L274.25,229.69 L274.91,229.69 L275.57,229.69 L276.24,229.69 L276.90,229.69 L277.56,229.69 L278.23,229.69 L278.89,229.69 L279.55,229.69 L280.22,229.69 L280.88,229.69 L281.54,229.69 L282.21,229.69 L282.87,229.69 L283.53,229.69 L284.20,229.69 L284.86,229.69 L285.52,229.69 L286.19,229.69 L286.85,229.69 L287.51,229.69 L288.18,229.69 L288.84,229.69 L289.50,229.69 L290.17,229.69 L290.83,229.69 L291.49,229.69 L292.16,229.69 L292.82,229.69 L293.48,229.69 L294.15,229.69 L294.81,229.69 L295.47,229.69 L296.14,229.69 L296.80,229.69 L296.80,229.70Z" fill="url(#gSF)"/>
<path d="M198.44,229.70 L198.44,229.62 L199.11,229.62 L199.77,229.62 L200.44,229.62 L201.10,229.61 L201.77,229.61 L202.44,229.61 L203.10,229.61 L203.77,229.60 L204.44,229.60 L205.10,229.60 L205.77,229.59 L206.43,229.59 L207.10,229.59 L207.77,229.58 L208.43,229.58 L209.10,229.57 L209.76,229.57 L210.43,229.57 L211.10,229.56 L211.76,229.56 L212.43,229.55 L213.09,229.54 L213.76,229.54 L214.43,229.53 L215.09,229.53 L215.76,229.52 L216.43,229.51 L217.09,229.50 L217.76,229.49 L218.42,229.49 L219.09,229.48 L219.76,229.47 L220.42,229.45 L221.09,229.44 L221.75,229.43 L222.42,229.41 L223.09,229.39 L223.75,229.37 L224.42,229.35 L225.08,229.32 L225.75,229.28 L226.42,229.24 L227.08,229.19 L227.75,229.13 L228.42,229.06 L229.08,228.97 L229.75,228.85 L230.41,228.72 L231.08,228.55 L231.75,228.35 L232.41,228.10 L233.08,227.82 L233.74,227.48 L234.41,227.08 L235.08,226.62 L235.74,226.09 L236.41,225.49 L237.08,224.83 L237.74,224.09 L238.41,223.29 L239.07,222.43 L239.74,221.51 L240.41,220.56 L241.07,219.59 L241.74,218.61 L242.40,217.64 L243.07,216.71 L243.74,215.84 L244.40,215.06 L245.07,214.40 L245.73,213.87 L246.40,213.51 L247.07,213.32 L247.73,213.32 L248.40,213.51 L249.07,213.87 L249.73,214.40 L250.40,215.06 L251.06,215.84 L251.73,216.71 L252.40,217.64 L253.06,218.61 L253.73,219.59 L254.39,220.56 L255.06,221.51 L255.73,222.43 L256.39,223.29 L257.06,224.09 L257.72,224.83 L258.39,225.49 L259.06,226.09 L259.72,226.62 L260.39,227.08 L261.06,227.48 L261.72,227.82 L262.39,228.10 L263.05,228.35 L263.72,228.55 L264.39,228.72 L265.05,228.85 L265.72,228.97 L266.38,229.06 L267.05,229.13 L267.72,229.19 L268.38,229.24 L269.05,229.28 L269.72,229.32 L270.38,229.35 L271.05,229.37 L271.71,229.39 L272.38,229.41 L273.05,229.43 L273.71,229.44 L274.38,229.45 L275.04,229.47 L275.71,229.48 L276.38,229.49 L277.04,229.49 L277.71,229.50 L278.37,229.51 L279.04,229.52 L279.71,229.53 L280.37,229.53 L281.04,229.54 L281.71,229.54 L282.37,229.55 L283.04,229.56 L283.70,229.56 L284.37,229.57 L285.04,229.57 L285.70,229.57 L286.37,229.58 L287.03,229.58 L287.70,229.59 L288.37,229.59 L289.03,229.59 L289.70,229.60 L290.36,229.60 L291.03,229.60 L291.70,229.61 L292.36,229.61 L293.03,229.61 L293.70,229.61 L294.36,229.62 L295.03,229.62 L295.69,229.62 L296.36,229.62 L296.36,229.70Z" fill="url(#gLiF)"/>
<path d="M170.10,229.04 L170.73,229.20 L171.35,228.99 L171.98,229.38 L172.61,229.03 L173.24,229.22 L173.86,229.44 L174.49,229.12 L175.12,229.46 L175.75,229.32 L176.37,229.21 L177.00,229.25 L177.63,229.22 L178.25,229.08 L178.88,229.46 L179.51,229.10 L180.14,229.44 L180.76,229.36 L181.39,228.86 L182.02,228.99 L182.64,229.12 L183.27,229.31 L183.90,228.92 L184.53,229.17 L185.15,229.02 L185.78,229.26 L186.41,229.33 L187.04,229.22 L187.66,228.86 L188.29,229.19 L188.92,228.98 L189.54,229.21 L190.17,228.97 L190.80,229.21 L191.43,229.24 L192.05,229.12 L192.68,229.10 L193.31,229.07 L193.93,228.91 L194.56,228.64 L195.19,229.10 L195.82,228.76 L196.44,228.46 L197.07,228.68 L197.70,228.64 L198.33,228.48 L198.95,228.90 L199.58,228.36 L200.21,228.80 L200.83,228.56 L201.46,228.30 L202.09,228.38 L202.72,228.40 L203.34,228.17 L203.97,228.52 L204.60,228.42 L205.22,228.59 L205.85,228.47 L206.48,228.42 L207.11,228.52 L207.73,228.46 L208.36,228.26 L208.99,228.18 L209.62,228.16 L210.24,228.32 L210.87,228.37 L211.50,228.31 L212.12,228.31 L212.75,227.82 L213.38,228.05 L214.01,227.85 L214.63,228.16 L215.26,228.16 L215.89,228.16 L216.51,228.35 L217.14,227.98 L217.77,228.30 L218.40,228.23 L219.02,228.02 L219.65,228.50 L220.28,227.96 L220.91,228.23 L221.53,228.29 L222.16,228.34 L222.79,228.58 L223.41,228.34 L224.04,228.55 L224.67,228.20 L225.30,228.31 L225.92,228.11 L226.55,228.39 L227.18,228.24 L227.80,228.43 L228.43,227.98 L229.06,228.13 L229.69,228.35 L230.31,227.68 L230.94,227.94 L231.57,227.79 L232.20,227.62 L232.82,227.28 L233.45,226.97 L234.08,226.91 L234.70,226.12 L235.33,225.92 L235.96,225.40 L236.59,224.87 L237.21,224.08 L237.84,223.11 L238.47,222.82 L239.10,221.71 L239.72,221.16 L240.35,220.40 L240.98,219.36 L241.60,218.22 L242.23,217.58 L242.86,216.42 L243.49,215.54 L244.11,214.93 L244.74,214.30 L245.37,213.76 L245.99,213.25 L246.62,212.88 L247.25,212.96 L247.88,212.76 L248.50,213.14 L249.13,213.14 L249.76,213.72 L250.39,214.79 L251.01,215.13 L251.64,216.06 L252.27,216.71 L252.89,218.05 L253.52,218.71 L254.15,219.46 L254.78,220.51 L255.40,221.78 L256.03,222.51 L256.66,222.85 L257.28,224.15 L257.91,224.30 L258.54,225.15 L259.17,225.73 L259.79,226.37 L260.42,226.42 L261.05,227.20 L261.68,227.19 L262.30,227.75 L262.93,228.10 L263.56,228.09 L264.18,227.91 L264.81,228.44 L265.44,228.42 L266.07,228.69 L266.69,228.80 L267.32,228.46 L267.95,228.79 L268.57,228.88 L269.20,229.09 L269.83,228.93 L270.46,228.96 L271.08,229.07 L271.71,228.73 L272.34,229.17 L272.97,229.01 L273.59,229.06 L274.22,228.78 L274.85,229.02 L275.47,228.96 L276.10,228.85 L276.73,229.30 L277.36,229.25 L277.98,229.02 L278.61,228.80 L279.24,229.35 L279.86,228.84 L280.49,229.08 L281.12,229.12 L281.75,229.30 L282.37,229.19 L283.00,229.16 L283.63,229.11 L284.26,229.39 L284.88,229.30 L285.51,229.03 L286.14,229.30 L286.76,229.39 L287.39,229.12 L288.02,228.88 L288.65,228.87 L289.27,229.42 L289.90,228.97 L290.53,229.33 L291.15,228.96 L291.78,228.98 L292.41,228.95 L293.04,229.34 L293.66,228.91 L294.29,229.14 L294.92,229.35 L295.55,229.18 L296.17,228.87 L296.80,228.88" fill="none" stroke="#a4a9ac" stroke-width="1.1" stroke-linejoin="round"/>
<path d="M198.44,269.00 L198.44,268.91 L199.11,268.91 L199.77,268.90 L200.44,268.90 L201.10,268.90 L201.77,268.90 L202.44,268.89 L203.10,268.89 L203.77,268.89 L204.44,268.88 L205.10,268.88 L205.77,268.88 L206.43,268.87 L207.10,268.87 L207.77,268.86 L208.43,268.86 L209.10,268.85 L209.76,268.85 L210.43,268.84 L211.10,268.84 L211.76,268.83 L212.43,268.83 L213.09,268.82 L213.76,268.81 L214.43,268.81 L215.09,268.80 L215.76,268.79 L216.43,268.78 L217.09,268.77 L217.76,268.76 L218.42,268.75 L219.09,268.74 L219.76,268.73 L220.42,268.71 L221.09,268.70 L221.75,268.68 L222.42,268.66 L223.09,268.64 L223.75,268.62 L224.42,268.59 L225.08,268.56 L225.75,268.52 L226.42,268.47 L227.08,268.41 L227.75,268.34 L228.42,268.26 L229.08,268.15 L229.75,268.02 L230.41,267.86 L231.08,267.67 L231.75,267.43 L232.41,267.15 L233.08,266.82 L233.74,266.42 L234.41,265.96 L235.08,265.43 L235.74,264.82 L236.41,264.13 L237.08,263.35 L237.74,262.50 L238.41,261.57 L239.07,260.57 L239.74,259.52 L240.41,258.41 L241.07,257.28 L241.74,256.15 L242.40,255.03 L243.07,253.95 L243.74,252.94 L244.40,252.04 L245.07,251.27 L245.73,250.66 L246.40,250.24 L247.07,250.03 L247.73,250.03 L248.40,250.24 L249.07,250.66 L249.73,251.27 L250.40,252.04 L251.06,252.94 L251.73,253.95 L252.40,255.03 L253.06,256.15 L253.73,257.28 L254.39,258.41 L255.06,259.52 L255.73,260.57 L256.39,261.57 L257.06,262.50 L257.72,263.35 L258.39,264.13 L259.06,264.82 L259.72,265.43 L260.39,265.96 L261.06,266.42 L261.72,266.82 L262.39,267.15 L263.05,267.43 L263.72,267.67 L264.39,267.86 L265.05,268.02 L265.72,268.15 L266.38,268.26 L267.05,268.34 L267.72,268.41 L268.38,268.47 L269.05,268.52 L269.72,268.56 L270.38,268.59 L271.05,268.62 L271.71,268.64 L272.38,268.66 L273.05,268.68 L273.71,268.70 L274.38,268.71 L275.04,268.73 L275.71,268.74 L276.38,268.75 L277.04,268.76 L277.71,268.77 L278.37,268.78 L279.04,268.79 L279.71,268.80 L280.37,268.81 L281.04,268.81 L281.71,268.82 L282.37,268.83 L283.04,268.83 L283.70,268.84 L284.37,268.84 L285.04,268.85 L285.70,268.85 L286.37,268.86 L287.03,268.86 L287.70,268.87 L288.37,268.87 L289.03,268.88 L289.70,268.88 L290.36,268.88 L291.03,268.89 L291.70,268.89 L292.36,268.89 L293.03,268.90 L293.70,268.90 L294.36,268.90 L295.03,268.90 L295.69,268.91 L296.36,268.91 L296.36,269.00Z" fill="url(#gLiF)"/>
<path d="M170.10,268.80 L170.73,268.25 L171.35,268.65 L171.98,268.50 L172.61,268.78 L173.24,268.45 L173.86,268.76 L174.49,268.30 L175.12,268.80 L175.75,268.45 L176.37,268.32 L177.00,268.41 L177.63,268.58 L178.25,268.22 L178.88,268.44 L179.51,268.21 L180.14,268.24 L180.76,268.30 L181.39,268.34 L182.02,268.36 L182.64,268.66 L183.27,268.45 L183.90,268.71 L184.53,268.73 L185.15,268.73 L185.78,268.76 L186.41,268.54 L187.04,268.59 L187.66,268.72 L188.29,268.51 L188.92,268.27 L189.54,268.50 L190.17,268.50 L190.80,268.29 L191.43,268.24 L192.05,268.29 L192.68,268.60 L193.31,268.66 L193.93,268.57 L194.56,268.43 L195.19,268.19 L195.82,268.17 L196.44,268.56 L197.07,268.48 L197.70,268.44 L198.33,268.26 L198.95,268.23 L199.58,268.26 L200.21,268.23 L200.83,268.51 L201.46,268.33 L202.09,268.48 L202.72,268.40 L203.34,268.47 L203.97,268.58 L204.60,268.60 L205.22,268.22 L205.85,268.70 L206.48,268.63 L207.11,268.61 L207.73,268.39 L208.36,268.68 L208.99,268.59 L209.62,268.24 L210.24,268.51 L210.87,268.60 L211.50,268.54 L212.12,268.62 L212.75,268.39 L213.38,268.47 L214.01,268.11 L214.63,268.45 L215.26,268.13 L215.89,268.47 L216.51,268.57 L217.14,268.24 L217.77,268.05 L218.40,268.03 L219.02,268.30 L219.65,268.07 L220.28,268.41 L220.91,268.32 L221.53,268.24 L222.16,268.32 L222.79,267.99 L223.41,268.16 L224.04,267.89 L224.67,268.16 L225.30,268.27 L225.92,267.85 L226.55,268.12 L227.18,268.25 L227.80,267.78 L228.43,267.63 L229.06,267.56 L229.69,267.78 L230.31,267.18 L230.94,267.43 L231.57,266.91 L232.20,266.95 L232.82,266.73 L233.45,266.36 L234.08,265.57 L234.70,265.31 L235.33,264.64 L235.96,264.38 L236.59,263.35 L237.21,262.53 L237.84,261.86 L238.47,260.79 L239.10,259.92 L239.72,259.22 L240.35,257.96 L240.98,256.81 L241.60,256.19 L242.23,254.72 L242.86,254.01 L243.49,252.97 L244.11,252.00 L244.74,251.27 L245.37,250.58 L245.99,250.23 L246.62,249.81 L247.25,249.42 L247.88,249.70 L248.50,249.85 L249.13,250.52 L249.76,250.62 L250.39,251.55 L251.01,252.70 L251.64,253.10 L252.27,254.50 L252.89,255.65 L253.52,256.55 L254.15,257.28 L254.78,258.77 L255.40,259.47 L256.03,260.60 L256.66,261.69 L257.28,262.24 L257.91,262.97 L258.54,263.61 L259.17,264.38 L259.79,264.80 L260.42,265.65 L261.05,266.17 L261.68,266.08 L262.30,266.68 L262.93,267.11 L263.56,267.33 L264.18,267.21 L264.81,267.53 L265.44,267.76 L266.07,267.77 L266.69,268.15 L267.32,268.17 L267.95,268.26 L268.57,267.81 L269.20,267.79 L269.83,268.17 L270.46,268.19 L271.08,268.03 L271.71,268.04 L272.34,268.39 L272.97,268.41 L273.59,267.95 L274.22,268.03 L274.85,268.41 L275.47,268.24 L276.10,268.09 L276.73,268.58 L277.36,268.21 L277.98,268.07 L278.61,268.28 L279.24,268.29 L279.86,268.44 L280.49,268.52 L281.12,268.11 L281.75,268.35 L282.37,268.62 L283.00,268.37 L283.63,268.62 L284.26,268.63 L284.88,268.58 L285.51,268.49 L286.14,268.17 L286.76,268.70 L287.39,268.30 L288.02,268.30 L288.65,268.43 L289.27,268.45 L289.90,268.59 L290.53,268.46 L291.15,268.69 L291.78,268.61 L292.41,268.53 L293.04,268.31 L293.66,268.53 L294.29,268.45 L294.92,268.61 L295.55,268.32 L296.17,268.63 L296.80,268.59" fill="none" stroke="#a4a9ac" stroke-width="1.1" stroke-linejoin="round"/>
<path d="M200.04,305.20 L200.04,305.09 L200.70,305.08 L201.36,305.08 L202.03,305.08 L202.69,305.07 L203.35,305.07 L204.01,305.06 L204.68,305.06 L205.34,305.06 L206.00,305.05 L206.66,305.05 L207.33,305.04 L207.99,305.04 L208.65,305.03 L209.31,305.03 L209.98,305.02 L210.64,305.01 L211.30,305.01 L211.96,305.00 L212.63,304.99 L213.29,304.98 L213.95,304.98 L214.61,304.97 L215.27,304.96 L215.94,304.95 L216.60,304.94 L217.26,304.93 L217.92,304.92 L218.59,304.90 L219.25,304.89 L219.91,304.87 L220.57,304.86 L221.24,304.84 L221.90,304.82 L222.56,304.80 L223.22,304.78 L223.89,304.75 L224.55,304.72 L225.21,304.68 L225.87,304.64 L226.54,304.59 L227.20,304.52 L227.86,304.45 L228.52,304.35 L229.18,304.23 L229.85,304.09 L230.51,303.91 L231.17,303.69 L231.83,303.42 L232.50,303.10 L233.16,302.71 L233.82,302.24 L234.48,301.69 L235.15,301.05 L235.81,300.31 L236.47,299.46 L237.13,298.50 L237.80,297.44 L238.46,296.27 L239.12,295.01 L239.78,293.66 L240.45,292.24 L241.11,290.78 L241.77,289.31 L242.43,287.84 L243.09,286.43 L243.76,285.11 L244.42,283.91 L245.08,282.89 L245.74,282.08 L246.41,281.52 L247.07,281.24 L247.73,281.24 L248.39,281.52 L249.06,282.08 L249.72,282.89 L250.38,283.91 L251.04,285.11 L251.71,286.43 L252.37,287.84 L253.03,289.31 L253.69,290.78 L254.35,292.24 L255.02,293.66 L255.68,295.01 L256.34,296.27 L257.00,297.44 L257.67,298.50 L258.33,299.46 L258.99,300.31 L259.65,301.05 L260.32,301.69 L260.98,302.24 L261.64,302.71 L262.30,303.10 L262.97,303.42 L263.63,303.69 L264.29,303.91 L264.95,304.09 L265.62,304.23 L266.28,304.35 L266.94,304.45 L267.60,304.52 L268.26,304.59 L268.93,304.64 L269.59,304.68 L270.25,304.72 L270.91,304.75 L271.58,304.78 L272.24,304.80 L272.90,304.82 L273.56,304.84 L274.23,304.86 L274.89,304.87 L275.55,304.89 L276.21,304.90 L276.88,304.92 L277.54,304.93 L278.20,304.94 L278.86,304.95 L279.53,304.96 L280.19,304.97 L280.85,304.98 L281.51,304.98 L282.17,304.99 L282.84,305.00 L283.50,305.01 L284.16,305.01 L284.82,305.02 L285.49,305.03 L286.15,305.03 L286.81,305.04 L287.47,305.04 L288.14,305.05 L288.80,305.05 L289.46,305.06 L290.12,305.06 L290.79,305.06 L291.45,305.07 L292.11,305.07 L292.77,305.08 L293.44,305.08 L294.10,305.08 L294.76,305.09 L294.76,305.20Z" fill="url(#gLiF)"/>
<path d="M170.10,304.78 L170.73,304.94 L171.35,304.68 L171.98,304.83 L172.61,304.97 L173.24,304.72 L173.86,304.84 L174.49,304.84 L175.12,304.92 L175.75,304.42 L176.37,304.50 L177.00,305.00 L177.63,304.84 L178.25,304.55 L178.88,304.84 L179.51,304.50 L180.14,304.61 L180.76,304.66 L181.39,304.53 L182.02,304.47 L182.64,304.69 L183.27,304.78 L183.90,304.58 L184.53,304.78 L185.15,304.97 L185.78,304.41 L186.41,304.55 L187.04,304.43 L187.66,304.78 L188.29,304.62 L188.92,304.64 L189.54,304.52 L190.17,304.84 L190.80,304.82 L191.43,304.64 L192.05,304.86 L192.68,304.50 L193.31,304.57 L193.93,304.93 L194.56,304.49 L195.19,304.44 L195.82,304.37 L196.44,304.75 L197.07,304.84 L197.70,304.38 L198.33,304.63 L198.95,304.58 L199.58,304.53 L200.21,304.48 L200.83,304.56 L201.46,304.41 L202.09,304.88 L202.72,304.44 L203.34,304.64 L203.97,304.70 L204.60,304.71 L205.22,304.59 L205.85,304.62 L206.48,304.86 L207.11,304.40 L207.73,304.41 L208.36,304.46 L208.99,304.72 L209.62,304.53 L210.24,304.50 L210.87,304.31 L211.50,304.33 L212.12,304.64 L212.75,304.38 L213.38,304.51 L214.01,304.37 L214.63,304.40 L215.26,304.32 L215.89,304.74 L216.51,304.56 L217.14,304.47 L217.77,304.31 L218.40,304.66 L219.02,304.48 L219.65,304.21 L220.28,304.22 L220.91,304.67 L221.53,304.28 L222.16,304.31 L222.79,304.10 L223.41,304.54 L224.04,304.14 L224.67,304.30 L225.30,304.36 L225.92,304.21 L226.55,304.06 L227.18,303.93 L227.80,304.12 L228.43,303.77 L229.06,303.88 L229.69,303.95 L230.31,303.77 L230.94,303.42 L231.57,303.14 L232.20,302.60 L232.82,302.65 L233.45,302.31 L234.08,301.50 L234.70,300.77 L235.33,300.42 L235.96,299.63 L236.59,299.06 L237.21,298.08 L237.84,296.87 L238.47,295.82 L239.10,294.59 L239.72,293.43 L240.35,292.08 L240.98,290.72 L241.60,289.06 L242.23,288.02 L242.86,286.21 L243.49,285.04 L244.11,284.03 L244.74,282.66 L245.37,282.13 L245.99,281.28 L246.62,280.85 L247.25,280.51 L247.88,280.75 L248.50,281.19 L249.13,281.44 L249.76,282.70 L250.39,283.76 L251.01,284.61 L251.64,285.87 L252.27,287.36 L252.89,288.64 L253.52,290.05 L254.15,291.33 L254.78,292.71 L255.40,293.92 L256.03,295.00 L256.66,296.56 L257.28,297.55 L257.91,298.12 L258.54,299.45 L259.17,300.35 L259.79,300.69 L260.42,301.58 L261.05,301.67 L261.68,302.36 L262.30,302.83 L262.93,302.90 L263.56,303.09 L264.18,303.21 L264.81,303.63 L265.44,303.63 L266.07,303.85 L266.69,304.03 L267.32,303.88 L267.95,304.05 L268.57,303.89 L269.20,304.31 L269.83,304.39 L270.46,304.16 L271.08,304.13 L271.71,304.41 L272.34,304.33 L272.97,304.56 L273.59,304.54 L274.22,304.38 L274.85,304.38 L275.47,304.49 L276.10,304.51 L276.73,304.45 L277.36,304.50 L277.98,304.41 L278.61,304.61 L279.24,304.50 L279.86,304.29 L280.49,304.60 L281.12,304.42 L281.75,304.44 L282.37,304.59 L283.00,304.77 L283.63,304.50 L284.26,304.51 L284.88,304.65 L285.51,304.79 L286.14,304.76 L286.76,304.88 L287.39,304.33 L288.02,304.61 L288.65,304.52 L289.27,304.52 L289.90,304.50 L290.53,304.67 L291.15,304.77 L291.78,304.71 L292.41,304.37 L293.04,304.61 L293.66,304.83 L294.29,304.57 L294.92,304.50 L295.55,304.55 L296.17,304.71 L296.80,304.53" fill="none" stroke="#a4a9ac" stroke-width="1.1" stroke-linejoin="round"/>
<path d="M326.00,228.60 L326.00,228.59 L326.66,228.59 L327.33,228.59 L327.99,228.58 L328.66,228.58 L329.32,228.58 L329.98,228.58 L330.65,228.58 L331.31,228.58 L331.98,228.58 L332.64,228.58 L333.30,228.58 L333.97,228.58 L334.63,228.58 L335.30,228.57 L335.96,228.57 L336.62,228.57 L337.29,228.57 L337.95,228.57 L338.62,228.56 L339.28,228.56 L339.94,228.56 L340.61,228.55 L341.27,228.55 L341.94,228.55 L342.60,228.54 L343.26,228.53 L343.93,228.53 L344.59,228.52 L345.26,228.51 L345.92,228.51 L346.58,228.50 L347.25,228.49 L347.91,228.48 L348.58,228.47 L349.24,228.45 L349.90,228.44 L350.57,228.43 L351.23,228.41 L351.90,228.39 L352.56,228.38 L353.22,228.36 L353.89,228.34 L354.55,228.32 L355.22,228.30 L355.88,228.28 L356.54,228.25 L357.21,228.23 L357.87,228.20 L358.54,228.18 L359.20,228.15 L359.87,228.13 L360.53,228.10 L361.19,228.08 L361.86,228.05 L362.52,228.02 L363.19,228.00 L363.85,227.97 L364.51,227.95 L365.18,227.93 L365.84,227.91 L366.51,227.89 L367.17,227.87 L367.83,227.85 L368.50,227.84 L369.16,227.82 L369.83,227.81 L370.49,227.81 L371.15,227.80 L371.82,227.80 L372.48,227.80 L373.15,227.80 L373.81,227.81 L374.47,227.82 L375.14,227.83 L375.80,227.84 L376.47,227.86 L377.13,227.88 L377.79,227.90 L378.46,227.92 L379.12,227.94 L379.79,227.96 L380.45,227.99 L381.11,228.01 L381.78,228.04 L382.44,228.06 L383.11,228.09 L383.77,228.11 L384.43,228.14 L385.10,228.17 L385.76,228.19 L386.43,228.22 L387.09,228.24 L387.75,228.26 L388.42,228.29 L389.08,228.31 L389.75,228.33 L390.41,228.35 L391.07,228.37 L391.74,228.39 L392.40,228.40 L393.07,228.42 L393.73,228.43 L394.39,228.45 L395.06,228.46 L395.72,228.47 L396.39,228.48 L397.05,228.49 L397.71,228.50 L398.38,228.51 L399.04,228.52 L399.71,228.53 L400.37,228.53 L401.03,228.54 L401.70,228.54 L402.36,228.55 L403.03,228.55 L403.69,228.56 L404.35,228.56 L405.02,228.56 L405.68,228.56 L406.35,228.57 L407.01,228.57 L407.67,228.57 L408.34,228.57 L409.00,228.57 L409.67,228.58 L410.33,228.58 L410.99,228.58 L411.66,228.58 L412.32,228.58 L412.99,228.58 L413.65,228.58 L414.31,228.58 L414.98,228.58 L415.64,228.58 L416.31,228.58 L416.97,228.59 L417.63,228.59 L418.30,228.59 L418.96,228.59 L419.63,228.59 L420.29,228.59 L420.96,228.59 L421.62,228.59 L422.28,228.59 L422.95,228.59 L423.61,228.59 L424.28,228.59 L424.94,228.59 L425.60,228.59 L426.27,228.59 L426.93,228.59 L427.60,228.59 L428.26,228.59 L428.92,228.59 L429.59,228.59 L430.25,228.59 L430.92,228.59 L431.58,228.59 L432.24,228.59 L432.91,228.59 L433.57,228.59 L434.24,228.59 L434.90,228.59 L435.56,228.59 L436.23,228.59 L436.89,228.59 L437.56,228.59 L438.22,228.59 L438.88,228.59 L439.55,228.59 L440.21,228.59 L440.88,228.59 L441.54,228.59 L442.20,228.59 L442.87,228.59 L443.53,228.59 L444.20,228.59 L444.86,228.59 L445.52,228.59 L446.19,228.59 L446.85,228.59 L447.52,228.59 L448.18,228.59 L448.84,228.59 L449.51,228.59 L450.17,228.60 L450.84,228.60 L451.50,228.60 L451.50,228.60Z" fill="url(#gSF)"/>
<path d="M354.50,228.60 L354.50,228.50 L355.16,228.50 L355.82,228.50 L356.49,228.50 L357.15,228.49 L357.81,228.49 L358.47,228.49 L359.13,228.48 L359.80,228.48 L360.46,228.48 L361.12,228.47 L361.78,228.47 L362.44,228.46 L363.11,228.46 L363.77,228.46 L364.43,228.45 L365.09,228.45 L365.76,228.44 L366.42,228.43 L367.08,228.43 L367.74,228.42 L368.40,228.42 L369.07,228.41 L369.73,228.40 L370.39,228.39 L371.05,228.38 L371.71,228.38 L372.38,228.37 L373.04,228.36 L373.70,228.35 L374.36,228.33 L375.02,228.32 L375.69,228.31 L376.35,228.29 L377.01,228.28 L377.67,228.26 L378.33,228.24 L379.00,228.21 L379.66,228.18 L380.32,228.15 L380.98,228.11 L381.64,228.07 L382.31,228.01 L382.97,227.94 L383.63,227.86 L384.29,227.75 L384.96,227.62 L385.62,227.46 L386.28,227.27 L386.94,227.04 L387.60,226.75 L388.27,226.41 L388.93,226.01 L389.59,225.54 L390.25,224.99 L390.91,224.36 L391.58,223.64 L392.24,222.84 L392.90,221.94 L393.56,220.97 L394.22,219.92 L394.89,218.80 L395.55,217.63 L396.21,216.42 L396.87,215.21 L397.53,214.01 L398.20,212.86 L398.86,211.77 L399.52,210.80 L400.18,209.97 L400.84,209.32 L401.51,208.86 L402.17,208.63 L402.83,208.63 L403.49,208.86 L404.16,209.32 L404.82,209.97 L405.48,210.80 L406.14,211.77 L406.80,212.86 L407.47,214.01 L408.13,215.21 L408.79,216.42 L409.45,217.63 L410.11,218.80 L410.78,219.92 L411.44,220.97 L412.10,221.94 L412.76,222.84 L413.42,223.64 L414.09,224.36 L414.75,224.99 L415.41,225.54 L416.07,226.01 L416.73,226.41 L417.40,226.75 L418.06,227.04 L418.72,227.27 L419.38,227.46 L420.04,227.62 L420.71,227.75 L421.37,227.86 L422.03,227.94 L422.69,228.01 L423.36,228.07 L424.02,228.11 L424.68,228.15 L425.34,228.18 L426.00,228.21 L426.67,228.24 L427.33,228.26 L427.99,228.28 L428.65,228.29 L429.31,228.31 L429.98,228.32 L430.64,228.33 L431.30,228.35 L431.96,228.36 L432.62,228.37 L433.29,228.38 L433.95,228.38 L434.61,228.39 L435.27,228.40 L435.93,228.41 L436.60,228.42 L437.26,228.42 L437.92,228.43 L438.58,228.43 L439.24,228.44 L439.91,228.45 L440.57,228.45 L441.23,228.46 L441.89,228.46 L442.56,228.46 L443.22,228.47 L443.88,228.47 L444.54,228.48 L445.20,228.48 L445.87,228.48 L446.53,228.49 L447.19,228.49 L447.85,228.49 L448.51,228.50 L449.18,228.50 L449.84,228.50 L450.50,228.50 L450.50,228.60Z" fill="url(#gLiF)"/>
<path d="M326.00,228.09 L326.63,228.13 L327.25,228.28 L327.88,227.99 L328.51,227.99 L329.14,228.21 L329.76,228.08 L330.39,228.01 L331.02,228.03 L331.65,227.98 L332.27,227.89 L332.90,228.16 L333.53,228.32 L334.16,228.19 L334.79,228.16 L335.41,227.98 L336.04,228.03 L336.67,227.86 L337.30,228.20 L337.92,227.94 L338.55,227.93 L339.18,228.34 L339.81,227.96 L340.43,228.33 L341.06,228.11 L341.69,228.19 L342.31,228.11 L342.94,227.83 L343.57,228.15 L344.20,227.87 L344.82,227.95 L345.45,227.77 L346.08,227.72 L346.71,227.90 L347.33,227.67 L347.96,227.88 L348.59,228.15 L349.22,228.23 L349.85,227.87 L350.47,227.66 L351.10,227.79 L351.73,227.60 L352.36,227.68 L352.98,227.90 L353.61,227.88 L354.24,227.50 L354.87,227.76 L355.49,227.69 L356.12,227.65 L356.75,227.47 L357.38,227.60 L358.00,227.40 L358.63,227.72 L359.26,227.67 L359.88,227.63 L360.51,227.47 L361.14,227.78 L361.77,227.39 L362.39,227.27 L363.02,227.34 L363.65,227.64 L364.28,227.16 L364.90,227.49 L365.53,227.57 L366.16,227.49 L366.79,227.24 L367.42,227.21 L368.04,227.44 L368.67,227.32 L369.30,227.36 L369.93,226.97 L370.55,227.21 L371.18,227.28 L371.81,226.97 L372.44,226.94 L373.06,227.31 L373.69,227.15 L374.32,227.05 L374.94,227.09 L375.57,226.95 L376.20,226.95 L376.83,226.86 L377.45,227.04 L378.08,226.89 L378.71,227.34 L379.34,227.37 L379.97,227.14 L380.59,226.83 L381.22,227.12 L381.85,226.83 L382.48,226.93 L383.10,226.74 L383.73,226.90 L384.36,226.57 L384.99,226.59 L385.61,226.44 L386.24,226.42 L386.87,226.50 L387.50,226.05 L388.12,225.89 L388.75,225.51 L389.38,224.98 L390.00,224.23 L390.63,223.68 L391.26,223.10 L391.89,222.62 L392.51,221.73 L393.14,221.22 L393.77,219.85 L394.40,218.80 L395.02,218.05 L395.65,216.92 L396.28,215.46 L396.91,214.49 L397.53,213.43 L398.16,212.56 L398.79,211.51 L399.42,210.64 L400.05,209.63 L400.67,209.22 L401.30,208.45 L401.93,208.06 L402.56,207.88 L403.18,208.43 L403.81,208.65 L404.44,209.15 L405.06,210.06 L405.69,210.70 L406.32,211.46 L406.95,212.74 L407.57,213.98 L408.20,214.68 L408.83,216.29 L409.46,217.11 L410.08,218.04 L410.71,219.34 L411.34,220.52 L411.97,221.28 L412.60,222.01 L413.22,223.10 L413.85,223.41 L414.48,224.38 L415.11,224.75 L415.73,225.38 L416.36,225.73 L416.99,225.95 L417.62,226.21 L418.24,226.83 L418.87,226.83 L419.50,226.90 L420.12,227.23 L420.75,227.46 L421.38,227.15 L422.01,227.45 L422.63,227.33 L423.26,227.76 L423.89,227.37 L424.52,227.88 L425.14,227.75 L425.77,227.75 L426.40,227.79 L427.03,227.66 L427.65,227.78 L428.28,227.63 L428.91,227.75 L429.54,227.91 L430.17,227.93 L430.79,227.77 L431.42,227.96 L432.05,228.07 L432.68,228.07 L433.30,227.62 L433.93,227.93 L434.56,227.74 L435.19,228.13 L435.81,228.00 L436.44,227.92 L437.07,228.03 L437.69,227.98 L438.32,227.80 L438.95,228.23 L439.58,227.72 L440.20,227.71 L440.83,227.87 L441.46,227.79 L442.09,227.93 L442.72,228.08 L443.34,227.95 L443.97,228.30 L444.60,227.92 L445.23,228.29 L445.85,228.32 L446.48,228.06 L447.11,228.22 L447.74,227.78 L448.36,228.30 L448.99,228.01 L449.62,227.95 L450.25,228.30 L450.87,227.99 L451.50,227.81" fill="none" stroke="#a4a9ac" stroke-width="1.1" stroke-linejoin="round"/>
<path d="M354.50,269.00 L354.50,268.89 L355.16,268.88 L355.82,268.88 L356.49,268.88 L357.15,268.87 L357.81,268.87 L358.47,268.87 L359.13,268.86 L359.80,268.86 L360.46,268.85 L361.12,268.85 L361.78,268.85 L362.44,268.84 L363.11,268.83 L363.77,268.83 L364.43,268.82 L365.09,268.82 L365.76,268.81 L366.42,268.80 L367.08,268.80 L367.74,268.79 L368.40,268.78 L369.07,268.77 L369.73,268.77 L370.39,268.76 L371.05,268.75 L371.71,268.74 L372.38,268.72 L373.04,268.71 L373.70,268.70 L374.36,268.69 L375.02,268.67 L375.69,268.65 L376.35,268.64 L377.01,268.62 L377.67,268.60 L378.33,268.57 L379.00,268.54 L379.66,268.51 L380.32,268.47 L380.98,268.43 L381.64,268.37 L382.31,268.30 L382.97,268.22 L383.63,268.12 L384.29,268.00 L384.96,267.85 L385.62,267.66 L386.28,267.43 L386.94,267.15 L387.60,266.82 L388.27,266.42 L388.93,265.95 L389.59,265.39 L390.25,264.74 L390.91,264.00 L391.58,263.15 L392.24,262.20 L392.90,261.15 L393.56,259.99 L394.22,258.75 L394.89,257.43 L395.55,256.05 L396.21,254.63 L396.87,253.20 L397.53,251.79 L398.20,250.42 L398.86,249.15 L399.52,248.00 L400.18,247.02 L400.84,246.25 L401.51,245.71 L402.17,245.43 L402.83,245.43 L403.49,245.71 L404.16,246.25 L404.82,247.02 L405.48,248.00 L406.14,249.15 L406.80,250.42 L407.47,251.79 L408.13,253.20 L408.79,254.63 L409.45,256.05 L410.11,257.43 L410.78,258.75 L411.44,259.99 L412.10,261.15 L412.76,262.20 L413.42,263.15 L414.09,264.00 L414.75,264.74 L415.41,265.39 L416.07,265.95 L416.73,266.42 L417.40,266.82 L418.06,267.15 L418.72,267.43 L419.38,267.66 L420.04,267.85 L420.71,268.00 L421.37,268.12 L422.03,268.22 L422.69,268.30 L423.36,268.37 L424.02,268.43 L424.68,268.47 L425.34,268.51 L426.00,268.54 L426.67,268.57 L427.33,268.60 L427.99,268.62 L428.65,268.64 L429.31,268.65 L429.98,268.67 L430.64,268.69 L431.30,268.70 L431.96,268.71 L432.62,268.72 L433.29,268.74 L433.95,268.75 L434.61,268.76 L435.27,268.77 L435.93,268.77 L436.60,268.78 L437.26,268.79 L437.92,268.80 L438.58,268.80 L439.24,268.81 L439.91,268.82 L440.57,268.82 L441.23,268.83 L441.89,268.83 L442.56,268.84 L443.22,268.85 L443.88,268.85 L444.54,268.85 L445.20,268.86 L445.87,268.86 L446.53,268.87 L447.19,268.87 L447.85,268.87 L448.51,268.88 L449.18,268.88 L449.84,268.88 L450.50,268.89 L450.50,269.00Z" fill="url(#gLiF)"/>
<path d="M326.00,268.76 L326.63,268.31 L327.25,268.79 L327.88,268.35 L328.51,268.48 L329.14,268.74 L329.76,268.41 L330.39,268.50 L331.02,268.30 L331.65,268.77 L332.27,268.79 L332.90,268.30 L333.53,268.27 L334.16,268.48 L334.79,268.50 L335.41,268.66 L336.04,268.40 L336.67,268.54 L337.30,268.28 L337.92,268.31 L338.55,268.23 L339.18,268.51 L339.81,268.52 L340.43,268.55 L341.06,268.74 L341.69,268.36 L342.31,268.38 L342.94,268.45 L343.57,268.74 L344.20,268.36 L344.82,268.35 L345.45,268.43 L346.08,268.58 L346.71,268.33 L347.33,268.27 L347.96,268.60 L348.59,268.51 L349.22,268.51 L349.85,268.16 L350.47,268.30 L351.10,268.21 L351.73,268.37 L352.36,268.69 L352.98,268.74 L353.61,268.65 L354.24,268.36 L354.87,268.48 L355.49,268.67 L356.12,268.34 L356.75,268.37 L357.38,268.55 L358.00,268.33 L358.63,268.40 L359.26,268.33 L359.88,268.60 L360.51,268.42 L361.14,268.16 L361.77,268.10 L362.39,268.48 L363.02,268.16 L363.65,268.48 L364.28,268.21 L364.90,268.39 L365.53,268.27 L366.16,268.45 L366.79,268.13 L367.42,268.29 L368.04,268.43 L368.67,268.18 L369.30,268.62 L369.93,268.61 L370.55,268.58 L371.18,268.55 L371.81,268.55 L372.44,268.32 L373.06,268.46 L373.69,268.19 L374.32,267.98 L374.94,268.48 L375.57,268.46 L376.20,268.05 L376.83,268.10 L377.45,267.99 L378.08,268.26 L378.71,267.91 L379.34,268.26 L379.97,267.77 L380.59,267.95 L381.22,268.13 L381.85,267.89 L382.48,267.62 L383.10,267.47 L383.73,267.76 L384.36,267.28 L384.99,267.26 L385.61,267.27 L386.24,266.88 L386.87,266.46 L387.50,266.61 L388.12,266.20 L388.75,265.70 L389.38,264.89 L390.00,264.53 L390.63,264.15 L391.26,263.12 L391.89,262.12 L392.51,261.58 L393.14,260.19 L393.77,259.18 L394.40,257.76 L395.02,256.92 L395.65,255.49 L396.28,254.05 L396.91,252.67 L397.53,251.24 L398.16,250.02 L398.79,248.83 L399.42,247.43 L400.05,246.89 L400.67,246.13 L401.30,245.12 L401.93,244.83 L402.56,245.08 L403.18,245.00 L403.81,245.27 L404.44,246.22 L405.06,247.20 L405.69,247.81 L406.32,249.08 L406.95,250.29 L407.57,251.60 L408.20,252.97 L408.83,254.52 L409.46,255.83 L410.08,257.16 L410.71,258.29 L411.34,259.52 L411.97,260.63 L412.60,261.64 L413.22,262.53 L413.85,263.41 L414.48,263.73 L415.11,264.45 L415.73,265.31 L416.36,265.66 L416.99,265.97 L417.62,266.57 L418.24,266.61 L418.87,267.19 L419.50,267.13 L420.12,267.67 L420.75,267.45 L421.38,267.95 L422.01,267.67 L422.63,268.02 L423.26,267.69 L423.89,267.97 L424.52,267.93 L425.14,268.27 L425.77,268.21 L426.40,268.15 L427.03,267.90 L427.65,268.17 L428.28,268.02 L428.91,267.96 L429.54,268.33 L430.17,268.25 L430.79,268.54 L431.42,268.46 L432.05,267.99 L432.68,268.54 L433.30,268.30 L433.93,268.59 L434.56,268.19 L435.19,268.29 L435.81,268.44 L436.44,268.18 L437.07,268.28 L437.69,268.25 L438.32,268.26 L438.95,268.38 L439.58,268.36 L440.20,268.60 L440.83,268.22 L441.46,268.23 L442.09,268.26 L442.72,268.09 L443.34,268.29 L443.97,268.31 L444.60,268.16 L445.23,268.42 L445.85,268.17 L446.48,268.59 L447.11,268.69 L447.74,268.49 L448.36,268.25 L448.99,268.22 L449.62,268.17 L450.25,268.25 L450.87,268.65 L451.50,268.60" fill="none" stroke="#a4a9ac" stroke-width="1.1" stroke-linejoin="round"/>
<path d="M354.50,305.60 L354.50,305.47 L355.16,305.46 L355.82,305.46 L356.49,305.46 L357.15,305.45 L357.81,305.45 L358.47,305.44 L359.13,305.44 L359.80,305.43 L360.46,305.43 L361.12,305.42 L361.78,305.42 L362.44,305.41 L363.11,305.41 L363.77,305.40 L364.43,305.39 L365.09,305.39 L365.76,305.38 L366.42,305.37 L367.08,305.36 L367.74,305.35 L368.40,305.34 L369.07,305.33 L369.73,305.32 L370.39,305.31 L371.05,305.30 L371.71,305.29 L372.38,305.28 L373.04,305.26 L373.70,305.25 L374.36,305.23 L375.02,305.21 L375.69,305.19 L376.35,305.17 L377.01,305.15 L377.67,305.12 L378.33,305.09 L379.00,305.06 L379.66,305.02 L380.32,304.98 L380.98,304.92 L381.64,304.86 L382.31,304.78 L382.97,304.68 L383.63,304.56 L384.29,304.42 L384.96,304.24 L385.62,304.02 L386.28,303.75 L386.94,303.43 L387.60,303.03 L388.27,302.56 L388.93,302.00 L389.59,301.35 L390.25,300.58 L390.91,299.70 L391.58,298.71 L392.24,297.59 L392.90,296.35 L393.56,294.99 L394.22,293.53 L394.89,291.97 L395.55,290.35 L396.21,288.68 L396.87,286.99 L397.53,285.32 L398.20,283.72 L398.86,282.21 L399.52,280.86 L400.18,279.71 L400.84,278.80 L401.51,278.16 L402.17,277.84 L402.83,277.84 L403.49,278.16 L404.16,278.80 L404.82,279.71 L405.48,280.86 L406.14,282.21 L406.80,283.72 L407.47,285.32 L408.13,286.99 L408.79,288.68 L409.45,290.35 L410.11,291.97 L410.78,293.53 L411.44,294.99 L412.10,296.35 L412.76,297.59 L413.42,298.71 L414.09,299.70 L414.75,300.58 L415.41,301.35 L416.07,302.00 L416.73,302.56 L417.40,303.03 L418.06,303.43 L418.72,303.75 L419.38,304.02 L420.04,304.24 L420.71,304.42 L421.37,304.56 L422.03,304.68 L422.69,304.78 L423.36,304.86 L424.02,304.92 L424.68,304.98 L425.34,305.02 L426.00,305.06 L426.67,305.09 L427.33,305.12 L427.99,305.15 L428.65,305.17 L429.31,305.19 L429.98,305.21 L430.64,305.23 L431.30,305.25 L431.96,305.26 L432.62,305.28 L433.29,305.29 L433.95,305.30 L434.61,305.31 L435.27,305.32 L435.93,305.33 L436.60,305.34 L437.26,305.35 L437.92,305.36 L438.58,305.37 L439.24,305.38 L439.91,305.39 L440.57,305.39 L441.23,305.40 L441.89,305.41 L442.56,305.41 L443.22,305.42 L443.88,305.42 L444.54,305.43 L445.20,305.43 L445.87,305.44 L446.53,305.44 L447.19,305.45 L447.85,305.45 L448.51,305.46 L449.18,305.46 L449.84,305.46 L450.50,305.47 L450.50,305.60Z" fill="url(#gLiF)"/>
<path d="M326.00,305.06 L326.63,304.97 L327.25,305.34 L327.88,305.08 L328.51,304.85 L329.14,305.24 L329.76,304.84 L330.39,304.91 L331.02,304.83 L331.65,305.17 L332.27,305.29 L332.90,305.15 L333.53,304.92 L334.16,305.29 L334.79,305.31 L335.41,304.98 L336.04,304.94 L336.67,305.18 L337.30,305.36 L337.92,305.32 L338.55,305.30 L339.18,305.20 L339.81,304.91 L340.43,305.14 L341.06,305.03 L341.69,305.15 L342.31,305.06 L342.94,304.89 L343.57,305.30 L344.20,304.78 L344.82,304.96 L345.45,304.95 L346.08,305.33 L346.71,304.82 L347.33,305.10 L347.96,305.31 L348.59,305.11 L349.22,305.30 L349.85,304.98 L350.47,305.00 L351.10,304.96 L351.73,304.95 L352.36,304.94 L352.98,304.77 L353.61,305.31 L354.24,305.16 L354.87,305.12 L355.49,305.03 L356.12,304.83 L356.75,304.84 L357.38,305.28 L358.00,305.19 L358.63,304.97 L359.26,305.13 L359.88,305.26 L360.51,304.70 L361.14,304.89 L361.77,304.91 L362.39,304.87 L363.02,304.98 L363.65,304.83 L364.28,304.72 L364.90,305.16 L365.53,304.88 L366.16,305.10 L366.79,304.69 L367.42,304.79 L368.04,304.89 L368.67,304.61 L369.30,304.83 L369.93,304.68 L370.55,304.80 L371.18,304.72 L371.81,305.00 L372.44,304.83 L373.06,304.66 L373.69,304.85 L374.32,304.77 L374.94,304.60 L375.57,304.91 L376.20,304.78 L376.83,304.41 L377.45,304.71 L378.08,304.60 L378.71,304.38 L379.34,304.88 L379.97,304.63 L380.59,304.80 L381.22,304.44 L381.85,304.35 L382.48,304.10 L383.10,304.31 L383.73,304.08 L384.36,303.76 L384.99,303.98 L385.61,303.63 L386.24,303.07 L386.87,303.30 L387.50,302.60 L388.12,302.47 L388.75,301.66 L389.38,300.85 L390.00,300.46 L390.63,299.59 L391.26,298.92 L391.89,297.74 L392.51,296.56 L393.14,295.36 L393.77,294.08 L394.40,292.82 L395.02,291.37 L395.65,289.58 L396.28,287.83 L396.91,286.16 L397.53,284.93 L398.16,283.19 L398.79,282.12 L399.42,280.56 L400.05,279.75 L400.67,278.30 L401.30,278.08 L401.93,277.24 L402.56,277.20 L403.18,277.47 L403.81,277.85 L404.44,278.67 L405.06,279.67 L405.69,280.90 L406.32,281.87 L406.95,283.67 L407.57,285.07 L408.20,286.80 L408.83,288.21 L409.46,290.10 L410.08,291.28 L410.71,292.69 L411.34,294.47 L411.97,295.72 L412.60,296.65 L413.22,297.83 L413.85,298.86 L414.48,299.61 L415.11,300.59 L415.73,301.18 L416.36,301.85 L416.99,302.46 L417.62,302.53 L418.24,302.93 L418.87,303.47 L419.50,303.67 L420.12,303.94 L420.75,303.84 L421.38,303.95 L422.01,303.96 L422.63,304.21 L423.26,304.25 L423.89,304.61 L424.52,304.42 L425.14,304.73 L425.77,304.37 L426.40,304.50 L427.03,304.62 L427.65,304.53 L428.28,304.70 L428.91,305.01 L429.54,304.72 L430.17,304.59 L430.79,304.84 L431.42,304.81 L432.05,305.01 L432.68,304.57 L433.30,304.98 L433.93,304.91 L434.56,304.74 L435.19,304.79 L435.81,304.64 L436.44,305.15 L437.07,304.78 L437.69,304.86 L438.32,305.00 L438.95,305.07 L439.58,305.00 L440.20,304.88 L440.83,305.03 L441.46,304.97 L442.09,304.85 L442.72,305.16 L443.34,304.76 L443.97,304.77 L444.60,304.96 L445.23,304.98 L445.85,304.75 L446.48,305.14 L447.11,305.27 L447.74,305.04 L448.36,305.05 L448.99,304.88 L449.62,304.78 L450.25,304.92 L450.87,305.15 L451.50,305.24" fill="none" stroke="#a4a9ac" stroke-width="1.1" stroke-linejoin="round"/>
<text x="41.40" y="220.40" font-size="11" fill="#231f20">S-F</text>
<text x="113.60" y="221.00" font-size="11" fill="#231f20">LiF</text>
<line x1="56.90" y1="225.70" x2="51.40" y2="219.50" stroke="#231f20" stroke-width="0.8"/>
<path d="M51.40,219.50 L54.29,220.88 L52.42,222.53Z" fill="#231f20"/>
<line x1="101.90" y1="227.30" x2="114.30" y2="221.00" stroke="#231f20" stroke-width="0.8"/>
<path d="M114.30,221.00 L112.24,223.45 L111.11,221.22Z" fill="#231f20"/>
<line x1="21.00" y1="306.60" x2="144.00" y2="306.60" stroke="#4a4a4a" stroke-width="1"/>
<line x1="21.00" y1="306.60" x2="21.00" y2="308.80" stroke="#4a4a4a" stroke-width="0.9"/>
<text x="21.00" y="319.20" font-size="11" text-anchor="middle" fill="#231f20">692</text>
<line x1="41.50" y1="306.60" x2="41.50" y2="308.00" stroke="#4a4a4a" stroke-width="0.8"/>
<line x1="62.00" y1="306.60" x2="62.00" y2="308.80" stroke="#4a4a4a" stroke-width="0.9"/>
<text x="62.00" y="319.20" font-size="11" text-anchor="middle" fill="#231f20">688</text>
<line x1="82.50" y1="306.60" x2="82.50" y2="308.00" stroke="#4a4a4a" stroke-width="0.8"/>
<line x1="103.00" y1="306.60" x2="103.00" y2="308.80" stroke="#4a4a4a" stroke-width="0.9"/>
<text x="103.00" y="319.20" font-size="11" text-anchor="middle" fill="#231f20">684</text>
<line x1="123.50" y1="306.60" x2="123.50" y2="308.00" stroke="#4a4a4a" stroke-width="0.8"/>
<line x1="144.00" y1="306.60" x2="144.00" y2="308.80" stroke="#4a4a4a" stroke-width="0.9"/>
<text x="144.00" y="319.20" font-size="11" text-anchor="middle" fill="#231f20">680</text>
<text x="83.00" y="330.30" font-size="11.5" text-anchor="middle" fill="#231f20">Binding energy (eV)</text>
<line x1="169.50" y1="306.40" x2="296.50" y2="306.40" stroke="#4a4a4a" stroke-width="1"/>
<line x1="169.50" y1="306.40" x2="169.50" y2="308.60" stroke="#4a4a4a" stroke-width="0.9"/>
<text x="169.50" y="319.20" font-size="11" text-anchor="middle" fill="#231f20">692</text>
<line x1="190.67" y1="306.40" x2="190.67" y2="307.80" stroke="#4a4a4a" stroke-width="0.8"/>
<line x1="211.83" y1="306.40" x2="211.83" y2="308.60" stroke="#4a4a4a" stroke-width="0.9"/>
<text x="211.83" y="319.20" font-size="11" text-anchor="middle" fill="#231f20">688</text>
<line x1="233.00" y1="306.40" x2="233.00" y2="307.80" stroke="#4a4a4a" stroke-width="0.8"/>
<line x1="254.17" y1="306.40" x2="254.17" y2="308.60" stroke="#4a4a4a" stroke-width="0.9"/>
<text x="254.17" y="319.20" font-size="11" text-anchor="middle" fill="#231f20">684</text>
<line x1="275.33" y1="306.40" x2="275.33" y2="307.80" stroke="#4a4a4a" stroke-width="0.8"/>
<line x1="296.50" y1="306.40" x2="296.50" y2="308.60" stroke="#4a4a4a" stroke-width="0.9"/>
<text x="296.50" y="319.20" font-size="11" text-anchor="middle" fill="#231f20">680</text>
<text x="233.20" y="330.30" font-size="11.5" text-anchor="middle" fill="#231f20">Binding energy (eV)</text>
<line x1="325.50" y1="307.00" x2="451.50" y2="307.00" stroke="#4a4a4a" stroke-width="1"/>
<line x1="325.50" y1="307.00" x2="325.50" y2="309.20" stroke="#4a4a4a" stroke-width="0.9"/>
<text x="325.50" y="319.40" font-size="11" text-anchor="middle" fill="#231f20">692</text>
<line x1="346.50" y1="307.00" x2="346.50" y2="308.40" stroke="#4a4a4a" stroke-width="0.8"/>
<line x1="367.50" y1="307.00" x2="367.50" y2="309.20" stroke="#4a4a4a" stroke-width="0.9"/>
<text x="367.50" y="319.40" font-size="11" text-anchor="middle" fill="#231f20">688</text>
<line x1="388.50" y1="307.00" x2="388.50" y2="308.40" stroke="#4a4a4a" stroke-width="0.8"/>
<line x1="409.50" y1="307.00" x2="409.50" y2="309.20" stroke="#4a4a4a" stroke-width="0.9"/>
<text x="409.50" y="319.40" font-size="11" text-anchor="middle" fill="#231f20">684</text>
<line x1="430.50" y1="307.00" x2="430.50" y2="308.40" stroke="#4a4a4a" stroke-width="0.8"/>
<line x1="451.50" y1="307.00" x2="451.50" y2="309.20" stroke="#4a4a4a" stroke-width="0.9"/>
<text x="451.50" y="319.40" font-size="11" text-anchor="middle" fill="#231f20">680</text>
<text x="393.60" y="330.30" font-size="11.5" text-anchor="middle" fill="#231f20">Binding energy (eV)</text>
<text x="477.50" y="9.60" font-size="18.3" font-weight="bold" fill="#000">c</text>
<line x1="530.40" y1="144.50" x2="534.40" y2="144.50" stroke="#3a3a3a" stroke-width="0.9"/>
<text x="528.00" y="148.20" font-size="10.7" text-anchor="end" fill="#231f20">10</text>
<line x1="532.20" y1="135.14" x2="534.40" y2="135.14" stroke="#3a3a3a" stroke-width="0.8"/>
<line x1="530.40" y1="125.77" x2="534.40" y2="125.77" stroke="#3a3a3a" stroke-width="0.9"/>
<text x="528.00" y="129.47" font-size="10.7" text-anchor="end" fill="#231f20">20</text>
<line x1="532.20" y1="116.41" x2="534.40" y2="116.41" stroke="#3a3a3a" stroke-width="0.8"/>
<line x1="530.40" y1="107.04" x2="534.40" y2="107.04" stroke="#3a3a3a" stroke-width="0.9"/>
<text x="528.00" y="110.74" font-size="10.7" text-anchor="end" fill="#231f20">30</text>
<line x1="532.20" y1="97.68" x2="534.40" y2="97.68" stroke="#3a3a3a" stroke-width="0.8"/>
<line x1="530.40" y1="88.31" x2="534.40" y2="88.31" stroke="#3a3a3a" stroke-width="0.9"/>
<text x="528.00" y="92.01" font-size="10.7" text-anchor="end" fill="#231f20">40</text>
<line x1="532.20" y1="78.95" x2="534.40" y2="78.95" stroke="#3a3a3a" stroke-width="0.8"/>
<line x1="530.40" y1="69.59" x2="534.40" y2="69.59" stroke="#3a3a3a" stroke-width="0.9"/>
<text x="528.00" y="73.29" font-size="10.7" text-anchor="end" fill="#231f20">50</text>
<line x1="532.20" y1="60.22" x2="534.40" y2="60.22" stroke="#3a3a3a" stroke-width="0.8"/>
<line x1="530.40" y1="50.86" x2="534.40" y2="50.86" stroke="#3a3a3a" stroke-width="0.9"/>
<text x="528.00" y="54.56" font-size="10.7" text-anchor="end" fill="#231f20">60</text>
<line x1="532.20" y1="41.49" x2="534.40" y2="41.49" stroke="#3a3a3a" stroke-width="0.8"/>
<line x1="530.40" y1="32.13" x2="534.40" y2="32.13" stroke="#3a3a3a" stroke-width="0.9"/>
<text x="528.00" y="35.83" font-size="10.7" text-anchor="end" fill="#231f20">70</text>
<line x1="532.20" y1="22.76" x2="534.40" y2="22.76" stroke="#3a3a3a" stroke-width="0.8"/>
<line x1="530.40" y1="13.40" x2="534.40" y2="13.40" stroke="#3a3a3a" stroke-width="0.9"/>
<text x="528.00" y="17.10" font-size="10.7" text-anchor="end" fill="#231f20">80</text>
<line x1="545.30" y1="144.50" x2="545.30" y2="148.10" stroke="#3a3a3a" stroke-width="0.9"/>
<text x="545.30" y="160.30" font-size="10.7" text-anchor="middle" fill="#231f20">0</text>
<line x1="577.30" y1="144.50" x2="577.30" y2="146.70" stroke="#3a3a3a" stroke-width="0.8"/>
<line x1="609.30" y1="144.50" x2="609.30" y2="148.10" stroke="#3a3a3a" stroke-width="0.9"/>
<text x="609.30" y="160.30" font-size="10.7" text-anchor="middle" fill="#231f20">30</text>
<line x1="641.30" y1="144.50" x2="641.30" y2="146.70" stroke="#3a3a3a" stroke-width="0.8"/>
<line x1="673.30" y1="144.50" x2="673.30" y2="148.10" stroke="#3a3a3a" stroke-width="0.9"/>
<text x="673.30" y="160.30" font-size="10.7" text-anchor="middle" fill="#231f20">60</text>
<rect x="534.40" y="13.40" width="149.90" height="131.10" fill="none" stroke="#3a3a3a" stroke-width="1"/>
<path d="M545.30,77.08 L609.30,91.87 L673.30,93.18" fill="none" stroke="#9fd4d5" stroke-width="1.9"/>
<rect x="542.20" y="73.98" width="6.2" height="6.2" fill="#9fd4d5"/>
<rect x="606.20" y="88.77" width="6.2" height="6.2" fill="#9fd4d5"/>
<rect x="670.20" y="90.08" width="6.2" height="6.2" fill="#9fd4d5"/>
<path d="M545.30,79.32 L609.30,117.91 L673.30,128.02" fill="none" stroke="#f8d48a" stroke-width="1.9"/>
<circle cx="545.30" cy="79.32" r="3.3" fill="#f8d48a"/>
<circle cx="609.30" cy="117.91" r="3.3" fill="#f8d48a"/>
<circle cx="673.30" cy="128.02" r="3.3" fill="#f8d48a"/>
<path d="M545.30,74.64 L609.30,127.08 L673.30,139.26" fill="none" stroke="#f5845a" stroke-width="1.9"/>
<path d="M545.30,70.44 L549.60,77.44 L541.00,77.44Z" fill="#f5845a"/>
<path d="M609.30,122.88 L613.60,129.88 L605.00,129.88Z" fill="#f5845a"/>
<path d="M673.30,135.06 L677.60,142.06 L669.00,142.06Z" fill="#f5845a"/>
<line x1="537.00" y1="24.00" x2="557.00" y2="24.00" stroke="#9fd4d5" stroke-width="1.9"/>
<rect x="543.90" y="20.90" width="6.2" height="6.2" fill="#9fd4d5"/>
<line x1="537.00" y1="37.50" x2="557.00" y2="37.50" stroke="#f8d48a" stroke-width="1.9"/>
<circle cx="547.00" cy="37.50" r="3.3" fill="#f8d48a"/>
<line x1="537.00" y1="50.60" x2="557.00" y2="50.60" stroke="#f5845a" stroke-width="1.9"/>
<path d="M547.00,47.00 L551.30,54.00 L542.70,54.00Z" fill="#f5845a"/>
<text x="563.40" y="27.80" font-size="11" fill="#231f20">1 M LiFSI in DME</text>
<text x="563.40" y="41.30" font-size="11" fill="#231f20">1 M LiFSI in DEA</text>
<text x="563.40" y="54.60" font-size="11" fill="#231f20">1 M LiFSI in</text>
<text x="565.70" y="68.40" font-size="11" fill="#231f20">DEA/FB (1:1 v/v)</text>
<text x="618.00" y="111.40" font-size="11" fill="#231f20">C atom</text>
<text x="610.20" y="171.40" font-size="11.5" text-anchor="middle" fill="#231f20">Sputtering time (s)</text>
<text transform="translate(507.30 76.20) rotate(-90)" font-size="11" text-anchor="middle" fill="#231f20">Atomic concentration (%)</text>
<text x="484.00" y="179.50" font-size="18.3" font-weight="bold" fill="#000">d</text>
<line x1="529.40" y1="311.40" x2="533.40" y2="311.40" stroke="#3a3a3a" stroke-width="0.9"/>
<text x="526.50" y="315.10" font-size="10.7" text-anchor="end" fill="#231f20">0</text>
<line x1="531.20" y1="300.47" x2="533.40" y2="300.47" stroke="#3a3a3a" stroke-width="0.8"/>
<line x1="529.40" y1="289.53" x2="533.40" y2="289.53" stroke="#3a3a3a" stroke-width="0.9"/>
<text x="526.50" y="293.23" font-size="10.7" text-anchor="end" fill="#231f20">10</text>
<line x1="531.20" y1="278.60" x2="533.40" y2="278.60" stroke="#3a3a3a" stroke-width="0.8"/>
<line x1="529.40" y1="267.67" x2="533.40" y2="267.67" stroke="#3a3a3a" stroke-width="0.9"/>
<text x="526.50" y="271.37" font-size="10.7" text-anchor="end" fill="#231f20">20</text>
<line x1="531.20" y1="256.73" x2="533.40" y2="256.73" stroke="#3a3a3a" stroke-width="0.8"/>
<line x1="529.40" y1="245.80" x2="533.40" y2="245.80" stroke="#3a3a3a" stroke-width="0.9"/>
<text x="526.50" y="249.50" font-size="10.7" text-anchor="end" fill="#231f20">30</text>
<line x1="531.20" y1="234.87" x2="533.40" y2="234.87" stroke="#3a3a3a" stroke-width="0.8"/>
<line x1="529.40" y1="223.93" x2="533.40" y2="223.93" stroke="#3a3a3a" stroke-width="0.9"/>
<text x="526.50" y="227.63" font-size="10.7" text-anchor="end" fill="#231f20">40</text>
<line x1="531.20" y1="213.00" x2="533.40" y2="213.00" stroke="#3a3a3a" stroke-width="0.8"/>
<line x1="529.40" y1="202.07" x2="533.40" y2="202.07" stroke="#3a3a3a" stroke-width="0.9"/>
<text x="526.50" y="205.77" font-size="10.7" text-anchor="end" fill="#231f20">50</text>
<line x1="531.20" y1="191.13" x2="533.40" y2="191.13" stroke="#3a3a3a" stroke-width="0.8"/>
<line x1="529.40" y1="180.20" x2="533.40" y2="180.20" stroke="#3a3a3a" stroke-width="0.9"/>
<text x="526.50" y="183.90" font-size="10.7" text-anchor="end" fill="#231f20">60</text>
<line x1="543.90" y1="311.40" x2="543.90" y2="315.00" stroke="#3a3a3a" stroke-width="0.9"/>
<text x="543.90" y="327.20" font-size="10.7" text-anchor="middle" fill="#231f20">0</text>
<line x1="576.10" y1="311.40" x2="576.10" y2="313.60" stroke="#3a3a3a" stroke-width="0.8"/>
<line x1="608.30" y1="311.40" x2="608.30" y2="315.00" stroke="#3a3a3a" stroke-width="0.9"/>
<text x="608.30" y="327.20" font-size="10.7" text-anchor="middle" fill="#231f20">30</text>
<line x1="640.50" y1="311.40" x2="640.50" y2="313.60" stroke="#3a3a3a" stroke-width="0.8"/>
<line x1="672.70" y1="311.40" x2="672.70" y2="315.00" stroke="#3a3a3a" stroke-width="0.9"/>
<text x="672.70" y="327.20" font-size="10.7" text-anchor="middle" fill="#231f20">60</text>
<rect x="533.40" y="180.20" width="149.90" height="131.20" fill="none" stroke="#3a3a3a" stroke-width="1"/>
<path d="M543.90,300.03 L608.30,289.53 L672.70,276.41" fill="none" stroke="#9fd4d5" stroke-width="1.9"/>
<rect x="540.80" y="296.93" width="6.2" height="6.2" fill="#9fd4d5"/>
<rect x="605.20" y="286.43" width="6.2" height="6.2" fill="#9fd4d5"/>
<rect x="669.60" y="273.31" width="6.2" height="6.2" fill="#9fd4d5"/>
<path d="M543.90,284.50 L608.30,275.98 L672.70,275.32" fill="none" stroke="#f8d48a" stroke-width="1.9"/>
<circle cx="543.90" cy="284.50" r="3.3" fill="#f8d48a"/>
<circle cx="608.30" cy="275.98" r="3.3" fill="#f8d48a"/>
<circle cx="672.70" cy="275.32" r="3.3" fill="#f8d48a"/>
<path d="M543.90,282.54 L608.30,253.45 L672.70,242.52" fill="none" stroke="#f5845a" stroke-width="1.9"/>
<path d="M543.90,278.34 L548.20,285.34 L539.60,285.34Z" fill="#f5845a"/>
<path d="M608.30,249.25 L612.60,256.25 L604.00,256.25Z" fill="#f5845a"/>
<path d="M672.70,238.32 L677.00,245.32 L668.40,245.32Z" fill="#f5845a"/>
<line x1="535.50" y1="191.30" x2="555.50" y2="191.30" stroke="#9fd4d5" stroke-width="1.9"/>
<rect x="542.40" y="188.20" width="6.2" height="6.2" fill="#9fd4d5"/>
<line x1="535.50" y1="204.90" x2="555.50" y2="204.90" stroke="#f8d48a" stroke-width="1.9"/>
<circle cx="545.50" cy="204.90" r="3.3" fill="#f8d48a"/>
<line x1="535.50" y1="218.00" x2="555.50" y2="218.00" stroke="#f5845a" stroke-width="1.9"/>
<path d="M545.50,214.40 L549.80,221.40 L541.20,221.40Z" fill="#f5845a"/>
<text x="561.50" y="195.00" font-size="11" fill="#231f20">1 M LiFSI in DME</text>
<text x="561.50" y="208.60" font-size="11" fill="#231f20">1 M LiFSI in DEA</text>
<text x="561.50" y="221.70" font-size="11" fill="#231f20">1 M LiFSI in</text>
<text x="563.80" y="236.00" font-size="11" fill="#231f20">DEA/FB (1:1 v/v)</text>
<text x="621.60" y="266.00" font-size="11" fill="#231f20">F atom</text>
<text x="608.90" y="338.20" font-size="11.4" text-anchor="middle" fill="#231f20">Sputtering time (s)</text>
<text transform="translate(506.30 244.00) rotate(-90)" font-size="11" text-anchor="middle" fill="#231f20">Atomic concentration (%)</text>
<text x="485.50" y="351.50" font-size="18.3" font-weight="bold" fill="#000">g</text>
<line x1="528.00" y1="469.00" x2="532.00" y2="469.00" stroke="#3a3a3a" stroke-width="0.9"/>
<text x="528.00" y="473.40" font-size="10.2" text-anchor="end" fill="#231f20">0</text>
<line x1="529.80" y1="461.52" x2="532.00" y2="461.52" stroke="#3a3a3a" stroke-width="0.8"/>
<line x1="528.00" y1="454.05" x2="532.00" y2="454.05" stroke="#3a3a3a" stroke-width="0.9"/>
<text x="528.00" y="458.45" font-size="10.2" text-anchor="end" fill="#231f20">50</text>
<line x1="529.80" y1="446.57" x2="532.00" y2="446.57" stroke="#3a3a3a" stroke-width="0.8"/>
<line x1="528.00" y1="439.10" x2="532.00" y2="439.10" stroke="#3a3a3a" stroke-width="0.9"/>
<text x="528.00" y="443.50" font-size="10.2" text-anchor="end" fill="#231f20">100</text>
<line x1="529.80" y1="431.62" x2="532.00" y2="431.62" stroke="#3a3a3a" stroke-width="0.8"/>
<line x1="528.00" y1="424.15" x2="532.00" y2="424.15" stroke="#3a3a3a" stroke-width="0.9"/>
<text x="528.00" y="428.55" font-size="10.2" text-anchor="end" fill="#231f20">150</text>
<line x1="529.80" y1="416.68" x2="532.00" y2="416.68" stroke="#3a3a3a" stroke-width="0.8"/>
<line x1="528.00" y1="409.20" x2="532.00" y2="409.20" stroke="#3a3a3a" stroke-width="0.9"/>
<text x="528.00" y="413.60" font-size="10.2" text-anchor="end" fill="#231f20">200</text>
<line x1="529.80" y1="401.73" x2="532.00" y2="401.73" stroke="#3a3a3a" stroke-width="0.8"/>
<line x1="528.00" y1="394.25" x2="532.00" y2="394.25" stroke="#3a3a3a" stroke-width="0.9"/>
<text x="528.00" y="398.65" font-size="10.2" text-anchor="end" fill="#231f20">250</text>
<line x1="529.80" y1="386.77" x2="532.00" y2="386.77" stroke="#3a3a3a" stroke-width="0.8"/>
<line x1="528.00" y1="379.30" x2="532.00" y2="379.30" stroke="#3a3a3a" stroke-width="0.9"/>
<text x="528.00" y="383.70" font-size="10.2" text-anchor="end" fill="#231f20">300</text>
<line x1="529.80" y1="371.82" x2="532.00" y2="371.82" stroke="#3a3a3a" stroke-width="0.8"/>
<line x1="528.00" y1="364.35" x2="532.00" y2="364.35" stroke="#3a3a3a" stroke-width="0.9"/>
<text x="528.00" y="368.75" font-size="10.2" text-anchor="end" fill="#231f20">350</text>
<line x1="529.80" y1="356.88" x2="532.00" y2="356.88" stroke="#3a3a3a" stroke-width="0.8"/>
<line x1="528.00" y1="349.40" x2="532.00" y2="349.40" stroke="#3a3a3a" stroke-width="0.9"/>
<text x="528.00" y="353.80" font-size="10.2" text-anchor="end" fill="#231f20">400</text>
<line x1="532.40" y1="469.00" x2="532.40" y2="472.60" stroke="#3a3a3a" stroke-width="0.9"/>
<text x="532.40" y="481.00" font-size="10.5" text-anchor="middle" fill="#231f20">0</text>
<line x1="550.02" y1="469.00" x2="550.02" y2="471.20" stroke="#3a3a3a" stroke-width="0.8"/>
<line x1="567.65" y1="469.00" x2="567.65" y2="472.60" stroke="#3a3a3a" stroke-width="0.9"/>
<text x="567.65" y="481.00" font-size="10.5" text-anchor="middle" fill="#231f20">200</text>
<line x1="585.27" y1="469.00" x2="585.27" y2="471.20" stroke="#3a3a3a" stroke-width="0.8"/>
<line x1="602.90" y1="469.00" x2="602.90" y2="472.60" stroke="#3a3a3a" stroke-width="0.9"/>
<text x="602.90" y="481.00" font-size="10.5" text-anchor="middle" fill="#231f20">400</text>
<line x1="620.52" y1="469.00" x2="620.52" y2="471.20" stroke="#3a3a3a" stroke-width="0.8"/>
<line x1="638.15" y1="469.00" x2="638.15" y2="472.60" stroke="#3a3a3a" stroke-width="0.9"/>
<text x="638.15" y="481.00" font-size="10.5" text-anchor="middle" fill="#231f20">600</text>
<line x1="655.77" y1="469.00" x2="655.77" y2="471.20" stroke="#3a3a3a" stroke-width="0.8"/>
<line x1="673.40" y1="469.00" x2="673.40" y2="472.60" stroke="#3a3a3a" stroke-width="0.9"/>
<text x="673.40" y="481.00" font-size="10.5" text-anchor="middle" fill="#231f20">800</text>
<path d="M536.81,375.72 L537.16,379.99 L537.51,376.46 L537.86,387.07 L538.22,396.40 L538.57,395.58 L538.92,396.72 L539.27,396.73 L539.63,401.38 L539.98,398.27 L540.33,401.40 L540.68,396.63 L541.04,402.18 L541.39,405.55 L541.74,403.60 L542.09,405.46 L542.45,411.90 L542.80,409.44 L543.15,414.04 L543.50,410.03 L543.86,415.21 L544.21,414.42 L544.56,418.46 L544.91,416.75 L545.27,413.53 L545.62,413.73 L545.97,420.01 L546.32,424.61 L546.68,419.96 L547.03,423.50 L547.38,425.32 L547.73,421.71 L548.09,427.24 L548.44,422.70 L548.79,420.61 L549.14,423.56 L549.50,427.62 L549.85,426.85 L550.20,421.35 L550.55,424.09 L550.91,421.75 L551.26,425.06 L551.61,426.03 L551.96,426.32 L552.32,426.81 L552.67,426.60 L553.02,424.95 L553.37,423.46 L553.73,427.41 L554.08,431.26 L554.43,431.63 L554.78,432.72 L555.14,436.67 L555.49,431.49 L555.84,432.50 L556.19,424.66 L556.55,430.02 L556.90,434.47 L557.25,430.16 L557.60,430.25 L557.96,427.61 L558.31,429.19 L558.66,424.31 L559.01,431.14 L559.37,430.35 L559.72,432.40 L560.07,433.28 L560.42,437.38 L560.78,431.48 L561.13,437.03 L561.48,432.36 L561.83,430.80 L562.19,430.60 L562.54,436.96 L562.89,431.36 L563.24,434.58 L563.60,432.20 L563.95,434.01 L564.30,427.28 L564.65,433.39 L565.01,434.21 L565.36,432.94 L565.71,438.25 L566.06,436.81 L566.42,435.68 L566.77,433.94 L567.12,435.45 L567.47,429.20 L567.83,426.97 L568.18,428.60 L568.53,433.11 L568.88,432.39 L569.24,427.61 L569.59,427.23 L569.94,430.65 L570.29,435.57 L570.65,431.72 L571.00,431.80 L571.35,434.08 L571.70,435.50 L572.06,439.81 L572.41,441.59 L572.76,441.52 L573.11,436.56 L573.47,435.39 L573.82,438.05 L574.17,437.38 L574.52,431.99 L574.88,438.66 L575.23,438.29 L575.58,440.70 L575.93,431.36 L576.29,436.06 L576.64,431.78 L576.99,432.62 L577.34,437.35 L577.70,434.75 L578.05,435.34 L578.40,434.65 L578.75,435.38 L579.11,434.25 L579.46,434.05 L579.81,438.33 L580.16,434.81 L580.52,438.67 L580.87,441.51 L581.22,439.48 L581.57,440.50 L581.93,440.14 L582.28,441.37 L582.63,435.64 L582.98,433.85 L583.34,438.14 L583.69,433.20 L584.04,436.25 L584.39,439.29 L584.75,441.08 L585.10,437.09 L585.45,437.56 L585.80,436.59 L586.16,427.80 L586.51,431.55 L586.86,435.94 L587.21,440.44 L587.57,439.69 L587.92,440.39 L588.27,440.38 L588.62,445.97 L588.98,439.69 L589.33,441.82 L589.68,431.95 L590.03,436.80 L590.39,434.53 L590.74,435.73 L591.09,439.67 L591.44,437.71 L591.80,439.18 L592.15,439.50 L592.50,438.56 L592.85,444.37 L593.21,435.47 L593.56,435.45 L593.91,437.73 L594.26,433.52 L594.62,439.83 L594.97,446.66 L595.32,439.84 L595.67,441.38 L596.03,439.35 L596.38,440.29 L596.73,439.57 L597.08,441.80 L597.44,439.53 L597.79,436.33 L598.14,436.53 L598.49,432.28 L598.85,434.62 L599.20,435.92 L599.55,436.96 L599.90,436.22 L600.26,438.25 L600.61,442.50 L600.96,443.08 L601.31,445.62 L601.67,441.43 L602.02,439.08 L602.37,437.25 L602.72,434.61 L603.08,438.86 L603.43,445.46 L603.78,442.82 L604.13,439.94 L604.49,445.04 L604.84,444.47 L605.19,443.88 L605.54,433.79 L605.90,433.66 L606.25,439.35 L606.60,440.35 L606.95,438.81 L607.31,437.84 L607.66,437.67 L608.01,441.98 L608.36,442.67 L608.72,435.42 L609.07,437.68 L609.42,434.99 L609.77,437.49 L610.13,437.38 L610.48,437.25 L610.83,438.95 L611.18,434.79 L611.54,434.66 L611.89,437.47 L612.24,437.61 L612.59,433.11 L612.95,439.83 L613.30,436.19 L613.65,434.11 L614.00,432.04 L614.36,431.82 L614.71,438.91 L615.06,435.88 L615.41,438.68 L615.77,435.78 L616.12,436.98 L616.47,435.05 L616.82,439.42 L617.18,438.05 L617.53,436.48 L617.88,435.98 L618.23,434.67 L618.59,431.34 L618.94,439.09 L619.29,438.23 L619.64,443.49 L620.00,437.82 L620.35,433.02 L620.70,436.02 L621.05,433.76 L621.41,430.37 L621.76,434.45 L622.11,434.15 L622.46,433.92 L622.82,439.25 L623.17,442.33 L623.52,440.65 L623.87,441.64 L624.23,437.24 L624.58,445.02 L624.93,446.69 L625.28,446.57 L625.64,440.03 L625.99,439.54 L626.34,439.18 L626.69,439.63 L627.05,440.15 L627.40,441.27 L627.75,438.46 L628.10,438.94 L628.46,437.44 L628.81,438.18 L629.16,437.88 L629.51,437.92 L629.87,431.53 L630.22,429.57 L630.57,431.92 L630.92,442.21 L631.28,437.41 L631.63,433.42 L631.98,435.21 L632.33,442.02 L632.69,440.23 L633.04,430.38 L633.39,436.35 L633.74,442.21 L634.10,439.92 L634.45,435.47 L634.80,437.02 L635.15,441.45 L635.51,446.03 L635.86,439.83 L636.21,443.96 L636.56,436.76 L636.92,433.88 L637.27,435.59 L637.62,437.32 L637.97,438.18 L638.33,438.84 L638.68,440.62 L639.03,441.81 L639.38,442.19 L639.74,434.26 L640.09,431.12 L640.44,435.79 L640.79,435.57 L641.15,438.27 L641.50,437.61 L641.85,433.54 L642.20,433.44 L642.56,433.36 L642.91,434.29 L643.26,434.22 L643.61,439.08 L643.97,435.93 L644.32,442.75 L644.67,438.72 L645.02,437.07 L645.38,436.31 L645.73,443.58 L646.08,436.61 L646.43,441.48 L646.79,446.86 L647.14,441.08 L647.49,439.20 L647.84,443.61 L648.20,438.72 L648.55,438.70 L648.90,438.37 L649.25,442.20 L649.61,436.79 L649.96,437.38 L650.31,438.56 L650.66,441.87 L651.02,441.48 L651.37,439.96 L651.72,444.41 L652.07,442.49 L652.43,435.33 L652.78,437.63 L653.13,437.98 L653.48,439.26 L653.84,435.76 L654.19,434.16 L654.54,436.05 L654.89,438.75 L655.25,435.94 L655.60,434.36 L655.95,437.43 L656.30,436.14 L656.66,435.58 L657.01,434.44 L657.36,436.35 L657.71,439.29 L658.07,437.90 L658.42,439.06 L658.77,438.28 L659.12,433.35 L659.48,433.77 L659.83,436.54 L660.18,436.21 L660.53,435.52 L660.89,435.79 L661.24,438.48 L661.59,439.37 L661.94,445.11 L662.30,439.91 L662.65,432.25 L663.00,438.53 L663.35,433.21 L663.71,439.04 L664.06,439.67 L664.41,434.78 L664.76,440.14 L665.12,440.30 L665.47,434.91 L665.82,437.71 L666.17,435.37 L666.53,429.23 L666.88,438.53 L667.23,434.27 L667.58,430.96 L667.94,435.93 L668.29,437.77 L668.64,435.25 L668.99,435.00 L669.35,432.18 L669.70,440.34 L670.05,438.65 L670.40,434.72 L670.76,435.03 L671.11,438.02 L671.46,435.36 L671.81,435.16 L672.17,439.77 L672.52,444.24 L672.87,439.46 L673.22,438.71 L673.58,437.40 L673.93,436.28 L674.28,440.06 L674.63,440.36 L674.99,434.81 L675.34,439.01 L675.69,441.83 L676.04,442.24 L676.40,437.34 L676.75,431.34 L677.10,432.18 L677.45,440.66 L677.81,438.34 L678.16,439.93 L678.51,435.68" fill="none" stroke="#a3d6d6" stroke-width="1.3" stroke-linejoin="round" clip-path="url(#clipg)"/>
<path d="M532.93,312.48 L533.28,311.82 L533.63,318.57 L533.99,324.39 L534.34,333.40 L534.69,340.48 L535.04,347.60 L535.40,355.91 L535.75,363.32 L536.10,373.59 L536.45,385.18 L536.81,395.56 L537.16,399.13 L537.51,407.29 L537.86,409.88 L538.22,410.18 L538.57,410.44 L538.92,411.59 L539.27,415.34 L539.63,418.56 L539.98,420.29 L540.33,419.48 L540.68,420.22 L541.04,419.90 L541.39,420.98 L541.74,421.70 L542.09,425.30 L542.45,427.18 L542.80,427.09 L543.15,427.42 L543.50,430.06 L543.86,429.22 L544.21,433.68 L544.56,434.05 L544.91,435.90 L545.27,435.58 L545.62,436.18 L545.97,438.22 L546.32,438.77 L546.68,438.57 L547.03,441.25 L547.38,442.53 L547.73,443.58 L548.09,443.52 L548.44,444.70 L548.79,446.45 L549.14,444.27 L549.50,446.42 L549.85,448.86 L550.20,446.21 L550.55,447.90 L550.91,446.42 L551.26,445.51 L551.61,448.18 L551.96,449.44 L552.32,447.15 L552.67,450.28 L553.02,450.86 L553.37,450.75 L553.73,450.95 L554.08,448.65 L554.43,449.91 L554.78,452.53 L555.14,449.32 L555.49,449.54 L555.84,450.74 L556.19,448.75 L556.55,449.43 L556.90,449.96 L557.25,452.00 L557.60,451.99 L557.96,450.16 L558.31,450.86 L558.66,452.34 L559.01,454.36 L559.37,452.76 L559.72,452.78 L560.07,451.89 L560.42,452.15 L560.78,452.06 L561.13,453.18 L561.48,453.16 L561.83,454.30 L562.19,453.72 L562.54,453.57 L562.89,453.65 L563.24,455.20 L563.60,454.26 L563.95,454.78 L564.30,456.14 L564.65,455.31 L565.01,454.38 L565.36,455.60 L565.71,453.47 L566.06,454.47 L566.42,453.95 L566.77,454.39 L567.12,457.65 L567.47,458.85 L567.83,456.38 L568.18,456.82 L568.53,457.12 L568.88,455.91 L569.24,455.80 L569.59,455.92 L569.94,457.51 L570.29,455.10 L570.65,458.94 L571.00,456.09 L571.35,457.20 L571.70,455.87 L572.06,456.47 L572.41,456.39 L572.76,454.97 L573.11,457.21 L573.47,459.78 L573.82,458.77 L574.17,460.68 L574.52,459.15 L574.88,458.90 L575.23,457.25 L575.58,458.18 L575.93,457.28 L576.29,459.40 L576.64,457.78 L576.99,457.96 L577.34,456.57 L577.70,454.50 L578.05,455.90 L578.40,456.15 L578.75,458.49 L579.11,458.94 L579.46,455.98 L579.81,459.55 L580.16,458.88 L580.52,457.78 L580.87,456.87 L581.22,458.53 L581.57,458.35 L581.93,457.66 L582.28,456.52 L582.63,457.77 L582.98,458.59 L583.34,457.00 L583.69,456.83 L584.04,458.76 L584.39,458.25 L584.75,458.71 L585.10,458.64 L585.45,460.86 L585.80,459.14 L586.16,459.04 L586.51,460.56 L586.86,459.51 L587.21,460.32 L587.57,460.25 L587.92,459.83 L588.27,456.66 L588.62,457.02 L588.98,459.91 L589.33,457.92 L589.68,459.29 L590.03,457.63 L590.39,457.94 L590.74,457.33 L591.09,457.55 L591.44,459.43 L591.80,460.20 L592.15,459.51 L592.50,459.21 L592.85,458.00 L593.21,456.09 L593.56,458.30 L593.91,456.77 L594.26,458.17 L594.62,458.52 L594.97,460.67 L595.32,459.98 L595.67,459.09 L596.03,459.97 L596.38,460.91 L596.73,460.28 L597.08,458.72 L597.44,458.55 L597.79,460.52 L598.14,459.14 L598.49,460.18 L598.85,460.81 L599.20,458.70 L599.55,459.24 L599.90,459.82 L600.26,460.26 L600.61,464.27 L600.96,460.41 L601.31,458.58 L601.67,463.21 L602.02,464.63 L602.37,462.38 L602.72,459.78 L603.08,459.86 L603.43,459.66 L603.78,461.36 L604.13,462.13 L604.49,460.60 L604.84,462.33 L605.19,459.61 L605.54,459.49 L605.90,460.52 L606.25,461.68 L606.60,459.01 L606.95,460.35 L607.31,462.98 L607.66,462.64 L608.01,463.92 L608.36,460.79 L608.72,462.33 L609.07,461.45 L609.42,460.57 L609.77,459.25 L610.13,462.37 L610.48,460.64 L610.83,461.52 L611.18,461.38 L611.54,464.04 L611.89,461.88 L612.24,461.06 L612.59,460.68 L612.95,460.21 L613.30,461.85 L613.65,463.48 L614.00,461.06 L614.36,462.90 L614.71,458.39 L615.06,460.84 L615.41,463.76 L615.77,460.97 L616.12,461.38 L616.47,462.26 L616.82,462.27 L617.18,462.02 L617.53,463.42 L617.88,460.65 L618.23,459.63 L618.59,460.79 L618.94,462.19 L619.29,461.28 L619.64,460.02 L620.00,460.45 L620.35,461.49 L620.70,461.03 L621.05,462.94 L621.41,460.87 L621.76,459.43 L622.11,459.88 L622.46,459.85 L622.82,460.37 L623.17,462.90 L623.52,460.17 L623.87,459.60 L624.23,462.32 L624.58,462.17 L624.93,460.76 L625.28,460.73 L625.64,462.75 L625.99,463.36 L626.34,463.73 L626.69,461.89 L627.05,460.64 L627.40,460.34 L627.75,461.67 L628.10,461.33 L628.46,462.25 L628.81,460.47 L629.16,461.28 L629.51,462.02 L629.87,460.24 L630.22,461.33 L630.57,462.06 L630.92,463.15 L631.28,462.27 L631.63,460.00 L631.98,462.69 L632.33,460.61 L632.69,462.91 L633.04,463.24 L633.39,460.92 L633.74,462.82 L634.10,462.57 L634.45,462.62 L634.80,460.44 L635.15,460.81 L635.51,462.24 L635.86,462.56 L636.21,461.63 L636.56,462.77 L636.92,461.36 L637.27,460.37 L637.62,460.59 L637.97,462.93 L638.33,460.48 L638.68,461.55 L639.03,459.93 L639.38,460.74 L639.74,461.85 L640.09,464.39 L640.44,460.42 L640.79,462.60 L641.15,461.70 L641.50,460.73 L641.85,459.86 L642.20,462.73 L642.56,460.12 L642.91,462.38 L643.26,462.61 L643.61,459.71 L643.97,461.66 L644.32,462.15 L644.67,463.99 L645.02,462.78 L645.38,465.54 L645.73,463.03 L646.08,461.70 L646.43,462.10 L646.79,463.63 L647.14,460.42 L647.49,462.06 L647.84,463.07 L648.20,462.74 L648.55,463.85 L648.90,463.99 L649.25,464.85 L649.61,464.26 L649.96,465.66 L650.31,463.09 L650.66,463.31 L651.02,463.19 L651.37,462.41 L651.72,463.21 L652.07,460.38 L652.43,463.53 L652.78,462.59 L653.13,461.80 L653.48,462.78 L653.84,463.99 L654.19,464.52 L654.54,461.72 L654.89,462.71 L655.25,462.10 L655.60,464.94 L655.95,464.17 L656.30,462.56 L656.66,462.81 L657.01,462.77 L657.36,463.84 L657.71,461.84 L658.07,462.70 L658.42,461.83 L658.77,461.81 L659.12,463.26 L659.48,463.00 L659.83,462.71 L660.18,463.89 L660.53,463.18 L660.89,463.84 L661.24,464.97 L661.59,463.38 L661.94,462.73 L662.30,461.82 L662.65,461.88 L663.00,463.64 L663.35,464.13 L663.71,461.85 L664.06,463.50 L664.41,465.43 L664.76,465.94 L665.12,464.82 L665.47,461.26 L665.82,464.24 L666.17,461.66 L666.53,463.52 L666.88,463.56 L667.23,464.34 L667.58,461.18 L667.94,460.71 L668.29,463.31 L668.64,462.54 L668.99,464.91 L669.35,464.25 L669.70,463.13 L670.05,463.64 L670.40,462.62 L670.76,465.88 L671.11,460.97 L671.46,462.88 L671.81,465.42 L672.17,464.97 L672.52,465.75 L672.87,465.25 L673.22,462.58 L673.58,463.08 L673.93,461.66 L674.28,461.27 L674.63,460.11 L674.99,463.32 L675.34,464.59 L675.69,463.32 L676.04,461.53 L676.40,461.01 L676.75,462.68 L677.10,462.46 L677.45,460.71 L677.81,460.79 L678.16,464.48 L678.51,462.54" fill="none" stroke="#f3824f" stroke-width="1.4" stroke-linejoin="round" clip-path="url(#clipg)"/>
<rect x="532.00" y="349.00" width="148.00" height="120.00" fill="none" stroke="#3a3a3a" stroke-width="1"/>
<line x1="544.40" y1="361.60" x2="566.00" y2="361.60" stroke="#a3d6d6" stroke-width="1.3"/>
<line x1="544.40" y1="374.40" x2="566.00" y2="374.40" stroke="#f3824f" stroke-width="1.3"/>
<text x="570.40" y="365.00" font-size="10.2" fill="#231f20">1 M LiFSI in DME</text>
<text x="570.40" y="378.00" font-size="10.2" fill="#231f20">1 M LiFSI in</text>
<text x="570.60" y="390.30" font-size="10.2" fill="#231f20">DEA/FB (1:1 v/v)</text>
<text x="637.00" y="425.00" font-size="10.5" fill="#231f20">C<tspan font-size="7.5" dy="2.5">2</tspan><tspan dy="-2.5">HO</tspan><tspan font-size="7" dy="-4">-</tspan></text>
<text x="606.20" y="491.60" font-size="10.5" text-anchor="middle" fill="#231f20">Sputtering time (s)</text>
<text transform="translate(508.00 408.50) rotate(-90)" font-size="10.3" text-anchor="middle" fill="#231f20">Normalized intensity</text>
<text x="480.50" y="505.20" font-size="18.3" font-weight="bold" fill="#000">h</text>
<line x1="527.60" y1="617.50" x2="531.60" y2="617.50" stroke="#3a3a3a" stroke-width="0.9"/>
<text x="527.80" y="621.80" font-size="10.2" text-anchor="end" fill="#231f20">0</text>
<line x1="529.40" y1="607.90" x2="531.60" y2="607.90" stroke="#3a3a3a" stroke-width="0.8"/>
<line x1="527.60" y1="598.30" x2="531.60" y2="598.30" stroke="#3a3a3a" stroke-width="0.9"/>
<text x="527.80" y="602.60" font-size="10.2" text-anchor="end" fill="#231f20">500</text>
<line x1="529.40" y1="588.70" x2="531.60" y2="588.70" stroke="#3a3a3a" stroke-width="0.8"/>
<line x1="527.60" y1="579.10" x2="531.60" y2="579.10" stroke="#3a3a3a" stroke-width="0.9"/>
<text x="527.80" y="583.40" font-size="10.2" text-anchor="end" fill="#231f20">1000</text>
<line x1="529.40" y1="569.50" x2="531.60" y2="569.50" stroke="#3a3a3a" stroke-width="0.8"/>
<line x1="527.60" y1="559.90" x2="531.60" y2="559.90" stroke="#3a3a3a" stroke-width="0.9"/>
<text x="527.80" y="564.20" font-size="10.2" text-anchor="end" fill="#231f20">1500</text>
<line x1="529.40" y1="550.30" x2="531.60" y2="550.30" stroke="#3a3a3a" stroke-width="0.8"/>
<line x1="527.60" y1="540.70" x2="531.60" y2="540.70" stroke="#3a3a3a" stroke-width="0.9"/>
<text x="527.80" y="545.00" font-size="10.2" text-anchor="end" fill="#231f20">2000</text>
<line x1="529.40" y1="531.10" x2="531.60" y2="531.10" stroke="#3a3a3a" stroke-width="0.8"/>
<line x1="527.60" y1="521.50" x2="531.60" y2="521.50" stroke="#3a3a3a" stroke-width="0.9"/>
<text x="527.80" y="525.80" font-size="10.2" text-anchor="end" fill="#231f20">2500</text>
<line x1="529.40" y1="511.90" x2="531.60" y2="511.90" stroke="#3a3a3a" stroke-width="0.8"/>
<line x1="527.60" y1="502.30" x2="531.60" y2="502.30" stroke="#3a3a3a" stroke-width="0.9"/>
<text x="527.80" y="506.60" font-size="10.2" text-anchor="end" fill="#231f20">3000</text>
<line x1="532.40" y1="621.00" x2="532.40" y2="624.60" stroke="#3a3a3a" stroke-width="0.9"/>
<text x="532.40" y="633.00" font-size="10.5" text-anchor="middle" fill="#231f20">0</text>
<line x1="550.02" y1="621.00" x2="550.02" y2="623.20" stroke="#3a3a3a" stroke-width="0.8"/>
<line x1="567.65" y1="621.00" x2="567.65" y2="624.60" stroke="#3a3a3a" stroke-width="0.9"/>
<text x="567.65" y="633.00" font-size="10.5" text-anchor="middle" fill="#231f20">200</text>
<line x1="585.27" y1="621.00" x2="585.27" y2="623.20" stroke="#3a3a3a" stroke-width="0.8"/>
<line x1="602.90" y1="621.00" x2="602.90" y2="624.60" stroke="#3a3a3a" stroke-width="0.9"/>
<text x="602.90" y="633.00" font-size="10.5" text-anchor="middle" fill="#231f20">400</text>
<line x1="620.52" y1="621.00" x2="620.52" y2="623.20" stroke="#3a3a3a" stroke-width="0.8"/>
<line x1="638.15" y1="621.00" x2="638.15" y2="624.60" stroke="#3a3a3a" stroke-width="0.9"/>
<text x="638.15" y="633.00" font-size="10.5" text-anchor="middle" fill="#231f20">600</text>
<line x1="655.77" y1="621.00" x2="655.77" y2="623.20" stroke="#3a3a3a" stroke-width="0.8"/>
<line x1="673.40" y1="621.00" x2="673.40" y2="624.60" stroke="#3a3a3a" stroke-width="0.9"/>
<text x="673.40" y="633.00" font-size="10.5" text-anchor="middle" fill="#231f20">800</text>
<path d="M532.40,521.15 L532.75,534.55 L533.11,574.83 L533.46,594.07 L533.81,601.32 L534.16,602.90 L534.51,604.03 L534.87,604.14 L535.22,605.35 L535.57,604.57 L535.92,604.84 L536.28,604.96 L536.63,605.35 L536.98,605.28 L537.33,605.41 L537.69,605.29 L538.04,605.34 L538.39,605.58 L538.75,605.56 L539.10,605.21 L539.45,605.50 L539.80,605.35 L540.15,605.62 L540.51,606.41 L540.86,605.52 L541.21,605.76 L541.56,605.42 L541.92,605.61 L542.27,606.44 L542.62,605.98 L542.98,606.12 L543.33,606.99 L543.68,606.69 L544.03,606.82 L544.38,606.09 L544.74,606.06 L545.09,607.30 L545.44,607.01 L545.79,606.56 L546.15,606.85 L546.50,607.36 L546.85,606.62 L547.20,607.76 L547.56,606.62 L547.91,606.42 L548.26,606.77 L548.62,606.35 L548.97,607.68 L549.32,607.55 L549.67,607.21 L550.02,607.43 L550.38,607.40 L550.73,607.33 L551.08,607.56 L551.43,607.07 L551.79,606.61 L552.14,606.95 L552.49,607.63 L552.85,607.82 L553.20,607.73 L553.55,607.46 L553.90,607.35 L554.25,607.94 L554.61,606.89 L554.96,607.97 L555.31,607.61 L555.66,607.35 L556.02,607.43 L556.37,607.51 L556.72,607.97 L557.07,607.33 L557.43,607.45 L557.78,607.98 L558.13,607.66 L558.49,607.32 L558.84,607.80 L559.19,607.56 L559.54,608.04 L559.89,606.66 L560.25,607.78 L560.60,607.30 L560.95,606.91 L561.30,607.19 L561.66,607.33 L562.01,607.29 L562.36,607.94 L562.71,607.81 L563.07,607.82 L563.42,607.00 L563.77,607.68 L564.12,607.45 L564.48,607.86 L564.83,608.14 L565.18,607.40 L565.53,607.25 L565.89,607.60 L566.24,607.73 L566.59,607.72 L566.94,607.94 L567.30,608.36 L567.65,607.54 L568.00,607.99 L568.36,608.59 L568.71,608.65 L569.06,608.25 L569.41,607.14 L569.76,606.99 L570.12,607.63 L570.47,608.64 L570.82,608.51 L571.17,608.77 L571.53,608.57 L571.88,608.21 L572.23,607.97 L572.58,608.49 L572.94,608.72 L573.29,608.32 L573.64,609.04 L574.00,608.45 L574.35,608.44 L574.70,608.18 L575.05,608.85 L575.40,608.28 L575.76,608.09 L576.11,609.08 L576.46,608.95 L576.81,609.70 L577.17,608.82 L577.52,607.81 L577.87,608.34 L578.23,608.70 L578.58,609.12 L578.93,608.66 L579.28,608.59 L579.63,608.91 L579.99,609.44 L580.34,609.18 L580.69,608.98 L581.04,608.50 L581.40,608.47 L581.75,608.49 L582.10,608.57 L582.45,608.53 L582.81,608.78 L583.16,609.66 L583.51,609.45 L583.87,608.79 L584.22,608.94 L584.57,609.17 L584.92,608.85 L585.27,609.04 L585.63,609.09 L585.98,609.00 L586.33,608.80 L586.68,608.84 L587.04,609.38 L587.39,609.54 L587.74,610.01 L588.10,609.65 L588.45,609.82 L588.80,609.67 L589.15,608.94 L589.50,609.46 L589.86,609.11 L590.21,609.40 L590.56,609.30 L590.91,609.73 L591.27,609.79 L591.62,609.20 L591.97,609.25 L592.32,608.96 L592.68,609.16 L593.03,610.52 L593.38,610.21 L593.74,609.44 L594.09,609.10 L594.44,609.39 L594.79,609.88 L595.14,610.27 L595.50,609.69 L595.85,609.34 L596.20,609.31 L596.55,608.84 L596.91,610.02 L597.26,609.80 L597.61,609.84 L597.96,610.17 L598.32,610.56 L598.67,610.20 L599.02,609.69 L599.38,610.02 L599.73,610.30 L600.08,609.72 L600.43,610.07 L600.78,609.55 L601.14,610.35 L601.49,610.61 L601.84,609.74 L602.19,609.38 L602.55,610.24 L602.90,610.15 L603.25,609.88 L603.61,610.62 L603.96,610.66 L604.31,610.51 L604.66,610.44 L605.01,610.61 L605.37,610.85 L605.72,610.88 L606.07,609.97 L606.42,610.64 L606.78,611.31 L607.13,609.50 L607.48,609.89 L607.84,610.18 L608.19,610.47 L608.54,610.13 L608.89,609.89 L609.25,610.61 L609.60,610.79 L609.95,611.21 L610.30,610.19 L610.65,610.89 L611.01,610.63 L611.36,610.72 L611.71,611.29 L612.06,610.59 L612.42,610.34 L612.77,611.22 L613.12,610.55 L613.47,610.09 L613.83,610.72 L614.18,610.21 L614.53,609.94 L614.88,609.95 L615.24,610.96 L615.59,610.63 L615.94,610.48 L616.29,610.88 L616.65,610.63 L617.00,610.94 L617.35,610.10 L617.70,610.43 L618.06,611.16 L618.41,610.25 L618.76,610.91 L619.12,610.54 L619.47,610.32 L619.82,611.01 L620.17,609.65 L620.52,610.75 L620.88,610.63 L621.23,610.11 L621.58,611.47 L621.93,611.26 L622.29,610.71 L622.64,610.88 L622.99,610.77 L623.35,610.92 L623.70,610.99 L624.05,610.15 L624.40,610.73 L624.75,611.32 L625.11,610.70 L625.46,610.79 L625.81,611.13 L626.16,611.42 L626.52,611.91 L626.87,612.18 L627.22,611.48 L627.57,611.20 L627.93,611.09 L628.28,610.93 L628.63,609.64 L628.99,610.89 L629.34,610.75 L629.69,610.65 L630.04,610.84 L630.39,611.08 L630.75,610.67 L631.10,610.85 L631.45,611.08 L631.80,610.21 L632.16,610.84 L632.51,611.10 L632.86,611.53 L633.21,611.47 L633.57,611.07 L633.92,611.77 L634.27,611.47 L634.62,611.50 L634.98,612.01 L635.33,611.03 L635.68,611.15 L636.03,610.90 L636.39,611.19 L636.74,610.99 L637.09,611.19 L637.44,611.01 L637.80,610.81 L638.15,611.92 L638.50,611.24 L638.86,611.16 L639.21,611.28 L639.56,611.96 L639.91,611.66 L640.26,611.14 L640.62,611.07 L640.97,612.22 L641.32,612.07 L641.67,611.03 L642.03,611.56 L642.38,611.70 L642.73,611.05 L643.08,611.59 L643.44,611.62 L643.79,611.93 L644.14,611.97 L644.50,611.71 L644.85,611.11 L645.20,611.38 L645.55,610.64 L645.90,611.19 L646.26,611.74 L646.61,611.49 L646.96,611.73 L647.31,612.39 L647.67,612.64 L648.02,612.42 L648.37,611.33 L648.72,611.98 L649.08,611.85 L649.43,611.66 L649.78,612.27 L650.13,611.85 L650.49,612.79 L650.84,613.29 L651.19,611.64 L651.54,611.86 L651.90,612.58 L652.25,612.83 L652.60,612.46 L652.95,611.94 L653.31,611.78 L653.66,611.57 L654.01,612.69 L654.37,612.56 L654.72,612.96 L655.07,611.50 L655.42,612.37 L655.77,611.77 L656.13,612.19 L656.48,611.70 L656.83,611.84 L657.18,611.63 L657.54,612.45 L657.89,612.00 L658.24,611.83 L658.60,612.14 L658.95,612.05 L659.30,612.24 L659.65,612.66 L660.00,611.64 L660.36,612.28 L660.71,612.45 L661.06,612.17 L661.41,613.38 L661.77,613.26 L662.12,612.51 L662.47,612.58 L662.82,612.18 L663.18,612.04 L663.53,612.36 L663.88,612.32 L664.23,611.87 L664.59,612.44 L664.94,612.95 L665.29,612.65 L665.64,612.92 L666.00,612.20 L666.35,611.34 L666.70,611.73 L667.05,611.12 L667.41,612.06 L667.76,612.45 L668.11,612.35 L668.46,611.95 L668.82,611.92 L669.17,612.71 L669.52,612.22 L669.88,612.04 L670.23,613.29 L670.58,613.01 L670.93,613.25 L671.28,613.13 L671.64,612.98 L671.99,612.86 L672.34,612.32 L672.69,611.71 L673.05,612.40 L673.40,612.53 L673.75,612.62 L674.11,612.42 L674.46,612.84 L674.81,612.90 L675.16,612.29 L675.51,612.44 L675.87,612.80 L676.22,612.77 L676.57,612.68 L676.92,612.59 L677.28,612.88 L677.63,612.57 L677.98,612.90 L678.34,612.72 L678.69,612.63" fill="none" stroke="#a3d6d6" stroke-width="1.3" stroke-linejoin="round" clip-path="url(#cliph)"/>
<path d="M532.40,594.43 L532.75,602.48 L533.11,608.52 L533.46,612.03 L533.81,613.71 L534.16,615.47 L534.51,615.55 L534.87,615.02 L535.22,614.85 L535.57,615.11 L535.92,615.24 L536.28,615.18 L536.63,615.87 L536.98,616.05 L537.33,616.26 L537.69,615.91 L538.04,615.80 L538.39,615.59 L538.75,616.02 L539.10,615.69 L539.45,615.69 L539.80,615.74 L540.15,615.69 L540.51,615.49 L540.86,616.10 L541.21,615.72 L541.56,615.70 L541.92,615.61 L542.27,615.27 L542.62,615.85 L542.98,615.73 L543.33,615.77 L543.68,615.72 L544.03,615.55 L544.38,615.54 L544.74,615.71 L545.09,615.58 L545.44,615.54 L545.79,615.61 L546.15,615.83 L546.50,615.54 L546.85,615.68 L547.20,615.79 L547.56,615.86 L547.91,615.88 L548.26,615.30 L548.62,615.41 L548.97,615.63 L549.32,615.74 L549.67,615.66 L550.02,615.62 L550.38,615.47 L550.73,615.96 L551.08,615.84 L551.43,615.84 L551.79,615.65 L552.14,615.92 L552.49,615.86 L552.85,616.14 L553.20,615.32 L553.55,615.65 L553.90,615.73 L554.25,615.12 L554.61,615.73 L554.96,616.26 L555.31,615.47 L555.66,615.24 L556.02,615.26 L556.37,615.37 L556.72,615.22 L557.07,615.86 L557.43,616.33 L557.78,616.04 L558.13,615.51 L558.49,615.57 L558.84,615.75 L559.19,615.64 L559.54,615.44 L559.89,615.62 L560.25,615.66 L560.60,615.52 L560.95,615.67 L561.30,615.90 L561.66,616.03 L562.01,615.90 L562.36,615.85 L562.71,615.55 L563.07,615.53 L563.42,615.69 L563.77,615.72 L564.12,615.44 L564.48,615.55 L564.83,615.44 L565.18,615.76 L565.53,615.62 L565.89,615.74 L566.24,615.96 L566.59,616.24 L566.94,615.86 L567.30,615.56 L567.65,615.44 L568.00,615.63 L568.36,615.74 L568.71,616.07 L569.06,615.85 L569.41,616.00 L569.76,616.01 L570.12,616.11 L570.47,615.98 L570.82,615.92 L571.17,616.17 L571.53,615.83 L571.88,615.80 L572.23,615.51 L572.58,615.48 L572.94,615.69 L573.29,615.46 L573.64,615.85 L574.00,616.33 L574.35,616.00 L574.70,615.99 L575.05,616.15 L575.40,616.28 L575.76,615.63 L576.11,616.04 L576.46,616.01 L576.81,615.99 L577.17,615.79 L577.52,615.71 L577.87,615.50 L578.23,616.16 L578.58,616.04 L578.93,616.14 L579.28,615.87 L579.63,616.04 L579.99,615.98 L580.34,615.56 L580.69,615.86 L581.04,615.95 L581.40,615.63 L581.75,615.48 L582.10,616.25 L582.45,616.14 L582.81,616.43 L583.16,615.96 L583.51,616.12 L583.87,616.19 L584.22,615.84 L584.57,615.56 L584.92,615.69 L585.27,616.23 L585.63,616.13 L585.98,616.32 L586.33,615.46 L586.68,615.78 L587.04,616.18 L587.39,615.90 L587.74,615.34 L588.10,615.87 L588.45,616.20 L588.80,615.93 L589.15,615.76 L589.50,615.68 L589.86,615.32 L590.21,616.08 L590.56,615.82 L590.91,616.04 L591.27,616.36 L591.62,616.08 L591.97,615.80 L592.32,615.74 L592.68,615.89 L593.03,615.66 L593.38,615.83 L593.74,615.68 L594.09,615.81 L594.44,615.86 L594.79,616.14 L595.14,615.92 L595.50,615.84 L595.85,615.59 L596.20,615.72 L596.55,616.10 L596.91,615.70 L597.26,615.71 L597.61,615.72 L597.96,616.06 L598.32,616.03 L598.67,616.02 L599.02,616.13 L599.38,615.98 L599.73,616.30 L600.08,616.36 L600.43,615.86 L600.78,616.22 L601.14,615.57 L601.49,615.83 L601.84,616.10 L602.19,615.78 L602.55,616.16 L602.90,615.75 L603.25,616.16 L603.61,615.74 L603.96,616.03 L604.31,616.18 L604.66,615.68 L605.01,615.60 L605.37,615.97 L605.72,616.02 L606.07,616.28 L606.42,616.12 L606.78,615.85 L607.13,616.02 L607.48,616.07 L607.84,616.38 L608.19,615.94 L608.54,616.13 L608.89,615.83 L609.25,615.59 L609.60,615.91 L609.95,616.09 L610.30,616.03 L610.65,615.98 L611.01,616.19 L611.36,616.15 L611.71,616.60 L612.06,616.06 L612.42,616.14 L612.77,615.69 L613.12,616.03 L613.47,615.95 L613.83,615.89 L614.18,615.93 L614.53,615.63 L614.88,615.88 L615.24,615.94 L615.59,615.87 L615.94,615.96 L616.29,615.81 L616.65,616.16 L617.00,615.89 L617.35,616.36 L617.70,616.16 L618.06,616.25 L618.41,616.22 L618.76,616.06 L619.12,616.00 L619.47,615.93 L619.82,616.30 L620.17,615.68 L620.52,615.90 L620.88,616.04 L621.23,616.14 L621.58,615.81 L621.93,616.21 L622.29,616.09 L622.64,615.93 L622.99,616.10 L623.35,616.24 L623.70,616.33 L624.05,615.95 L624.40,615.96 L624.75,615.73 L625.11,615.68 L625.46,615.58 L625.81,616.25 L626.16,615.91 L626.52,616.22 L626.87,616.32 L627.22,616.33 L627.57,616.18 L627.93,615.78 L628.28,615.79 L628.63,615.77 L628.99,616.33 L629.34,615.64 L629.69,615.82 L630.04,615.67 L630.39,615.82 L630.75,615.91 L631.10,616.30 L631.45,616.12 L631.80,616.75 L632.16,616.34 L632.51,616.44 L632.86,616.08 L633.21,615.94 L633.57,616.08 L633.92,616.01 L634.27,616.14 L634.62,615.75 L634.98,616.21 L635.33,615.98 L635.68,616.47 L636.03,616.05 L636.39,616.00 L636.74,616.09 L637.09,615.99 L637.44,615.88 L637.80,616.06 L638.15,615.99 L638.50,615.62 L638.86,615.53 L639.21,615.57 L639.56,616.06 L639.91,615.79 L640.26,615.91 L640.62,616.07 L640.97,616.05 L641.32,615.79 L641.67,616.01 L642.03,616.22 L642.38,616.23 L642.73,616.01 L643.08,616.24 L643.44,616.23 L643.79,616.11 L644.14,616.08 L644.50,616.59 L644.85,616.41 L645.20,616.14 L645.55,615.89 L645.90,615.97 L646.26,616.15 L646.61,616.32 L646.96,616.14 L647.31,615.96 L647.67,615.83 L648.02,615.88 L648.37,616.32 L648.72,616.13 L649.08,615.75 L649.43,615.81 L649.78,615.98 L650.13,616.04 L650.49,616.18 L650.84,616.09 L651.19,615.94 L651.54,616.33 L651.90,616.30 L652.25,616.20 L652.60,616.41 L652.95,616.29 L653.31,616.22 L653.66,616.12 L654.01,615.95 L654.37,615.92 L654.72,616.03 L655.07,615.91 L655.42,616.21 L655.77,615.94 L656.13,616.23 L656.48,615.74 L656.83,616.11 L657.18,616.07 L657.54,616.14 L657.89,616.12 L658.24,616.13 L658.60,616.28 L658.95,616.28 L659.30,615.97 L659.65,615.82 L660.00,616.10 L660.36,615.83 L660.71,616.09 L661.06,616.16 L661.41,616.35 L661.77,616.11 L662.12,615.60 L662.47,616.24 L662.82,616.16 L663.18,615.88 L663.53,616.22 L663.88,616.07 L664.23,615.62 L664.59,616.11 L664.94,615.89 L665.29,615.62 L665.64,615.69 L666.00,616.38 L666.35,616.21 L666.70,616.10 L667.05,616.14 L667.41,616.25 L667.76,616.16 L668.11,616.23 L668.46,616.23 L668.82,616.18 L669.17,616.27 L669.52,616.24 L669.88,615.70 L670.23,615.81 L670.58,616.01 L670.93,616.42 L671.28,616.34 L671.64,615.97 L671.99,616.22 L672.34,616.21 L672.69,616.18 L673.05,616.23 L673.40,616.03 L673.75,615.91 L674.11,616.37 L674.46,616.20 L674.81,616.21 L675.16,616.45 L675.51,616.65 L675.87,616.06 L676.22,616.37 L676.57,616.24 L676.92,616.07 L677.28,615.71 L677.63,615.58 L677.98,615.82 L678.34,616.46 L678.69,616.95" fill="none" stroke="#a3d6d6" stroke-width="1.3" stroke-linejoin="round" clip-path="url(#cliph)"/>
<path d="M532.40,591.20 L532.75,590.23 L533.11,590.63 L533.46,590.74 L533.81,590.32 L534.16,591.06 L534.51,590.06 L534.87,590.79 L535.22,590.40 L535.57,591.06 L535.92,590.34 L536.28,589.70 L536.63,589.44 L536.98,589.72 L537.33,591.28 L537.69,590.63 L538.04,590.01 L538.39,589.13 L538.75,589.48 L539.10,588.96 L539.45,589.03 L539.80,589.49 L540.15,588.36 L540.51,588.33 L540.86,588.65 L541.21,588.30 L541.56,587.40 L541.92,588.08 L542.27,588.93 L542.62,588.00 L542.98,589.41 L543.33,588.46 L543.68,587.50 L544.03,587.59 L544.38,587.68 L544.74,588.31 L545.09,588.51 L545.44,587.82 L545.79,588.42 L546.15,586.63 L546.50,587.19 L546.85,586.48 L547.20,586.18 L547.56,586.76 L547.91,586.25 L548.26,586.45 L548.62,586.59 L548.97,586.80 L549.32,587.01 L549.67,586.51 L550.02,586.69 L550.38,587.54 L550.73,586.72 L551.08,586.70 L551.43,587.60 L551.79,586.57 L552.14,587.13 L552.49,587.37 L552.85,586.39 L553.20,587.92 L553.55,585.28 L553.90,586.77 L554.25,585.11 L554.61,586.95 L554.96,586.83 L555.31,587.47 L555.66,587.26 L556.02,586.96 L556.37,586.25 L556.72,586.81 L557.07,585.93 L557.43,586.53 L557.78,585.20 L558.13,585.75 L558.49,586.11 L558.84,586.14 L559.19,585.69 L559.54,586.93 L559.89,585.85 L560.25,586.44 L560.60,585.93 L560.95,585.63 L561.30,586.77 L561.66,586.46 L562.01,586.58 L562.36,586.37 L562.71,585.20 L563.07,584.53 L563.42,584.21 L563.77,585.54 L564.12,586.16 L564.48,586.15 L564.83,585.98 L565.18,585.33 L565.53,585.25 L565.89,586.53 L566.24,585.23 L566.59,585.04 L566.94,586.21 L567.30,586.66 L567.65,586.24 L568.00,586.79 L568.36,586.49 L568.71,586.31 L569.06,585.02 L569.41,585.22 L569.76,586.83 L570.12,585.92 L570.47,586.55 L570.82,585.92 L571.17,585.21 L571.53,585.16 L571.88,585.98 L572.23,585.22 L572.58,585.79 L572.94,585.74 L573.29,585.42 L573.64,585.62 L574.00,585.46 L574.35,586.55 L574.70,586.76 L575.05,586.91 L575.40,586.34 L575.76,586.54 L576.11,586.53 L576.46,585.77 L576.81,586.63 L577.17,586.96 L577.52,586.95 L577.87,586.87 L578.23,586.10 L578.58,586.29 L578.93,587.63 L579.28,587.53 L579.63,588.30 L579.99,586.90 L580.34,586.61 L580.69,588.27 L581.04,587.37 L581.40,587.55 L581.75,587.62 L582.10,587.74 L582.45,587.11 L582.81,586.56 L583.16,587.10 L583.51,586.29 L583.87,586.19 L584.22,586.52 L584.57,585.96 L584.92,585.56 L585.27,587.28 L585.63,586.84 L585.98,586.54 L586.33,586.38 L586.68,585.75 L587.04,586.92 L587.39,586.72 L587.74,587.16 L588.10,586.43 L588.45,587.74 L588.80,587.71 L589.15,586.95 L589.50,586.68 L589.86,587.34 L590.21,587.39 L590.56,586.52 L590.91,587.78 L591.27,587.57 L591.62,588.37 L591.97,587.38 L592.32,587.67 L592.68,588.32 L593.03,587.48 L593.38,587.88 L593.74,587.97 L594.09,587.35 L594.44,587.08 L594.79,587.73 L595.14,588.43 L595.50,588.16 L595.85,588.82 L596.20,588.21 L596.55,588.92 L596.91,588.88 L597.26,588.86 L597.61,588.11 L597.96,588.25 L598.32,588.65 L598.67,588.39 L599.02,588.80 L599.38,588.46 L599.73,588.14 L600.08,588.22 L600.43,588.74 L600.78,587.95 L601.14,588.39 L601.49,589.19 L601.84,589.17 L602.19,588.58 L602.55,589.54 L602.90,589.50 L603.25,589.64 L603.61,589.59 L603.96,589.58 L604.31,589.52 L604.66,588.73 L605.01,587.92 L605.37,589.14 L605.72,589.01 L606.07,588.25 L606.42,589.04 L606.78,589.68 L607.13,589.37 L607.48,589.54 L607.84,589.30 L608.19,589.72 L608.54,590.71 L608.89,590.40 L609.25,590.59 L609.60,589.95 L609.95,591.03 L610.30,590.82 L610.65,590.33 L611.01,590.08 L611.36,591.59 L611.71,590.22 L612.06,590.15 L612.42,590.48 L612.77,590.60 L613.12,591.76 L613.47,590.79 L613.83,590.72 L614.18,589.96 L614.53,590.35 L614.88,589.33 L615.24,590.69 L615.59,591.15 L615.94,589.49 L616.29,590.18 L616.65,591.21 L617.00,590.84 L617.35,590.60 L617.70,591.00 L618.06,590.80 L618.41,591.77 L618.76,591.30 L619.12,590.93 L619.47,591.12 L619.82,590.50 L620.17,590.56 L620.52,590.87 L620.88,590.89 L621.23,591.99 L621.58,592.04 L621.93,591.54 L622.29,592.05 L622.64,591.61 L622.99,591.50 L623.35,591.32 L623.70,592.45 L624.05,591.24 L624.40,591.17 L624.75,590.95 L625.11,591.33 L625.46,590.89 L625.81,592.91 L626.16,593.23 L626.52,592.91 L626.87,593.79 L627.22,592.50 L627.57,592.17 L627.93,591.99 L628.28,593.87 L628.63,592.48 L628.99,592.83 L629.34,593.07 L629.69,592.30 L630.04,593.17 L630.39,592.58 L630.75,592.93 L631.10,593.15 L631.45,591.60 L631.80,592.18 L632.16,591.63 L632.51,592.11 L632.86,591.52 L633.21,593.44 L633.57,592.53 L633.92,592.71 L634.27,592.29 L634.62,592.40 L634.98,592.57 L635.33,592.68 L635.68,591.58 L636.03,592.08 L636.39,592.56 L636.74,592.50 L637.09,592.85 L637.44,592.71 L637.80,593.41 L638.15,592.66 L638.50,592.53 L638.86,591.95 L639.21,593.10 L639.56,593.82 L639.91,593.85 L640.26,592.85 L640.62,593.54 L640.97,592.50 L641.32,593.77 L641.67,593.73 L642.03,593.99 L642.38,593.35 L642.73,593.45 L643.08,593.43 L643.44,592.41 L643.79,593.48 L644.14,593.80 L644.50,592.85 L644.85,592.71 L645.20,592.45 L645.55,592.55 L645.90,593.35 L646.26,593.67 L646.61,594.03 L646.96,592.65 L647.31,594.24 L647.67,593.56 L648.02,594.06 L648.37,594.14 L648.72,594.41 L649.08,594.46 L649.43,593.49 L649.78,594.76 L650.13,594.32 L650.49,593.68 L650.84,594.08 L651.19,594.10 L651.54,593.72 L651.90,594.53 L652.25,593.68 L652.60,593.26 L652.95,593.29 L653.31,593.34 L653.66,593.93 L654.01,593.29 L654.37,593.15 L654.72,595.27 L655.07,594.94 L655.42,594.29 L655.77,595.22 L656.13,594.54 L656.48,593.51 L656.83,594.37 L657.18,594.02 L657.54,594.74 L657.89,593.67 L658.24,593.86 L658.60,594.47 L658.95,594.20 L659.30,594.41 L659.65,593.90 L660.00,593.95 L660.36,593.88 L660.71,594.80 L661.06,594.90 L661.41,594.95 L661.77,594.06 L662.12,594.66 L662.47,594.51 L662.82,594.74 L663.18,594.78 L663.53,593.97 L663.88,595.18 L664.23,594.19 L664.59,594.18 L664.94,595.35 L665.29,594.73 L665.64,595.80 L666.00,595.00 L666.35,595.89 L666.70,594.81 L667.05,594.72 L667.41,595.10 L667.76,594.73 L668.11,594.82 L668.46,594.33 L668.82,594.05 L669.17,595.03 L669.52,595.18 L669.88,595.82 L670.23,595.26 L670.58,594.79 L670.93,596.01 L671.28,595.40 L671.64,594.70 L671.99,593.97 L672.34,594.59 L672.69,595.60 L673.05,594.87 L673.40,594.54 L673.75,594.90 L674.11,596.27 L674.46,596.18 L674.81,595.24 L675.16,594.52 L675.51,595.18 L675.87,595.37 L676.22,595.68 L676.57,594.95 L676.92,594.04 L677.28,595.55 L677.63,595.19 L677.98,596.11 L678.34,594.81 L678.69,597.05" fill="none" stroke="#f3824f" stroke-width="1.5" stroke-linejoin="round" clip-path="url(#cliph)"/>
<path d="M534.69,490.96 L535.04,495.82 L535.40,500.12 L535.75,502.99 L536.10,506.92 L536.45,510.81 L536.81,515.16 L537.16,519.68 L537.51,523.32 L537.86,527.27 L538.22,530.37 L538.57,534.39 L538.92,537.55 L539.27,540.88 L539.63,543.29 L539.98,546.08 L540.33,548.15 L540.68,550.15 L541.04,552.80 L541.39,554.61 L541.74,556.74 L542.09,557.89 L542.45,560.35 L542.80,560.96 L543.15,563.05 L543.50,565.26 L543.86,567.71 L544.21,568.10 L544.56,567.47 L544.91,568.89 L545.27,570.77 L545.62,571.66 L545.97,573.28 L546.32,572.79 L546.68,574.49 L547.03,575.17 L547.38,575.57 L547.73,576.75 L548.09,578.56 L548.44,577.81 L548.79,577.61 L549.14,579.09 L549.50,578.81 L549.85,579.41 L550.20,579.89 L550.55,580.56 L550.91,578.98 L551.26,580.24 L551.61,581.62 L551.96,580.92 L552.32,581.92 L552.67,581.69 L553.02,582.51 L553.37,583.89 L553.73,583.33 L554.08,583.73 L554.43,582.49 L554.78,582.95 L555.14,584.46 L555.49,584.56 L555.84,584.98 L556.19,586.12 L556.55,585.51 L556.90,586.12 L557.25,586.53 L557.60,585.81 L557.96,586.06 L558.31,586.92 L558.66,586.15 L559.01,586.70 L559.37,585.45 L559.72,587.85 L560.07,587.57 L560.42,588.11 L560.78,588.34 L561.13,588.12 L561.48,587.77 L561.83,588.94 L562.19,588.31 L562.54,587.99 L562.89,588.46 L563.24,589.05 L563.60,589.02 L563.95,589.82 L564.30,589.22 L564.65,588.97 L565.01,589.24 L565.36,589.80 L565.71,591.50 L566.06,590.32 L566.42,590.54 L566.77,589.57 L567.12,591.35 L567.47,590.27 L567.83,589.92 L568.18,591.10 L568.53,590.87 L568.88,590.07 L569.24,591.68 L569.59,590.93 L569.94,591.99 L570.29,592.65 L570.65,593.01 L571.00,591.93 L571.35,591.19 L571.70,592.27 L572.06,592.35 L572.41,593.03 L572.76,592.93 L573.11,592.13 L573.47,593.97 L573.82,593.22 L574.17,594.77 L574.52,593.95 L574.88,592.54 L575.23,593.33 L575.58,594.00 L575.93,593.20 L576.29,594.56 L576.64,594.82 L576.99,595.44 L577.34,594.54 L577.70,594.35 L578.05,595.10 L578.40,595.15 L578.75,595.79 L579.11,595.73 L579.46,596.05 L579.81,595.81 L580.16,595.99 L580.52,596.71 L580.87,595.56 L581.22,595.51 L581.57,595.20 L581.93,596.55 L582.28,596.29 L582.63,596.52 L582.98,595.76 L583.34,596.23 L583.69,596.30 L584.04,596.34 L584.39,596.61 L584.75,596.50 L585.10,596.90 L585.45,597.65 L585.80,597.70 L586.16,597.36 L586.51,597.48 L586.86,597.34 L587.21,598.26 L587.57,598.60 L587.92,598.67 L588.27,598.47 L588.62,598.69 L588.98,597.85 L589.33,598.48 L589.68,599.49 L590.03,598.33 L590.39,598.43 L590.74,598.19 L591.09,598.29 L591.44,599.73 L591.80,599.27 L592.15,598.73 L592.50,599.13 L592.85,599.66 L593.21,598.04 L593.56,599.77 L593.91,598.60 L594.26,599.09 L594.62,598.39 L594.97,599.20 L595.32,599.26 L595.67,598.07 L596.03,598.44 L596.38,599.02 L596.73,599.39 L597.08,598.80 L597.44,600.13 L597.79,600.08 L598.14,599.71 L598.49,600.32 L598.85,601.21 L599.20,600.30 L599.55,600.36 L599.90,599.92 L600.26,600.66 L600.61,600.34 L600.96,600.93 L601.31,600.59 L601.67,600.75 L602.02,600.05 L602.37,599.68 L602.72,600.63 L603.08,600.44 L603.43,600.76 L603.78,600.91 L604.13,600.91 L604.49,600.52 L604.84,599.95 L605.19,600.62 L605.54,601.56 L605.90,601.39 L606.25,600.91 L606.60,600.43 L606.95,601.36 L607.31,600.00 L607.66,600.49 L608.01,600.82 L608.36,601.02 L608.72,602.11 L609.07,600.78 L609.42,601.31 L609.77,600.97 L610.13,601.52 L610.48,602.20 L610.83,601.06 L611.18,601.46 L611.54,602.12 L611.89,601.40 L612.24,601.16 L612.59,601.30 L612.95,601.51 L613.30,602.04 L613.65,601.49 L614.00,602.06 L614.36,601.75 L614.71,601.39 L615.06,601.73 L615.41,601.29 L615.77,602.13 L616.12,603.49 L616.47,602.95 L616.82,602.02 L617.18,602.04 L617.53,602.58 L617.88,602.53 L618.23,601.48 L618.59,601.04 L618.94,601.33 L619.29,601.76 L619.64,601.83 L620.00,602.57 L620.35,602.55 L620.70,601.50 L621.05,601.28 L621.41,602.88 L621.76,602.62 L622.11,601.74 L622.46,602.46 L622.82,602.78 L623.17,603.61 L623.52,601.88 L623.87,602.63 L624.23,602.83 L624.58,602.02 L624.93,602.62 L625.28,602.76 L625.64,603.54 L625.99,602.30 L626.34,602.84 L626.69,601.69 L627.05,601.86 L627.40,603.42 L627.75,603.57 L628.10,603.34 L628.46,603.18 L628.81,603.24 L629.16,603.06 L629.51,604.26 L629.87,604.61 L630.22,603.92 L630.57,603.97 L630.92,604.01 L631.28,603.55 L631.63,604.24 L631.98,603.13 L632.33,603.77 L632.69,604.74 L633.04,603.59 L633.39,603.75 L633.74,604.03 L634.10,604.54 L634.45,604.13 L634.80,604.42 L635.15,603.84 L635.51,603.92 L635.86,604.56 L636.21,603.44 L636.56,603.00 L636.92,603.77 L637.27,604.19 L637.62,603.89 L637.97,604.89 L638.33,604.01 L638.68,603.43 L639.03,603.09 L639.38,603.73 L639.74,604.72 L640.09,604.30 L640.44,604.40 L640.79,605.59 L641.15,604.61 L641.50,604.09 L641.85,603.96 L642.20,605.34 L642.56,605.18 L642.91,604.25 L643.26,604.69 L643.61,604.28 L643.97,604.52 L644.32,604.82 L644.67,604.44 L645.02,604.18 L645.38,604.23 L645.73,605.40 L646.08,605.16 L646.43,604.88 L646.79,604.66 L647.14,605.26 L647.49,605.10 L647.84,605.02 L648.20,605.28 L648.55,605.82 L648.90,605.52 L649.25,604.72 L649.61,604.29 L649.96,604.20 L650.31,605.64 L650.66,605.98 L651.02,605.72 L651.37,605.58 L651.72,604.33 L652.07,605.05 L652.43,604.62 L652.78,605.39 L653.13,605.77 L653.48,605.44 L653.84,605.48 L654.19,604.48 L654.54,605.13 L654.89,605.37 L655.25,606.26 L655.60,605.42 L655.95,604.84 L656.30,605.49 L656.66,605.45 L657.01,605.99 L657.36,605.95 L657.71,606.03 L658.07,605.44 L658.42,605.89 L658.77,605.91 L659.12,606.18 L659.48,605.84 L659.83,606.55 L660.18,606.48 L660.53,606.18 L660.89,606.21 L661.24,606.56 L661.59,605.33 L661.94,606.34 L662.30,606.16 L662.65,606.20 L663.00,606.51 L663.35,606.62 L663.71,606.86 L664.06,606.24 L664.41,606.97 L664.76,606.62 L665.12,605.74 L665.47,606.81 L665.82,606.18 L666.17,605.88 L666.53,607.27 L666.88,605.39 L667.23,606.88 L667.58,605.92 L667.94,606.17 L668.29,606.12 L668.64,606.99 L668.99,606.92 L669.35,606.63 L669.70,606.18 L670.05,607.06 L670.40,606.34 L670.76,605.78 L671.11,606.64 L671.46,606.04 L671.81,605.36 L672.17,606.37 L672.52,605.85 L672.87,607.11 L673.22,607.22 L673.58,606.94 L673.93,607.10 L674.28,607.20 L674.63,607.46 L674.99,607.35 L675.34,606.99 L675.69,607.55 L676.04,606.39 L676.40,606.95 L676.75,607.73 L677.10,607.92 L677.45,607.42 L677.81,606.65 L678.16,606.80 L678.51,607.83" fill="none" stroke="#f3824f" stroke-width="1.5" stroke-linejoin="round" clip-path="url(#cliph)"/>
<rect x="531.60" y="500.50" width="148.80" height="120.50" fill="none" stroke="#3a3a3a" stroke-width="1"/>
<line x1="544.40" y1="511.00" x2="566.00" y2="511.00" stroke="#a3d6d6" stroke-width="1.3"/>
<line x1="544.40" y1="523.60" x2="566.00" y2="523.60" stroke="#f3824f" stroke-width="1.3"/>
<text x="571.00" y="514.30" font-size="10.2" fill="#231f20">1 M LiFSI in DME</text>
<text x="571.00" y="527.20" font-size="10.2" fill="#231f20">1 M LiFSI in</text>
<text x="573.60" y="539.30" font-size="10.2" fill="#231f20">DEA/FB (1:1 v/v)</text>
<text x="623.00" y="590.00" font-size="10.5" fill="#231f20">LiO<tspan font-size="7" dy="-4">-</tspan></text>
<text x="659.00" y="606.00" font-size="10.5" fill="#231f20">LiF<tspan font-size="7.5" dy="2.5">2</tspan><tspan font-size="7" dy="-6.5">-</tspan></text>
<text x="560.40" y="608.00" font-size="10.5" fill="#231f20">LiO<tspan font-size="7" dy="-4">-</tspan></text>
<text x="540.60" y="615.00" font-size="10.5" fill="#231f20">LiF<tspan font-size="7.5" dy="2.5">2</tspan><tspan font-size="7" dy="-6.5">-</tspan></text>
<text x="606.70" y="643.60" font-size="10.5" text-anchor="middle" fill="#231f20">Sputtering time (s)</text>
<text transform="translate(502.00 561.00) rotate(-90)" font-size="10.3" text-anchor="middle" fill="#231f20">Normalized intensity</text>
<text x="1.80" y="355.30" font-size="18.3" font-weight="bold" fill="#000">e</text>
<rect x="16.70" y="352.50" width="450.30" height="127.60" fill="none" stroke="#2a9ec3" stroke-width="2.5" stroke-dasharray="7 2"/>
<text x="105.80" y="366.20" font-size="13.7" fill="#231f20">1 M LiFSI in DME</text>
<g filter="url(#sn1)">
<path d="M22.30,383.20 L62.40,375.20 L102.60,384.00 L99.70,430.00 L62.40,454.00 L26.00,431.40Z" fill="url(#cg1)"/>
<path d="M62.40,375.20 L102.60,384.00 L62.20,394.50 L22.30,383.20Z" fill="url(#cg2)"/>
</g>
<path d="M62.40,375.20 L102.60,384.00 M102.60,384.00 L62.20,394.50 M62.20,394.50 L22.30,383.20 M22.30,383.20 L62.40,375.20 M22.30,383.20 L26.00,431.40 M62.20,394.50 L62.40,454.00 M102.60,384.00 L99.70,430.00 M26.00,431.40 L62.40,454.00 M62.40,454.00 L99.70,430.00 M26.00,431.40 L62.40,415.00 M62.40,415.00 L99.70,430.00 M62.40,375.20 L62.40,415.00" fill="none" stroke="#c9c2c2" stroke-width="0.55" stroke-opacity="0.85"/>
<g filter="url(#sn2)">
<path d="M123.10,379.60 L164.00,371.10 L205.60,379.60 L201.20,430.70 L164.70,453.30 L127.50,430.70Z" fill="url(#cg3)"/>
<path d="M164.00,371.10 L205.60,379.60 L164.00,393.50 L123.10,379.60Z" fill="url(#cg4)"/>
</g>
<path d="M164.00,371.10 L205.60,379.60 M205.60,379.60 L164.00,393.50 M164.00,393.50 L123.10,379.60 M123.10,379.60 L164.00,371.10 M123.10,379.60 L127.50,430.70 M164.00,393.50 L164.70,453.30 M205.60,379.60 L201.20,430.70 M127.50,430.70 L164.70,453.30 M164.70,453.30 L201.20,430.70 M127.50,430.70 L164.00,415.40 M164.00,415.40 L201.20,430.70 M164.00,371.10 L164.00,415.40" fill="none" stroke="#c9c2c2" stroke-width="0.55" stroke-opacity="0.85"/>
<g filter="url(#sn3)">
<path d="M223.90,382.20 L265.50,373.00 L307.00,382.50 L303.40,431.40 L265.50,456.20 L229.00,432.90Z" fill="url(#cg5)"/>
<path d="M265.50,373.00 L307.00,382.50 L265.50,396.00 L223.90,382.20Z" fill="url(#cg6)"/>
</g>
<path d="M265.50,373.00 L307.00,382.50 M307.00,382.50 L265.50,396.00 M265.50,396.00 L223.90,382.20 M223.90,382.20 L265.50,373.00 M223.90,382.20 L229.00,432.90 M265.50,396.00 L265.50,456.20 M307.00,382.50 L303.40,431.40 M229.00,432.90 L265.50,456.20 M265.50,456.20 L303.40,431.40 M229.00,432.90 L265.50,416.00 M265.50,416.00 L303.40,431.40 M265.50,373.00 L265.50,416.00" fill="none" stroke="#c9c2c2" stroke-width="0.55" stroke-opacity="0.85"/>
<text x="45.60" y="471.00" font-size="11.8" fill="#231f20">C<tspan font-size="8" dy="2.8">2</tspan><tspan dy="-2.8">HO</tspan><tspan font-size="7.5" dy="-4.5">-</tspan></text>
<text x="159.60" y="471.00" font-size="11.8" fill="#231f20">LiF<tspan font-size="8" dy="2.8">2</tspan><tspan font-size="7.5" dy="-7.3">-</tspan></text>
<text x="258.00" y="471.00" font-size="11.8" fill="#231f20">LiO<tspan font-size="7.5" dy="-4.5">-</tspan></text>
<rect x="326.30" y="373.50" width="13.60" height="84.00" fill="url(#cbar)" stroke="#cfdcf0" stroke-width="0.6"/>
<text x="333.10" y="366.90" font-size="11.5" text-anchor="middle" fill="#231f20">max</text>
<text x="332.60" y="470.80" font-size="11.5" text-anchor="middle" fill="#231f20">min</text>
<text transform="translate(350.20 364.50) rotate(90)" font-size="11.8" fill="#231f20">Intensity (arb. units.)</text>
<line x1="410.40" y1="399.60" x2="435.47" y2="406.59" stroke="#e8262b" stroke-width="2.1"/>
<path d="M439.80,407.80 L433.80,408.83 L435.20,403.82Z" fill="#e8262b"/>
<line x1="410.40" y1="399.60" x2="385.31" y2="407.20" stroke="#1ba447" stroke-width="2.1"/>
<path d="M381.00,408.50 L385.51,404.42 L387.02,409.39Z" fill="#1ba447"/>
<line x1="410.40" y1="399.60" x2="410.40" y2="422.10" stroke="#1b237a" stroke-width="2.1"/>
<path d="M410.40,426.60 L407.80,421.10 L413.00,421.10Z" fill="#1b237a"/>
<text x="387.00" y="401.00" font-size="11.5" text-anchor="middle" fill="#231f20" transform="rotate(-17 387.00 401.00)">Y:50 µm</text>
<text x="438.50" y="402.50" font-size="11.5" text-anchor="middle" fill="#231f20" transform="rotate(17 438.50 402.50)">X:50 µm</text>
<text x="412.00" y="441.60" font-size="11.5" text-anchor="middle" fill="#231f20">Z:840 nm</text>
<text x="3.00" y="489.00" font-size="18.3" font-weight="bold" fill="#000">f</text>
<rect x="17.60" y="491.70" width="449.20" height="138.90" fill="none" stroke="#2a9ec3" stroke-width="2.5" stroke-dasharray="7 2"/>
<text x="120.50" y="509.20" font-size="13.7" fill="#231f20">1 M LiFSI in DEA/FB (1:1 v/v)</text>
<g filter="url(#sn4)">
<path d="M23.00,526.30 L63.20,518.20 L104.00,526.30 L100.40,576.60 L63.20,598.00 L27.40,575.90Z" fill="url(#cg7)"/>
<path d="M63.20,518.20 L104.00,526.30 L63.20,539.40 L23.00,526.30Z" fill="url(#cg8)"/>
</g>
<path d="M63.20,518.20 L104.00,526.30 M104.00,526.30 L63.20,539.40 M63.20,539.40 L23.00,526.30 M23.00,526.30 L63.20,518.20 M23.00,526.30 L27.40,575.90 M63.20,539.40 L63.20,598.00 M104.00,526.30 L100.40,576.60 M27.40,575.90 L63.20,598.00 M63.20,598.00 L100.40,576.60 M27.40,575.90 L63.20,559.90 M63.20,559.90 L100.40,576.60 M63.20,518.20 L63.20,559.90" fill="none" stroke="#c9c2c2" stroke-width="0.55" stroke-opacity="0.85"/>
<g filter="url(#sn5)">
<path d="M163.30,521.20 L204.90,530.00 L163.30,543.00 L122.40,530.40Z" fill="url(#cg9)"/>
<path d="M122.40,530.40 L163.30,543.00 L164.00,603.60 L126.80,581.00Z" fill="url(#cg10)"/>
<path d="M122.40,530.40 L163.30,543.00 L164.00,603.60 L126.80,581.00Z" fill="url(#cg11)"/>
<path d="M163.30,543.00 L204.90,530.00 L201.20,581.00 L164.00,603.60Z" fill="url(#cg12)"/>
<path d="M163.30,543.00 L204.90,530.00 L201.20,581.00 L164.00,603.60Z" fill="url(#cg13)"/>
</g>
<path d="M163.30,521.20 L204.90,530.00 M204.90,530.00 L163.30,543.00 M163.30,543.00 L122.40,530.40 M122.40,530.40 L163.30,521.20 M122.40,530.40 L126.80,581.00 M163.30,543.00 L164.00,603.60 M204.90,530.00 L201.20,581.00 M126.80,581.00 L164.00,603.60 M164.00,603.60 L201.20,581.00 M126.80,581.00 L163.30,562.00 M163.30,562.00 L201.20,581.00 M163.30,521.20 L163.30,562.00" fill="none" stroke="#c9c2c2" stroke-width="0.55" stroke-opacity="0.85"/>
<path d="M163.30,521.20 L204.90,530.00 L163.30,543.00 L122.40,530.40Z" fill="#000" fill-opacity="0.37" filter="url(#sp6)"/>
<path d="M163.30,521.20 L204.90,530.00 L163.30,543.00 L122.40,530.40Z" fill="#000" fill-opacity="0.38" filter="url(#sp7)"/>
<path d="M163.30,521.20 L204.90,530.00 L163.30,543.00 L122.40,530.40Z" fill="#000" fill-opacity="0.25" filter="url(#sp8)"/>
<g filter="url(#sn9)">
<path d="M271.30,521.20 L310.00,530.00 L271.30,544.00 L229.70,530.70Z" fill="url(#cg14)"/>
<path d="M229.70,530.70 L271.30,544.00 L271.30,604.40 L234.00,581.80Z" fill="url(#cg15)"/>
<path d="M271.30,544.00 L310.00,530.00 L306.40,582.50 L271.30,604.40Z" fill="url(#cg16)"/>
</g>
<path d="M271.30,521.20 L310.00,530.00 M310.00,530.00 L271.30,544.00 M271.30,544.00 L229.70,530.70 M229.70,530.70 L271.30,521.20 M229.70,530.70 L234.00,581.80 M271.30,544.00 L271.30,604.40 M310.00,530.00 L306.40,582.50 M234.00,581.80 L271.30,604.40 M271.30,604.40 L306.40,582.50 M234.00,581.80 L271.30,563.00 M271.30,563.00 L306.40,582.50 M271.30,521.20 L271.30,563.00" fill="none" stroke="#c9c2c2" stroke-width="0.55" stroke-opacity="0.85"/>
<text x="37.20" y="618.60" font-size="11.8" fill="#231f20">C<tspan font-size="8" dy="2.8">2</tspan><tspan dy="-2.8">HO</tspan><tspan font-size="7.5" dy="-4.5">-</tspan></text>
<text x="155.00" y="618.60" font-size="11.8" fill="#231f20">LiF<tspan font-size="8" dy="2.8">2</tspan><tspan font-size="7.5" dy="-7.3">-</tspan></text>
<text x="263.30" y="618.60" font-size="11.8" fill="#231f20">LiO<tspan font-size="7.5" dy="-4.5">-</tspan></text>
<rect x="324.00" y="516.50" width="13.70" height="83.90" fill="url(#cbar)" stroke="#cfdcf0" stroke-width="0.6"/>
<text x="330.85" y="503.60" font-size="11.5" text-anchor="middle" fill="#231f20">max</text>
<text x="330.35" y="613.30" font-size="11.5" text-anchor="middle" fill="#231f20">min</text>
<text transform="translate(348.00 503.60) rotate(90)" font-size="11.8" fill="#231f20">Intensity (arb. units.)</text>
<line x1="407.50" y1="542.50" x2="432.66" y2="549.49" stroke="#e8262b" stroke-width="2.1"/>
<path d="M437.00,550.70 L431.00,551.73 L432.40,546.72Z" fill="#e8262b"/>
<line x1="407.50" y1="542.50" x2="383.29" y2="550.14" stroke="#1ba447" stroke-width="2.1"/>
<path d="M379.00,551.50 L383.46,547.36 L385.03,552.32Z" fill="#1ba447"/>
<line x1="407.50" y1="542.50" x2="407.50" y2="565.10" stroke="#1b237a" stroke-width="2.1"/>
<path d="M407.50,569.60 L404.90,564.10 L410.10,564.10Z" fill="#1b237a"/>
<text x="384.40" y="543.60" font-size="11.5" text-anchor="middle" fill="#231f20" transform="rotate(-17 384.40 543.60)">Y:50 µm</text>
<text x="436.00" y="544.80" font-size="11.5" text-anchor="middle" fill="#231f20" transform="rotate(17 436.00 544.80)">X:50 µm</text>
<text x="410.00" y="584.20" font-size="11.5" text-anchor="middle" fill="#231f20">Z:840 nm</text>
<text x="7.60" y="658.20" font-size="18.3" font-weight="bold" fill="#000">i</text>
<circle cx="35.00" cy="696.00" r="24.70" fill="none" stroke="#6a6a6a" stroke-width="0.75" stroke-dasharray="2.2 1.6"/>
<ellipse cx="33.90" cy="664.90" rx="8.80" ry="2.10" fill="#f2a877"/>
<ellipse cx="14.80" cy="671.40" rx="6.00" ry="2.40" fill="#6ecbe0" transform="rotate(-36 14.80 671.40)"/>
<ellipse cx="53.70" cy="670.90" rx="6.00" ry="2.40" fill="#6ecbe0" transform="rotate(31 53.70 670.90)"/>
<ellipse cx="6.20" cy="688.90" rx="2.30" ry="8.80" fill="#f2a877" transform="rotate(8 6.20 688.90)"/>
<ellipse cx="63.50" cy="687.80" rx="2.30" ry="8.80" fill="#f2a877" transform="rotate(-12 63.50 687.80)"/>
<ellipse cx="8.40" cy="708.60" rx="2.30" ry="6.00" fill="#6ecbe0" transform="rotate(-20 8.40 708.60)"/>
<ellipse cx="64.00" cy="708.10" rx="2.30" ry="6.00" fill="#6ecbe0" transform="rotate(20 64.00 708.10)"/>
<ellipse cx="23.50" cy="686.20" rx="2.40" ry="8.60" fill="#f2a877" transform="rotate(-18 23.50 686.20)"/>
<ellipse cx="35.80" cy="687.80" rx="2.40" ry="8.30" fill="#f2a877" transform="rotate(21 35.80 687.80)"/>
<ellipse cx="47.80" cy="690.60" rx="2.40" ry="8.30" fill="#f2a877" transform="rotate(-9 47.80 690.60)"/>
<ellipse cx="39.60" cy="705.60" rx="8.50" ry="2.40" fill="#f2a877" transform="rotate(29 39.60 705.60)"/>
<ellipse cx="24.60" cy="708.10" rx="5.60" ry="2.30" fill="#6ecbe0" transform="rotate(-53 24.60 708.10)"/>
<circle cx="28.2" cy="698.8" r="3.0" fill="#a65ac6"/>
<circle cx="49.8" cy="703.5" r="3.0" fill="#a65ac6"/>
<text x="11.80" y="730.20" font-size="10.2" fill="#231f20">Solvent-rich</text>
<text x="119.80" y="680.20" font-size="10.3" text-anchor="middle" fill="#231f20">Organic-rich</text>
<text x="119.80" y="692.80" font-size="10.3" text-anchor="middle" fill="#231f20">SEI</text>
<rect x="85.60" y="697.20" width="6.36" height="6.43" fill="#d6d6d6"/>
<rect x="91.46" y="697.20" width="6.36" height="6.43" fill="#d6d6d6"/>
<rect x="97.32" y="697.20" width="6.36" height="6.43" fill="#6dcbe0"/>
<rect x="103.18" y="697.20" width="6.36" height="6.43" fill="#d6d6d6"/>
<rect x="109.04" y="697.20" width="6.36" height="6.43" fill="#f9b8bc"/>
<rect x="114.90" y="697.20" width="6.36" height="6.43" fill="#d6d6d6"/>
<rect x="120.76" y="697.20" width="6.36" height="6.43" fill="#d6d6d6"/>
<rect x="126.62" y="697.20" width="6.36" height="6.43" fill="#6dcbe0"/>
<rect x="132.48" y="697.20" width="6.36" height="6.43" fill="#d6d6d6"/>
<rect x="138.34" y="697.20" width="6.36" height="6.43" fill="#d6d6d6"/>
<rect x="144.20" y="697.20" width="5.86" height="6.43" fill="#d6d6d6"/>
<rect x="85.60" y="703.13" width="6.36" height="6.43" fill="#f9b8bc"/>
<rect x="91.46" y="703.13" width="6.36" height="6.43" fill="#6dcbe0"/>
<rect x="97.32" y="703.13" width="6.36" height="6.43" fill="#d6d6d6"/>
<rect x="103.18" y="703.13" width="6.36" height="6.43" fill="#f9b8bc"/>
<rect x="109.04" y="703.13" width="6.36" height="6.43" fill="#d6d6d6"/>
<rect x="114.90" y="703.13" width="6.36" height="6.43" fill="#6dcbe0"/>
<rect x="120.76" y="703.13" width="6.36" height="6.43" fill="#d6d6d6"/>
<rect x="126.62" y="703.13" width="6.36" height="6.43" fill="#f9b8bc"/>
<rect x="132.48" y="703.13" width="6.36" height="6.43" fill="#f9b8bc"/>
<rect x="138.34" y="703.13" width="6.36" height="6.43" fill="#d6d6d6"/>
<rect x="144.20" y="703.13" width="5.86" height="6.43" fill="#f9b8bc"/>
<rect x="85.60" y="709.06" width="6.36" height="5.93" fill="#d6d6d6"/>
<rect x="91.46" y="709.06" width="6.36" height="5.93" fill="#f9b8bc"/>
<rect x="97.32" y="709.06" width="6.36" height="5.93" fill="#f9b8bc"/>
<rect x="103.18" y="709.06" width="6.36" height="5.93" fill="#d6d6d6"/>
<rect x="109.04" y="709.06" width="6.36" height="5.93" fill="#f9b8bc"/>
<rect x="114.90" y="709.06" width="6.36" height="5.93" fill="#d6d6d6"/>
<rect x="120.76" y="709.06" width="6.36" height="5.93" fill="#6dcbe0"/>
<rect x="126.62" y="709.06" width="6.36" height="5.93" fill="#d6d6d6"/>
<rect x="132.48" y="709.06" width="6.36" height="5.93" fill="#f9b8bc"/>
<rect x="138.34" y="709.06" width="6.36" height="5.93" fill="#f9b8bc"/>
<rect x="144.20" y="709.06" width="5.86" height="5.93" fill="#d6d6d6"/>
<rect x="84" y="715" width="69.8" height="4.6" fill="#b2b2b2"/>
<text x="255.30" y="681.00" font-size="10.3" fill="#231f20">Organic-inorganic</text>
<text x="295.40" y="693.00" font-size="10.3" text-anchor="middle" fill="#231f20">gradient SEI</text>
<rect x="259.10" y="698.00" width="6.31" height="6.33" fill="#d6d6d6"/>
<rect x="264.91" y="698.00" width="6.31" height="6.33" fill="#f9b8bc"/>
<rect x="270.72" y="698.00" width="6.31" height="6.33" fill="#d6d6d6"/>
<rect x="276.53" y="698.00" width="6.31" height="6.33" fill="#6dcbe0"/>
<rect x="282.34" y="698.00" width="6.31" height="6.33" fill="#d6d6d6"/>
<rect x="288.15" y="698.00" width="6.31" height="6.33" fill="#f9b8bc"/>
<rect x="293.96" y="698.00" width="6.31" height="6.33" fill="#d6d6d6"/>
<rect x="299.77" y="698.00" width="6.31" height="6.33" fill="#d6d6d6"/>
<rect x="305.58" y="698.00" width="6.31" height="6.33" fill="#6dcbe0"/>
<rect x="311.39" y="698.00" width="6.31" height="6.33" fill="#d6d6d6"/>
<rect x="317.20" y="698.00" width="5.81" height="6.33" fill="#d6d6d6"/>
<rect x="259.10" y="703.83" width="6.31" height="6.33" fill="#f9b8bc"/>
<rect x="264.91" y="703.83" width="6.31" height="6.33" fill="#d6d6d6"/>
<rect x="270.72" y="703.83" width="6.31" height="6.33" fill="#f9b8bc"/>
<rect x="276.53" y="703.83" width="6.31" height="6.33" fill="#6dcbe0"/>
<rect x="282.34" y="703.83" width="6.31" height="6.33" fill="#f9b8bc"/>
<rect x="288.15" y="703.83" width="6.31" height="6.33" fill="#6dcbe0"/>
<rect x="293.96" y="703.83" width="6.31" height="6.33" fill="#f9b8bc"/>
<rect x="299.77" y="703.83" width="6.31" height="6.33" fill="#6dcbe0"/>
<rect x="305.58" y="703.83" width="6.31" height="6.33" fill="#f9b8bc"/>
<rect x="311.39" y="703.83" width="6.31" height="6.33" fill="#d6d6d6"/>
<rect x="317.20" y="703.83" width="5.81" height="6.33" fill="#f9b8bc"/>
<rect x="259.10" y="709.66" width="6.31" height="5.83" fill="#f9b8bc"/>
<rect x="264.91" y="709.66" width="6.31" height="5.83" fill="#f9b8bc"/>
<rect x="270.72" y="709.66" width="6.31" height="5.83" fill="#6dcbe0"/>
<rect x="276.53" y="709.66" width="6.31" height="5.83" fill="#f9b8bc"/>
<rect x="282.34" y="709.66" width="6.31" height="5.83" fill="#f9b8bc"/>
<rect x="288.15" y="709.66" width="6.31" height="5.83" fill="#f9b8bc"/>
<rect x="293.96" y="709.66" width="6.31" height="5.83" fill="#6dcbe0"/>
<rect x="299.77" y="709.66" width="6.31" height="5.83" fill="#f9b8bc"/>
<rect x="305.58" y="709.66" width="6.31" height="5.83" fill="#f9b8bc"/>
<rect x="311.39" y="709.66" width="6.31" height="5.83" fill="#6dcbe0"/>
<rect x="317.20" y="709.66" width="5.81" height="5.83" fill="#d6d6d6"/>
<rect x="258" y="715.5" width="66.7" height="4.4" fill="#b2b2b2"/>
<path d="M6.2,756.5 L6.20,751.35 L6.70,751.36 L7.20,751.40 L7.70,751.45 L8.20,751.50 L8.70,751.53 L9.20,751.54 L9.70,751.51 L10.20,751.45 L10.70,751.35 L11.20,751.23 L11.70,751.09 L12.20,750.95 L12.70,750.81 L13.20,750.70 L13.70,750.62 L14.20,750.58 L14.70,750.58 L15.20,750.62 L15.70,750.71 L16.20,750.81 L16.70,750.92 L17.20,751.03 L17.70,751.11 L18.20,751.15 L18.70,751.13 L19.20,751.05 L19.70,750.90 L20.20,750.68 L20.70,750.41 L21.20,750.10 L21.70,749.76 L22.20,749.42 L22.70,749.10 L23.20,748.82 L23.70,748.61 L24.20,748.48 L24.70,748.44 L25.20,748.50 L25.70,748.65 L26.20,748.89 L26.70,749.20 L27.20,749.56 L27.70,749.95 L28.20,750.35 L28.70,750.74 L29.20,751.10 L29.70,751.41 L30.20,751.67 L30.70,751.86 L31.20,752.00 L31.70,752.09 L32.20,752.14 L32.70,752.15 L33.20,752.16 L33.70,752.16 L34.20,752.18 L34.70,752.21 L35.20,752.26 L35.70,752.33 L36.20,752.41 L36.70,752.50 L37.20,752.58 L37.70,752.64 L38.20,752.66 L38.70,752.64 L39.20,752.57 L39.70,752.45 L40.20,752.27 L40.70,752.04 L41.20,751.78 L41.70,751.50 L42.20,751.22 L42.70,750.95 L43.20,750.73 L43.70,750.56 L44.20,750.46 L44.70,750.42 L45.20,750.47 L45.70,750.58 L46.20,750.75 L46.70,750.96 L47.20,751.19 L47.70,751.42 L48.20,751.62 L48.70,751.78 L49.20,751.88 L49.70,751.91 L50.20,751.85 L50.70,751.71 L51.20,751.50 L51.70,751.22 L52.20,750.90 L52.70,750.56 L53.20,750.21 L53.70,749.88 L54.20,749.59 L54.70,749.35 L55.20,749.17 L55.70,749.05 L56.20,749.00 L56.70,749.01 L57.20,749.07 L57.70,749.17 L58.20,749.29 L58.70,749.42 L59.20,749.54 L59.70,749.65 L60.20,749.74 L60.70,749.81 L61.20,749.87 L61.70,749.92 L62.20,749.97 L62.70,750.03 L63.20,750.13 L63.70,750.26 L64.20,750.44 L64.70,750.67 L65.20,750.94 L65.70,751.26 L66.20,751.60 L66.70,751.96 L67.20,752.32 L67.70,752.64 L68.20,752.92 L68.70,753.14 L69.20,753.27 L69.70,753.32 L70.20,753.28 L70.70,753.15 L71.20,752.94 L71.70,752.68 L72.20,752.37 L72.70,752.04 L73.20,751.71 L73.70,751.41 L74.20,751.16 L74.70,750.97 L75.20,750.85 L75.70,750.80 L76.20,750.83 L76.70,750.92 L77.20,751.05 L77.70,751.22 L78.20,751.40 L78.70,751.57 L79.20,751.71 L79.70,751.82 L80.20,751.87 L80.70,751.87 L81.20,751.81 L81.70,751.71 L82.20,751.56 L82.70,751.39 L83.20,751.21 L83.70,751.03 L84.20,750.87 L84.70,750.73 L85.20,750.62 L85.70,750.54 L86.20,750.50 L86.70,750.47 L87.20,750.46 L87.70,750.45 L88.20,750.42 L88.70,750.37 L89.20,750.28 L89.70,750.15 L90.20,749.98 L90.70,749.78 L91.20,749.54 L91.70,749.30 L92.20,749.06 L92.70,748.85 L93.20,748.69 L93.70,748.58 L94.20,748.56 L94.70,748.62 L95.20,748.78 L95.70,749.03 L96.20,749.35 L96.70,749.75 L97.20,750.19 L97.70,750.65 L98.20,751.11 L98.70,751.54 L99.20,751.93 L99.70,752.25 L100.20,752.50 L100.70,752.66 L101.20,752.74 L101.70,752.73 L102.20,752.67 L102.70,752.55 L103.20,752.40 L103.70,752.24 L104.20,752.09 L104.70,751.95 L105.20,751.85 L105.70,751.78 L106.20,751.75 L106.70,751.76 L107.20,751.79 L107.70,751.84 L108.20,751.90 L108.70,751.94 L109.20,751.96 L109.70,751.95 L110.20,751.91 L110.70,751.82 L111.20,751.71 L111.70,751.56 L112.20,751.41 L112.70,751.25 L113.20,751.11 L113.70,751.00 L114.20,750.93 L114.70,750.90 L115.20,750.93 L115.70,751.01 L116.20,751.13 L116.70,751.28 L117.20,751.44 L117.70,751.59 L118.20,751.72 L118.70,751.80 L119.20,751.82 L119.70,751.76 L120.20,751.63 L120.70,751.41 L121.20,751.13 L121.70,750.78 L122.20,750.40 L122.70,749.99 L123.20,749.59 L123.70,749.22 L124.20,748.90 L124.70,748.65 L125.20,748.48 L125.70,748.40 L126.20,748.41 L126.70,748.51 L127.20,748.68 L127.70,748.91 L128.20,749.19 L128.70,749.48 L129.20,749.78 L129.70,750.06 L130.20,750.32 L130.70,750.54 L131.20,750.72 L131.70,750.87 L132.20,750.98 L132.70,751.07 L133.20,751.14 L133.70,751.22 L134.20,751.31 L134.70,751.42 L135.20,751.56 L135.70,751.72 L136.20,751.90 L136.70,752.10 L137.20,752.29 L137.70,752.48 L138.20,752.64 L138.70,752.75 L139.20,752.82 L139.70,752.81 L140.20,752.74 L140.70,752.60 L141.20,752.41 L141.70,752.16 L142.20,751.89 L142.70,751.60 L143.20,751.33 L143.70,751.08 L144.20,750.89 L144.70,750.76 L145.20,750.71 L145.70,750.73 L146.20,750.83 L146.70,750.99 L147.20,751.20 L147.70,751.45 L148.20,751.70 L148.70,751.93 L149.20,752.13 L149.70,752.28 L150.20,752.36 L150.70,752.36 L151,756.5Z" fill="#b4c4e8"/>
<rect x="6.2" y="756" width="144.8" height="14.2" fill="#a9a9a9"/>
<text x="84.40" y="766.70" font-size="10.8" text-anchor="middle" fill="#231f20">Li Metal</text>
<text x="84.60" y="783.40" font-size="10.2" text-anchor="middle" fill="#231f20">1 M LiFSI in DME</text>
<circle cx="34.80" cy="752.80" r="4.00" fill="none" stroke="#6a6a6a" stroke-width="0.6" stroke-dasharray="1.2 1"/>
<line x1="34.60" y1="732.00" x2="34.60" y2="748.20" stroke="#7a7a7a" stroke-width="0.6"/>
<path d="M34.60,748.20 L33.59,745.81 L35.61,745.81Z" fill="#7a7a7a"/>
<line x1="37.50" y1="750.00" x2="83.50" y2="717.40" stroke="#7a7a7a" stroke-width="0.6"/>
<path d="M83.50,717.40 L82.13,719.61 L80.96,717.96Z" fill="#7a7a7a"/>
<circle cx="206.90" cy="694.40" r="24.80" fill="none" stroke="#6a6a6a" stroke-width="0.75" stroke-dasharray="2.2 1.6"/>
<ellipse cx="206.00" cy="663.90" rx="9.30" ry="3.70" fill="#0aa5e6"/>
<ellipse cx="178.60" cy="684.70" rx="3.80" ry="9.30" fill="#0aa5e6" transform="rotate(12 178.60 684.70)"/>
<ellipse cx="235.10" cy="684.10" rx="3.80" ry="9.30" fill="#0aa5e6" transform="rotate(-14 235.10 684.10)"/>
<ellipse cx="194.80" cy="685.40" rx="3.60" ry="8.80" fill="#0aa5e6" transform="rotate(-30 194.80 685.40)"/>
<ellipse cx="188.00" cy="669.90" rx="6.30" ry="3.50" fill="#f9b6b8" transform="rotate(-30 188.00 669.90)"/>
<ellipse cx="223.30" cy="668.60" rx="6.30" ry="3.50" fill="#f9b6b8" transform="rotate(30 223.30 668.60)"/>
<ellipse cx="178.00" cy="702.70" rx="3.30" ry="6.00" fill="#f9b6b8" transform="rotate(-18 178.00 702.70)"/>
<ellipse cx="235.70" cy="703.40" rx="3.30" ry="6.00" fill="#f9b6b8" transform="rotate(15 235.70 703.40)"/>
<ellipse cx="207.80" cy="687.20" rx="6.60" ry="2.50" fill="#7fcde0" transform="rotate(-35 207.80 687.20)"/>
<ellipse cx="210.90" cy="694.00" rx="6.60" ry="2.50" fill="#7fcde0" transform="rotate(-25 210.90 694.00)"/>
<ellipse cx="192.30" cy="701.50" rx="6.60" ry="2.50" fill="#7fcde0" transform="rotate(-20 192.30 701.50)"/>
<ellipse cx="204.70" cy="707.70" rx="6.60" ry="2.50" fill="#7fcde0" transform="rotate(65 204.70 707.70)"/>
<ellipse cx="215.90" cy="702.70" rx="6.60" ry="2.50" fill="#7fcde0" transform="rotate(-62 215.90 702.70)"/>
<ellipse cx="218.40" cy="681.00" rx="6.60" ry="2.50" fill="#7fcde0" transform="rotate(72 218.40 681.00)"/>
<ellipse cx="224.60" cy="697.80" rx="6.60" ry="2.50" fill="#7fcde0" transform="rotate(68 224.60 697.80)"/>
<circle cx="200.4" cy="697.2" r="2.7" fill="#a65ac6"/>
<circle cx="220.6" cy="688.5" r="2.7" fill="#a65ac6"/>
<path d="M181.6,699.3 L190.7,688.7 M198.4,683.2 L218,670.1" fill="none" stroke="#7fcfe6" stroke-width="1.7" stroke-dasharray="1.5 1.3"/>
<path d="M184.40,696.00 L185.37,691.03 L189.16,694.29Z" fill="#7fcfe6"/>
<path d="M188.20,691.70 L187.34,696.23 L183.85,693.24Z" fill="#7fcfe6"/>
<path d="M209.80,675.60 L207.53,680.12 L204.75,675.97Z" fill="#7fcfe6"/>
<path d="M205.30,678.60 L207.35,674.47 L209.90,678.29Z" fill="#7fcfe6"/>
<circle cx="190" cy="674.6" r="0.9" fill="#7fcfe6"/>
<text x="220.80" y="661.80" font-size="10.6" text-anchor="middle" fill="#231f20" transform="rotate(25 220.80 661.80)">Pulling</text>
<text x="188.20" y="727.60" font-size="10.2" fill="#231f20">Anion-rich</text>
<rect x="174.4" y="747.8" width="144.5" height="7" fill="#b4c4e8"/>
<rect x="174.4" y="754.7" width="144.5" height="14.9" fill="#a9a9a9"/>
<text x="249.40" y="766.70" font-size="10.8" text-anchor="middle" fill="#231f20">Li Metal</text>
<text x="246.70" y="783.00" font-size="10.3" text-anchor="middle" fill="#231f20">1 M LiFSI in DEA/FB (1:1 v/v)</text>
<circle cx="206.70" cy="749.80" r="4.00" fill="none" stroke="#6a6a6a" stroke-width="0.6" stroke-dasharray="1.2 1"/>
<line x1="207.00" y1="731.00" x2="207.00" y2="745.00" stroke="#7a7a7a" stroke-width="0.6"/>
<path d="M207.00,745.00 L205.99,742.61 L208.01,742.61Z" fill="#7a7a7a"/>
<line x1="209.70" y1="746.00" x2="258.50" y2="717.00" stroke="#7a7a7a" stroke-width="0.6"/>
<path d="M258.50,717.00 L256.96,719.09 L255.92,717.35Z" fill="#7a7a7a"/>
<circle cx="6.2" cy="795.4" r="2.4" fill="#a65ac6"/>
<text x="10.40" y="799.10" font-size="11" fill="#231f20">Li<tspan font-size="7" dy="-4">+</tspan></text>
<ellipse cx="73.30" cy="795.00" rx="5.80" ry="2.30" fill="#6ecbe0"/>
<text x="80.20" y="799.10" font-size="11" fill="#231f20">FSI<tspan font-size="7" dy="-4">-</tspan></text>
<ellipse cx="142.80" cy="795.20" rx="6.30" ry="2.80" fill="#f9b6b8"/>
<text x="149.80" y="799.10" font-size="11" fill="#231f20">FB</text>
<ellipse cx="209.90" cy="794.20" rx="8.90" ry="2.30" fill="#f2a877"/>
<text x="219.80" y="799.10" font-size="11" fill="#231f20">DME</text>
<ellipse cx="278.50" cy="794.50" rx="9.30" ry="3.60" fill="#0aa5e6"/>
<text x="287.80" y="799.10" font-size="11" fill="#231f20">DEA</text>
<rect x="4.5" y="808.6" width="4.9" height="5.7" fill="#6dcbe0"/>
<text x="10.90" y="815.60" font-size="11" fill="#231f20">Li<tspan font-size="7.5" dy="2.5">2</tspan><tspan dy="-2.5">O</tspan></text>
<rect x="69" y="808.6" width="5" height="5.7" fill="#f9b8bc"/>
<text x="75.80" y="815.60" font-size="11" fill="#231f20">LiF</text>
<rect x="140.2" y="808.6" width="5" height="5.7" fill="#d0d0d0"/>
<text x="147.80" y="815.60" font-size="11" fill="#231f20">Organic<tspan font-size="6.6" dy="2.5">solvent</tspan></text>
<line x1="211" y1="813.4" x2="244.4" y2="813.4" stroke="#7fcfe6" stroke-width="1.6" stroke-dasharray="2 1.6"/>
<text x="250.60" y="815.20" font-size="10.2" fill="#231f20">Hydrogen bond</text>
<text x="326.20" y="655.00" font-size="18.3" font-weight="bold" fill="#000">j</text>
<rect x="339.90" y="652.00" width="112.50" height="75.70" fill="#777" filter="url(#semT1)"/>
<rect x="339.90" y="652.00" width="112.50" height="75.70" fill="#777" filter="url(#semE1)" opacity="0.75"/>
<rect x="454.20" y="652.00" width="112.00" height="75.70" fill="#777" filter="url(#semT2)"/>
<rect x="454.20" y="652.00" width="112.00" height="75.70" fill="#777" filter="url(#semE2)" opacity="0.6"/>
<rect x="569.20" y="652.00" width="112.00" height="75.70" fill="#777" filter="url(#semT3)"/>
<rect x="569.20" y="652.00" width="112.00" height="75.70" fill="#777" filter="url(#semE3)" opacity="0.5"/>
<text x="341.00" y="662.00" font-size="9.9" fill="#f4f4f4">1 M LiFSI in DME</text>
<text x="455.20" y="662.00" font-size="9.9" fill="#f4f4f4">1 M LiFSI in DEA</text>
<text x="575.50" y="661.80" font-size="9.9" fill="#f4f4f4">1 M LiFSI in</text>
<text x="575.50" y="675.70" font-size="9.9" fill="#f4f4f4">DEA/FB (1:1 v/v)</text>
<rect x="345.20" y="723.50" width="36.00" height="2.10" fill="#fff"/>
<text x="348.00" y="718.80" font-size="10.3" fill="#f4f4f4">50 µm</text>
<rect x="458.00" y="723.50" width="36.00" height="2.10" fill="#fff"/>
<text x="462.80" y="718.80" font-size="10.3" fill="#f4f4f4">50 µm</text>
<rect x="575.90" y="723.50" width="36.00" height="2.10" fill="#fff"/>
<text x="580.60" y="718.80" font-size="10.3" fill="#f4f4f4">50 µm</text>
<rect x="339.90" y="736.00" width="114.40" height="24.00" fill="url(#skyB1)"/>
<rect x="339.90" y="759.50" width="114.40" height="43.50" fill="#777" filter="url(#semM1)"/>
<rect x="339.90" y="803.00" width="114.40" height="19.00" fill="#777" filter="url(#semL1)"/>
<ellipse cx="362" cy="758.6" rx="5" ry="2.0" fill="#f2f2f2"/>
<ellipse cx="436" cy="758.6" rx="8" ry="2.0" fill="#f2f2f2"/>
<ellipse cx="447" cy="758.6" rx="6" ry="2.0" fill="#f2f2f2"/>
<ellipse cx="398" cy="758.6" rx="4" ry="2.0" fill="#f2f2f2"/>
<rect x="455.80" y="736.00" width="112.30" height="25.00" fill="url(#skyB2)"/>
<rect x="455.80" y="761.00" width="112.30" height="30.50" fill="#777" filter="url(#semM2)"/>
<rect x="455.80" y="791.40" width="112.30" height="30.60" fill="#777" filter="url(#semL2)"/>
<path d="M455.8,761.5 L568.1,761.5 L568.1,764 Q540,767 512,764.5 Q485,767 455.8,764Z" fill="#e8e8e8" fill-opacity="0.85"/>
<rect x="569.80" y="736.00" width="112.00" height="28.00" fill="url(#skyB3)"/>
<rect x="569.80" y="764.00" width="112.00" height="12.00" fill="#777" filter="url(#semM3)"/>
<rect x="569.80" y="776.00" width="112.00" height="46.00" fill="#777" filter="url(#semL3)"/>
<rect x="569.80" y="765.30" width="112.00" height="1.30" fill="#e6e6e6"/>
<line x1="339.90" y1="759.70" x2="454.30" y2="759.70" stroke="#86d4da" stroke-width="1.6" stroke-dasharray="4.6 2"/>
<line x1="339.90" y1="802.80" x2="454.30" y2="802.80" stroke="#86d4da" stroke-width="1.6" stroke-dasharray="4.6 2"/>
<line x1="390.70" y1="764.00" x2="390.70" y2="799.00" stroke="#86d4da" stroke-width="1.1"/>
<path d="M390.70,761.50 L393.00,765.00 L388.40,765.00Z" fill="#86d4da"/>
<path d="M390.70,801.50 L388.40,798.00 L393.00,798.00Z" fill="#86d4da"/>
<line x1="455.80" y1="761.00" x2="568.10" y2="761.00" stroke="#f2c45a" stroke-width="1.6" stroke-dasharray="4.6 2"/>
<line x1="455.80" y1="791.40" x2="568.10" y2="791.40" stroke="#f2c45a" stroke-width="1.6" stroke-dasharray="4.6 2"/>
<line x1="519.70" y1="765.00" x2="519.70" y2="787.70" stroke="#f2c45a" stroke-width="1.1"/>
<path d="M519.70,762.50 L522.00,766.00 L517.40,766.00Z" fill="#f2c45a"/>
<path d="M519.70,790.20 L517.40,786.70 L522.00,786.70Z" fill="#f2c45a"/>
<line x1="569.80" y1="763.90" x2="681.80" y2="763.90" stroke="#f1824e" stroke-width="1.6" stroke-dasharray="4.6 2"/>
<line x1="569.80" y1="775.90" x2="681.80" y2="775.90" stroke="#f1824e" stroke-width="1.6" stroke-dasharray="4.6 2"/>
<line x1="627.10" y1="767.50" x2="627.10" y2="772.50" stroke="#f1824e" stroke-width="1.1"/>
<path d="M627.10,765.00 L629.40,768.50 L624.80,768.50Z" fill="#f1824e"/>
<path d="M627.10,775.00 L624.80,771.50 L629.40,771.50Z" fill="#f1824e"/>
<text x="400.20" y="785.40" font-size="10.2" fill="#f4f4f4">34 µm</text>
<text x="528.30" y="780.00" font-size="10.2" fill="#f4f4f4">24 µm</text>
<text x="641.40" y="773.40" font-size="10.2" fill="#f4f4f4">10 µm</text>
<rect x="341.80" y="816.20" width="36.00" height="2.10" fill="#fff"/>
<text x="350.00" y="813.30" font-size="10.3" fill="#f4f4f4">30 µm</text>
<rect x="459.00" y="816.20" width="36.00" height="2.10" fill="#fff"/>
<text x="464.70" y="813.30" font-size="10.3" fill="#f4f4f4">30 µm</text>
<rect x="574.00" y="816.20" width="36.00" height="2.10" fill="#fff"/>
<text x="579.70" y="813.30" font-size="10.3" fill="#f4f4f4">30 µm</text>
</svg></body></html>
